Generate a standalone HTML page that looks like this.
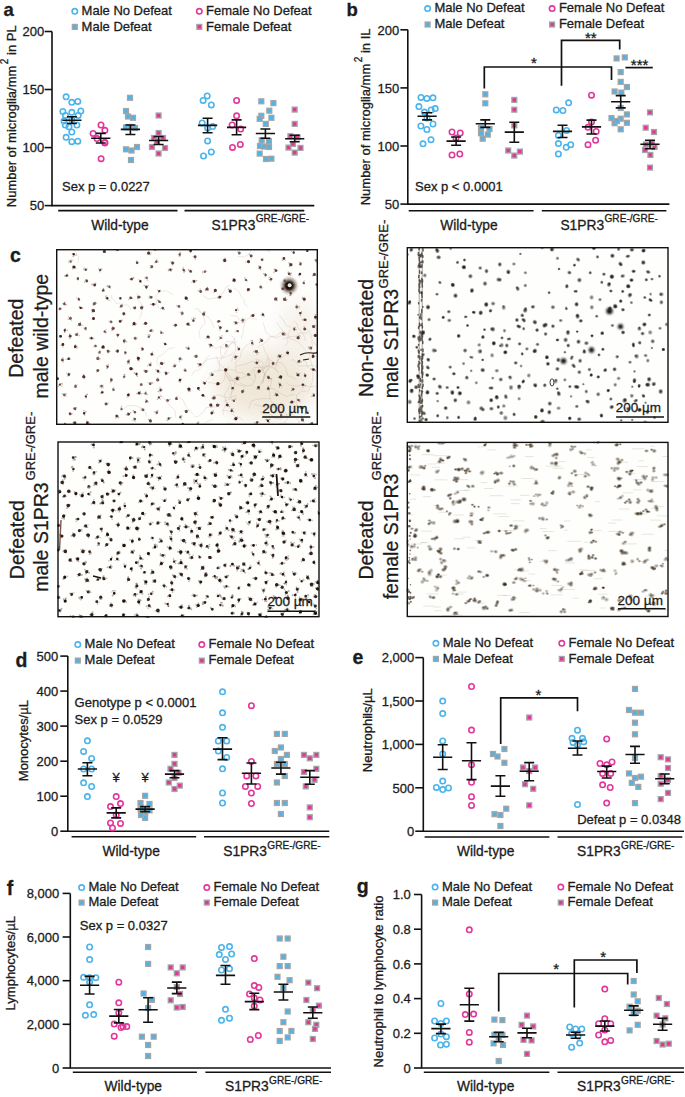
<!DOCTYPE html>
<html><head><meta charset="utf-8"><style>
html,body{margin:0;padding:0;background:#fff;width:685px;height:1097px;overflow:hidden}
svg{display:block;font-family:"Liberation Sans",sans-serif;font-size:13.0px}
#charts text{fill:#1c1c1c;stroke:#1c1c1c;stroke-width:.3px}
.tx text{stroke:#1c1c1c;stroke-width:.28px}
#charts .o{fill:none;stroke-width:1.6}
#charts .s{stroke:none}
</style></head><body>
<svg width="685" height="1097" viewBox="0 0 685 1097">
<defs>
<filter id="bl05" x="-50%" y="-50%" width="200%" height="200%"><feGaussianBlur stdDeviation="0.5"/></filter>
<filter id="bl1" x="-50%" y="-50%" width="200%" height="200%"><feGaussianBlur stdDeviation="1"/></filter>
<filter id="bl07" x="-50%" y="-50%" width="200%" height="200%"><feGaussianBlur stdDeviation="0.7"/></filter>
<filter id="bl08" x="-50%" y="-50%" width="200%" height="200%"><feGaussianBlur stdDeviation="0.85"/></filter>
<radialGradient id="rg3"><stop offset="0" stop-color="#1c1a17"/><stop offset=".3" stop-color="#24221e" stop-opacity=".85"/><stop offset="1" stop-color="#3a3832" stop-opacity="0"/></radialGradient>
<radialGradient id="rg4"><stop offset="0" stop-color="#2a1e12"/><stop offset=".3" stop-color="#3a2c1c" stop-opacity=".7"/><stop offset="1" stop-color="#5a4a34" stop-opacity="0"/></radialGradient>
<filter id="bl6" x="-50%" y="-50%" width="200%" height="200%"><feGaussianBlur stdDeviation="10"/></filter>
</defs>
<rect width="685" height="1097" fill="#fff"/>
<g><clipPath id="cl1"><rect x="56" y="249" width="262" height="176"/></clipPath><g clip-path="url(#cl1)"><rect x="56" y="249" width="262" height="176" fill="#fefefd"/><g filter="url(#bl6)" opacity=".6"><ellipse cx="265" cy="385" rx="50" ry="35" fill="#e6d9c2"/><ellipse cx="300" cy="330" rx="20" ry="30" fill="#f0e9dc"/></g><g fill="none" stroke="#9a8068" stroke-width=".5" stroke-opacity=".35" stroke-linejoin="round"><path d="M174.5 347.5L168.1 348.8L164.0 353.3L157.5 357.5L156.6 362.3L161.3 368.6"/><path d="M237.7 256.4L244.4 256.9L246.9 255.2L249.8 253.4L251.5 249.3L248.6 244.4"/><path d="M277.7 372.0L274.9 368.2L278.1 359.8L284.3 356.1L287.0 352.7L287.9 349.4"/><path d="M256.8 319.5L248.8 317.9L245.9 320.9L240.1 320.8L237.1 316.3L230.4 315.4"/><path d="M243.2 421.2L240.3 417.8L237.0 417.6L233.7 415.2L229.6 411.2L222.3 410.1"/><path d="M253.1 341.6L246.3 345.4L241.1 351.8L240.6 357.2L235.7 361.9L235.6 370.9"/><path d="M111.9 294.5L111.6 297.9L115.9 302.7L122.2 304.8L127.9 305.2L131.1 310.1"/><path d="M223.3 415.3L222.9 411.2L226.3 403.2L224.5 394.7L228.1 389.1L229.5 385.7"/><path d="M284.9 346.2L287.8 342.5L287.8 335.1L284.5 332.3L279.1 326.3L276.8 322.2"/><path d="M236.1 366.2L241.2 364.9L244.9 364.4L252.6 361.2L258.5 364.9L262.3 370.1"/><path d="M307.9 393.3L310.4 387.0L312.9 380.0L312.7 371.0L307.9 367.0L304.7 359.2"/><path d="M249.1 372.8L253.9 367.6L262.1 367.3L269.7 365.8L275.3 369.1L279.0 372.8"/><path d="M277.6 424.3L282.7 422.7L289.1 423.8L297.1 424.2L302.4 418.9L301.4 412.4"/><path d="M261.7 384.1L263.4 381.6L264.7 374.6L263.0 370.9L265.7 364.5L268.1 356.5"/><path d="M254.3 404.4L259.4 405.6L264.0 407.4L269.6 405.4L277.3 408.0L283.6 414.0"/><path d="M236.8 341.7L231.1 343.4L224.8 348.3L219.3 346.6L216.6 348.3L213.4 347.6"/><path d="M294.6 321.0L296.9 323.2L297.6 327.6L300.1 329.7L303.3 334.4L305.7 340.9"/><path d="M228.3 369.4L234.1 370.2L237.5 372.4L242.6 373.0L247.9 376.0L253.5 381.1"/><path d="M159.1 388.4L160.3 395.6L164.7 399.2L169.8 405.9L174.8 410.0L175.9 417.7"/><path d="M228.9 395.5L233.7 390.0L234.9 381.7L242.7 377.6L249.9 374.6L256.0 368.8"/><path d="M255.4 377.3L255.7 374.2L257.9 371.6L261.7 370.5L268.1 366.2L269.1 362.4"/><path d="M191.3 376.3L194.2 371.1L197.7 370.6L202.3 366.5L205.4 359.8L209.4 355.1"/><path d="M248.7 408.6L251.5 401.0L257.5 399.3L261.6 398.8L267.6 398.5L270.8 398.9"/><path d="M295.7 378.7L292.5 377.6L287.5 375.4L285.3 367.2L281.5 362.8L275.9 362.2"/><path d="M241.5 339.3L241.6 335.5L243.3 332.9L243.2 328.5L244.8 323.9L245.1 317.2"/><path d="M263.2 345.6L264.7 351.0L267.4 355.7L269.1 359.3L275.0 362.7L279.3 367.1"/><path d="M279.0 356.7L276.2 364.0L271.7 365.9L265.5 371.8L263.3 380.5L260.1 382.5"/><path d="M216.9 407.2L213.1 406.9L206.1 407.7L204.0 411.4L197.6 416.9L194.0 416.0"/><path d="M282.8 339.0L285.8 337.9L291.7 336.5L295.6 336.1L298.7 333.3L307.7 332.8"/><path d="M312.6 368.0L311.1 362.4L309.8 356.9L309.8 353.8L312.8 346.4L311.3 340.8"/><path d="M224.5 373.3L229.4 379.4L231.7 387.2L231.8 392.6L230.7 398.6L223.6 401.8"/><path d="M123.7 409.4L127.6 405.6L135.8 405.8L142.8 408.9L146.0 413.3L146.6 416.7"/><path d="M245.8 386.7L237.4 384.6L233.2 381.9L229.2 376.9L226.1 372.5L228.7 366.2"/><path d="M239.7 383.1L246.6 385.8L252.0 385.2L254.2 381.6L255.3 378.2L253.8 369.9"/><path d="M200.1 338.4L199.1 331.6L200.6 328.5L205.2 322.6L203.1 314.3L198.4 310.8"/><path d="M212.6 419.2L206.6 422.0L203.1 425.1L197.2 427.6L192.3 433.1L191.3 436.0"/><path d="M290.5 360.3L293.8 359.8L299.6 366.2L308.1 366.0L313.9 365.0L317.0 368.2"/><path d="M193.1 414.0L187.4 408.5L185.3 405.5L183.3 400.1L180.6 398.2L177.7 395.9"/><path d="M235.4 380.7L229.2 380.4L224.8 372.9L224.5 368.5L218.4 362.8L216.6 356.3"/><path d="M269.3 381.7L268.3 377.7L262.4 371.1L263.2 362.9L260.8 360.6L255.4 359.0"/><path d="M214.1 328.2L211.7 321.8L208.3 317.0L203.6 315.2L198.4 309.1L194.7 309.0"/><path d="M268.0 358.8L269.7 363.0L268.5 368.1L263.9 375.7L262.6 381.9L257.2 388.5"/><path d="M304.0 327.3L308.7 330.9L311.2 335.0L311.2 338.4L315.0 344.3L319.8 345.1"/><path d="M222.0 356.9L220.5 353.5L220.5 347.1L226.9 341.3L232.5 341.8L236.2 344.9"/><path d="M139.2 319.3L141.2 314.6L141.9 309.4L141.5 304.1L137.5 299.2L136.9 293.0"/><path d="M291.0 412.4L295.2 416.8L299.2 421.8L297.4 428.5L294.8 430.7L288.4 435.1"/><path d="M78.0 263.4L78.7 256.6L74.4 250.5L73.1 246.2L67.3 241.3L61.7 236.2"/><path d="M159.3 308.5L156.3 303.0L155.9 295.8L159.7 291.8L166.6 290.8L173.3 294.9"/><path d="M274.5 405.4L270.1 399.6L269.9 394.1L269.1 390.3L271.6 381.7L271.8 377.7"/><path d="M314.6 325.3L317.3 331.6L316.7 335.6L320.5 339.9L325.0 347.1L328.7 347.4"/><path d="M286.3 382.0L289.7 385.3L297.2 386.2L303.2 384.7L308.7 386.8L317.0 386.0"/><path d="M313.2 370.2L320.9 374.2L323.3 378.9L325.8 384.5L332.7 390.2L335.1 394.0"/><path d="M295.2 394.6L291.3 394.7L287.1 396.4L281.4 394.2L274.1 388.9L268.0 387.9"/><path d="M298.0 408.7L296.3 404.4L296.4 400.8L296.5 395.0L301.7 391.1L306.5 391.4"/><path d="M262.8 322.4L264.2 326.4L265.8 332.3L272.3 337.0L277.0 338.2L281.0 335.5"/><path d="M283.0 330.2L276.5 336.2L269.6 336.7L267.0 341.3L263.4 344.0L258.4 346.8"/><path d="M58.7 423.5L58.9 428.3L60.7 434.2L63.9 438.1L69.4 442.4L73.6 443.2"/><path d="M247.6 307.0L244.3 303.3L244.0 299.7L241.5 297.2L238.4 290.7L233.6 288.1"/><path d="M231.4 335.7L234.2 337.6L235.0 343.1L235.8 349.9L232.5 357.2L231.6 362.1"/><path d="M284.4 423.1L288.0 417.5L286.0 412.9L281.5 407.6L276.3 407.3L268.6 406.6"/><path d="M291.8 414.7L285.8 414.7L280.3 419.4L274.4 417.8L268.3 412.7L259.6 411.9"/><path d="M233.4 380.1L228.0 373.4L223.3 370.1L214.6 371.3L209.1 377.7L204.5 382.1"/><path d="M202.8 295.5L208.3 299.2L216.2 297.8L223.1 293.1L225.9 287.3L229.6 285.5"/><path d="M226.2 423.6L231.0 423.3L238.1 425.3L244.7 425.6L247.2 427.4L253.0 427.7"/><path d="M225.5 374.1L224.4 379.0L222.8 381.8L219.9 384.4L213.4 383.1L208.0 382.3"/><path d="M219.4 370.3L219.3 361.4L224.2 354.9L226.8 349.9L231.6 343.0L235.3 338.1"/><path d="M212.1 395.9L218.6 394.8L223.2 396.4L226.1 398.1L231.7 396.9L236.9 395.7"/><path d="M232.8 351.5L231.5 354.6L223.3 357.8L215.1 358.0L207.4 359.5L201.9 364.6"/><path d="M294.7 332.1L293.5 329.4L289.6 326.6L286.3 325.7L282.5 318.8L279.2 314.9"/><path d="M306.6 351.6L300.8 344.9L297.9 341.9L290.0 338.6L288.4 334.8L289.9 329.8"/></g><g filter="url(#bl05)" fill="none" stroke-linecap="round"><path d="M105.4 404.0h0M104.9 404.9h0M108.4 403.2h0M107.2 404.8h0M156.7 410.9h0M148.7 363.9h0M103.2 385.0h0M99.9 386.8h0M99.9 385.3h0M101.9 388.2h0M103.5 387.2h0M117.7 336.2h0M117.8 337.1h0M119.7 334.3h0M285.3 281.6h0M287.0 281.1h0M95.3 303.2h0M95.6 302.0h0M125.9 354.3h0M126.2 352.6h0M263.0 258.6h0M261.6 259.1h0M263.2 260.0h0M64.8 422.5h0M64.1 424.7h0M66.4 424.1h0M202.2 292.0h0M143.8 370.8h0M261.5 288.6h0M260.2 288.1h0M262.1 287.7h0M234.7 401.5h0M149.4 296.6h0M140.0 385.8h0M141.7 383.9h0M71.6 320.6h0M70.7 317.4h0M123.4 376.5h0M124.6 374.9h0M123.0 378.5h0M123.9 374.7h0M241.9 322.6h0M243.0 319.1h0M242.2 318.3h0M244.4 319.6h0M239.4 250.9h0M238.0 253.0h0M239.0 254.4h0M180.1 307.3h0M228.1 346.7h0M226.2 347.2h0M226.4 347.1h0M98.5 356.2h0M97.4 359.4h0M120.2 306.3h0M83.5 328.1h0M86.0 327.4h0M86.4 330.1h0M180.3 312.2h0M180.7 312.9h0M246.7 281.5h0M120.8 410.0h0M219.3 336.5h0M219.3 339.4h0M219.9 337.0h0M176.3 365.1h0M314.8 260.5h0M317.6 261.7h0M317.5 260.3h0M59.4 308.2h0M59.2 309.8h0M235.4 331.8h0M238.6 331.8h0M145.8 391.3h0M143.0 393.5h0M146.2 394.3h0M312.7 423.9h0M312.6 422.3h0M272.8 364.8h0M272.3 363.0h0M135.7 339.6h0M136.5 338.7h0M137.2 337.8h0M206.6 271.4h0M202.6 271.4h0M177.5 399.4h0M176.6 397.8h0M249.5 374.8h0M133.5 418.0h0M132.7 420.3h0M135.1 421.3h0M134.0 420.4h0M296.8 309.0h0M296.9 308.0h0M296.7 304.9h0M77.0 384.6h0M75.1 385.7h0M74.2 387.3h0M75.1 385.1h0M87.2 269.1h0M86.8 269.8h0M111.2 320.9h0M108.9 321.3h0M179.1 256.2h0M180.9 253.2h0M178.3 254.2h0M98.4 352.6h0M98.3 353.4h0M99.2 353.3h0M147.0 280.4h0M237.5 349.1h0M239.6 348.0h0M196.1 354.7h0M197.1 356.0h0M194.8 357.1h0M149.5 334.6h0M77.7 332.7h0M75.1 334.2h0M311.7 349.3h0M66.1 396.3h0M162.8 309.3h0M160.6 308.8h0M303.9 284.1h0M303.8 281.8h0M304.2 282.2h0M304.3 280.5h0M113.5 387.7h0M113.1 390.8h0M112.6 389.2h0M225.8 331.7h0M181.7 358.7h0M180.9 357.1h0M140.9 409.9h0M236.6 312.4h0M184.3 410.7h0M188.2 410.6h0M107.8 351.9h0M106.3 350.6h0M108.9 352.7h0M110.4 351.5h0M96.7 346.4h0M93.4 346.6h0M95.1 345.1h0M182.4 416.0h0M181.1 415.4h0M71.8 259.7h0M68.6 262.3h0M73.0 260.7h0" stroke="#5a3a2e" stroke-width="1.2" stroke-opacity="0.3"/><path d="M316.9 286.8h0M317.8 283.4h0M83.6 374.4h0M84.7 376.9h0M84.3 378.7h0M82.7 377.2h0M294.1 401.7h0M174.2 262.9h0M172.1 264.7h0M170.8 261.8h0M137.3 376.4h0M103.1 289.1h0M102.5 291.0h0M286.9 353.2h0M286.7 352.5h0M288.2 354.8h0M286.2 352.0h0M134.3 411.5h0M127.3 363.7h0M127.2 361.9h0M195.9 256.1h0M195.4 259.1h0M193.3 256.5h0M76.9 297.8h0M78.4 297.9h0M120.2 298.9h0M119.5 298.7h0M64.9 332.5h0M64.5 331.5h0M104.5 348.0h0M101.5 347.7h0M216.4 290.3h0M215.7 289.3h0M259.3 387.1h0M256.8 389.0h0M206.4 338.2h0M209.6 337.4h0M207.1 336.6h0M209.4 336.7h0M210.8 375.3h0M209.9 374.1h0M211.5 375.6h0M59.6 335.6h0M59.2 336.8h0M73.4 408.0h0M75.5 410.0h0M76.4 407.5h0M198.2 389.7h0M138.1 360.1h0M139.0 360.8h0M270.8 281.0h0M270.6 277.0h0M96.6 372.1h0M313.0 275.9h0M312.6 275.3h0M316.1 275.0h0M250.4 256.1h0M251.0 257.8h0M250.3 255.8h0M288.0 272.9h0M288.2 271.8h0M290.7 275.3h0M134.2 322.1h0M132.5 325.5h0M136.5 323.9h0M249.3 288.9h0M249.8 289.0h0M301.6 311.7h0M301.4 312.6h0M299.1 313.0h0M312.1 357.6h0M315.0 356.2h0M162.5 364.2h0M163.0 363.8h0M211.2 403.7h0M209.9 405.0h0M212.6 406.1h0M158.6 398.2h0M157.4 399.4h0M160.5 399.0h0M110.3 288.2h0M158.1 261.8h0M157.0 261.2h0M154.9 262.7h0M298.8 375.6h0M299.9 373.4h0M299.0 375.9h0M296.5 375.5h0M149.9 382.7h0M148.0 382.8h0M151.8 382.5h0M149.7 384.5h0M291.7 251.3h0M294.1 253.5h0M67.2 274.1h0M67.7 274.3h0M65.2 276.6h0M64.5 275.6h0M62.9 303.6h0M65.9 305.0h0M64.4 302.9h0M95.7 283.1h0M281.6 288.1h0M283.2 287.8h0M281.8 288.8h0M148.3 285.7h0M62.1 360.7h0M63.6 360.3h0M63.0 357.6h0M267.0 420.2h0M268.9 422.6h0M233.0 408.9h0M232.1 410.0h0M80.0 325.6h0M78.0 325.7h0M80.6 323.9h0M80.5 322.4h0M185.2 296.4h0M143.2 323.9h0M146.9 323.4h0M147.1 323.3h0M68.6 336.3h0M69.4 336.0h0M104.7 330.8h0M105.5 333.0h0M106.2 329.5h0M302.9 387.1h0M302.1 384.3h0M218.1 322.3h0M126.9 395.9h0M127.8 397.3h0M128.6 393.6h0M91.2 336.9h0M92.9 338.2h0M93.9 338.5h0M90.2 337.5h0M149.5 420.7h0M148.6 419.4h0M117.0 250.8h0M118.4 249.9h0M118.4 247.1h0M160.3 290.1h0M158.5 292.0h0M157.7 289.8h0M201.6 395.4h0M204.7 396.4h0M237.1 418.5h0M236.0 420.3h0M237.2 416.8h0M204.0 315.4h0M252.0 344.9h0M251.1 340.7h0M253.3 344.4h0M188.8 269.7h0M191.7 271.5h0M75.0 267.4h0M72.7 268.9h0M72.8 267.2h0M75.9 268.3h0M73.1 265.9h0M285.3 260.1h0M187.9 388.6h0M188.4 391.7h0M189.0 390.2h0M142.0 307.0h0M142.1 305.9h0M140.4 307.1h0M142.4 307.4h0M276.6 396.0h0M278.3 395.7h0M274.9 395.1h0M274.8 395.3h0M165.8 374.8h0M166.0 371.3h0M168.7 372.7h0M103.4 251.8h0M104.4 249.1h0M104.6 248.8h0M105.4 249.7h0M301.7 419.5h0M302.2 417.7h0M301.6 418.9h0M303.8 421.7h0M301.4 419.3h0M238.6 322.5h0M235.1 321.6h0M237.5 324.0h0M68.2 373.2h0M66.7 373.2h0M67.8 375.9h0M69.1 375.7h0M63.2 347.0h0M61.1 345.3h0M274.5 299.9h0M277.1 298.1h0M276.4 299.9h0M218.7 383.3h0M158.1 372.6h0M159.9 372.7h0M265.4 276.7h0M265.7 276.0h0M84.7 415.1h0M84.7 413.9h0M182.8 269.1h0M184.0 272.4h0M185.1 271.4h0M217.7 297.9h0M221.6 296.3h0M218.4 297.0h0M219.9 296.4h0M136.4 262.1h0M138.5 262.5h0M136.8 260.8h0M137.1 261.9h0M181.8 424.7h0M183.3 426.1h0M281.4 333.5h0M282.6 332.6h0M284.8 335.4h0M198.8 366.5h0M200.9 364.1h0M198.6 365.0h0M198.1 363.5h0M127.0 415.1h0M128.1 414.9h0M126.1 414.6h0M99.8 271.8h0M98.5 268.8h0M102.2 269.1h0M101.0 269.1h0M189.1 249.2h0M190.7 252.5h0M307.3 249.8h0M307.8 250.0h0M268.2 386.4h0M266.9 389.1h0M269.3 389.3h0M268.3 389.8h0M254.9 422.7h0M257.0 421.6h0M303.8 320.2h0M306.4 319.4h0M208.2 290.3h0M207.5 287.3h0M205.4 290.5h0M205.5 289.7h0M79.3 306.9h0M82.0 308.3h0M110.5 381.2h0M110.5 382.3h0M232.5 280.9h0M234.7 281.8h0M233.3 280.1h0M234.0 279.1h0M91.9 312.1h0M93.1 309.6h0M167.7 420.7h0M166.8 420.0h0M139.4 281.6h0M140.9 282.3h0M139.2 279.7h0M218.1 406.0h0M218.7 404.9h0M217.1 404.4h0M87.1 394.6h0M86.2 398.0h0M218.5 325.9h0M315.6 334.5h0M315.6 336.2h0M105.7 296.8h0M107.0 298.9h0M74.5 347.8h0M77.1 348.2h0M77.8 346.8h0M279.9 383.0h0M278.5 383.1h0M279.8 385.6h0M291.8 388.2h0M292.5 389.8h0M150.3 265.6h0M148.3 401.9h0M145.7 402.3h0M146.0 399.4h0M84.9 281.2h0M84.7 282.5h0M75.9 422.6h0M73.0 422.3h0M75.2 424.7h0M108.4 364.4h0M106.4 365.4h0M107.7 367.6h0M238.8 380.0h0M116.2 351.3h0M117.8 352.4h0M115.5 351.0h0M283.3 298.3h0M287.0 299.3h0M120.1 320.1h0M289.8 295.7h0M289.8 291.6h0M292.0 293.8h0M291.1 295.6h0M208.9 344.6h0M209.1 344.2h0M291.9 265.8h0M153.4 330.7h0M152.3 331.6h0M152.2 329.8h0M94.2 318.6h0M78.2 279.7h0M78.5 277.5h0M268.6 375.9h0M269.5 378.5h0M267.3 376.4h0M112.7 326.7h0M113.9 328.2h0M191.9 318.8h0M192.4 321.3h0M158.1 300.2h0M160.5 302.4h0M160.0 301.3h0M125.7 314.0h0M151.5 304.5h0M153.2 305.6h0M153.1 303.4h0M152.6 352.1h0M153.8 354.8h0M132.5 369.5h0M132.5 368.5h0M311.7 396.3h0M313.3 396.6h0M138.3 393.7h0M68.5 357.7h0M66.0 359.3h0M68.1 358.3h0M297.5 361.9h0M301.3 361.9h0M56.6 380.1h0M58.5 378.9h0M252.1 315.8h0M254.2 314.1h0M250.6 316.2h0M169.7 268.9h0M170.9 271.2h0M172.1 269.4h0M247.5 261.6h0M249.8 262.3h0M245.9 261.9h0M277.3 270.6h0M276.7 270.2h0M184.9 368.4h0M186.0 371.5h0M295.2 327.4h0M296.2 329.8h0M293.9 327.4h0M258.8 352.5h0M257.2 351.2h0M255.0 350.7h0M305.0 376.5h0M304.4 373.5h0M305.3 377.2h0M281.3 379.0h0M280.6 377.9h0M128.8 299.6h0M131.7 298.0h0M278.9 355.3h0M281.3 354.6h0M72.2 413.8h0M186.9 348.1h0M118.4 416.2h0M115.6 418.1h0M86.4 424.6h0M86.5 421.0h0M73.0 256.5h0M73.6 256.2h0M72.5 254.2h0M312.6 369.3h0M191.9 282.5h0M194.5 280.2h0M193.2 281.1h0M192.7 280.4h0M297.3 399.2h0M235.2 359.2h0M300.1 262.2h0M299.5 264.3h0M266.7 246.9h0M269.1 251.0h0M61.0 383.4h0M61.8 386.2h0M124.9 339.2h0M233.6 387.7h0M231.7 389.1h0M232.6 387.3h0M233.5 389.1h0M305.3 413.8h0M305.8 412.8h0M308.9 411.0h0M307.2 411.3h0M300.8 273.9h0M299.4 275.4h0M299.6 275.8h0M304.1 326.5h0M305.5 329.2h0M305.5 329.7h0M204.7 384.1h0M206.4 381.5h0M141.3 348.4h0M141.5 350.4h0M143.0 350.4h0M165.7 343.0h0M166.6 344.5h0M129.9 279.4h0M133.8 278.2h0M302.4 298.2h0M305.3 299.3h0M302.7 297.2h0M305.0 300.3h0M153.2 247.9h0M152.8 248.5h0M190.1 325.4h0M189.0 325.2h0M244.2 391.1h0M243.6 389.6h0M101.5 391.1h0M100.2 393.0h0M100.4 393.1h0M222.9 259.8h0M148.7 251.0h0M148.0 254.1h0M151.1 252.8h0M259.0 370.2h0M260.1 371.4h0M138.1 297.9h0M137.5 298.1h0M181.6 379.8h0M302.8 408.5h0M304.1 407.5h0M303.7 407.9h0M196.2 424.0h0M197.4 422.2h0M198.9 426.3h0M255.1 362.5h0M255.6 363.0h0M173.5 325.4h0M175.5 326.5h0M175.0 326.7h0" stroke="#5a3a2e" stroke-width="1.2" stroke-opacity="0.4"/><path d="M105.0 403.2h0M312.5 325.7h0M315.5 325.5h0M314.1 327.5h0M156.5 413.7h0M157.8 410.8h0M154.5 411.8h0M150.8 362.9h0M147.8 365.7h0M117.3 334.4h0M284.5 279.8h0M285.5 281.1h0M96.4 303.5h0M93.1 305.2h0M95.8 302.6h0M125.0 351.5h0M124.7 353.8h0M124.8 351.9h0M261.1 259.6h0M64.4 425.3h0M64.8 425.2h0M200.2 289.1h0M198.2 290.8h0M144.3 370.2h0M147.7 371.0h0M146.7 371.8h0M235.6 398.9h0M232.2 400.0h0M149.3 297.7h0M152.2 297.0h0M149.9 296.1h0M149.1 298.1h0M142.0 385.2h0M68.4 316.8h0M68.2 319.2h0M124.8 374.5h0M243.1 322.4h0M160.9 333.4h0M163.4 333.3h0M160.5 331.0h0M238.0 251.7h0M178.9 307.3h0M177.0 305.9h0M227.6 346.8h0M99.0 359.8h0M100.1 358.8h0M120.1 307.4h0M122.3 305.9h0M122.2 304.4h0M85.5 329.6h0M85.8 327.6h0M181.6 315.0h0M182.0 311.7h0M182.4 311.8h0M247.2 280.5h0M244.9 277.9h0M121.1 407.7h0M121.7 406.6h0M222.2 338.2h0M221.9 335.9h0M174.6 364.2h0M174.8 364.4h0M173.2 366.5h0M315.0 259.3h0M316.2 262.1h0M61.1 308.5h0M236.7 330.2h0M236.6 331.3h0M159.0 380.2h0M157.9 378.0h0M158.2 380.8h0M145.8 392.6h0M147.2 394.4h0M309.9 423.9h0M312.0 424.9h0M273.0 364.5h0M279.8 413.1h0M280.6 417.1h0M280.7 414.0h0M135.8 337.0h0M136.2 338.8h0M205.4 270.6h0M202.6 272.7h0M176.6 396.9h0M250.4 375.2h0M249.0 375.2h0M249.3 374.9h0M299.0 307.7h0M299.1 306.5h0M169.9 399.6h0M168.2 401.2h0M168.5 400.5h0M75.6 385.1h0M84.1 268.0h0M86.2 269.0h0M83.8 269.4h0M110.2 321.4h0M110.0 322.3h0M110.2 320.5h0M180.0 252.4h0M179.7 256.1h0M100.0 350.9h0M100.3 353.6h0M145.1 277.9h0M147.4 278.9h0M237.6 347.3h0M238.3 349.9h0M194.3 356.1h0M148.4 334.8h0M150.2 335.6h0M77.8 334.0h0M79.0 335.6h0M311.1 348.8h0M309.4 349.1h0M308.8 347.1h0M308.4 347.6h0M62.4 393.9h0M62.6 394.1h0M66.1 393.7h0M164.2 309.4h0M304.3 283.8h0M300.1 336.0h0M298.9 335.8h0M298.5 338.8h0M297.4 338.0h0M299.0 338.6h0M112.7 388.7h0M226.5 331.7h0M228.1 331.1h0M179.9 358.0h0M182.0 359.7h0M179.6 361.3h0M142.0 410.2h0M142.0 408.6h0M235.3 310.0h0M237.4 308.2h0M238.4 310.0h0M186.1 412.6h0M107.8 352.8h0M96.2 345.9h0M179.7 417.8h0M181.3 419.1h0M69.2 261.1h0" stroke="#5a3a2e" stroke-width="1.6" stroke-opacity="0.3"/><path d="M318.5 284.5h0M290.3 402.5h0M290.5 402.5h0M172.9 264.8h0M136.6 372.8h0M136.8 375.5h0M134.5 372.9h0M102.2 290.6h0M103.5 288.6h0M102.6 290.4h0M264.1 316.2h0M262.4 313.4h0M262.2 315.1h0M261.4 315.0h0M133.2 410.5h0M135.1 412.9h0M135.7 412.2h0M129.0 363.6h0M129.2 359.9h0M194.8 255.8h0M194.8 256.1h0M79.5 299.7h0M79.4 300.3h0M120.4 298.9h0M120.9 299.0h0M65.3 328.7h0M64.6 331.8h0M67.1 330.2h0M102.8 348.3h0M214.1 292.2h0M259.4 388.8h0M258.0 388.6h0M259.3 389.2h0M209.1 338.3h0M211.3 373.1h0M59.7 336.2h0M74.1 408.8h0M199.5 390.2h0M199.2 387.9h0M137.4 358.4h0M137.5 357.0h0M138.1 360.3h0M269.4 279.6h0M269.2 277.5h0M272.0 278.9h0M96.8 370.2h0M98.8 370.1h0M249.6 254.6h0M291.2 273.4h0M135.0 325.0h0M247.8 290.9h0M300.4 315.1h0M312.5 354.7h0M313.3 354.6h0M164.0 363.0h0M160.4 362.9h0M162.3 364.4h0M211.2 406.8h0M161.0 396.3h0M107.3 286.5h0M107.3 285.8h0M156.6 260.0h0M296.7 373.2h0M152.5 383.0h0M293.8 251.4h0M68.0 275.8h0M66.1 304.5h0M64.9 302.2h0M92.0 284.8h0M92.3 284.2h0M95.1 285.6h0M95.6 284.3h0M144.3 285.6h0M146.4 288.6h0M63.0 362.0h0M269.7 419.5h0M266.2 419.5h0M268.7 421.7h0M233.6 411.7h0M231.5 409.1h0M81.9 325.2h0M187.9 300.2h0M185.4 297.7h0M229.5 291.4h0M228.8 289.4h0M229.8 291.8h0M228.5 289.4h0M69.8 338.4h0M69.7 334.4h0M106.2 332.2h0M303.9 384.5h0M302.1 384.6h0M305.1 385.7h0M217.4 321.7h0M220.3 321.4h0M89.9 338.4h0M150.1 419.8h0M203.9 395.6h0M234.2 419.2h0M204.9 312.1h0M203.9 312.4h0M252.3 340.6h0M189.7 271.7h0M191.3 272.3h0M188.9 270.2h0M283.9 259.4h0M282.3 260.3h0M188.2 388.5h0M190.1 391.2h0M143.1 307.0h0M275.6 393.4h0M164.9 372.2h0M235.2 324.1h0M234.0 322.1h0M70.0 373.5h0M62.3 345.6h0M277.0 300.2h0M219.2 383.4h0M216.6 384.7h0M156.0 369.8h0M265.2 273.7h0M263.8 273.7h0M84.0 410.7h0M85.8 411.9h0M183.3 268.0h0M182.7 269.7h0M219.0 297.8h0M137.6 263.4h0M182.8 423.2h0M284.2 332.8h0M285.5 334.0h0M198.0 363.8h0M127.8 413.1h0M130.7 412.8h0M100.2 270.8h0M190.4 250.0h0M189.6 251.1h0M306.3 249.7h0M161.0 389.0h0M158.3 391.5h0M160.0 388.1h0M162.0 389.7h0M256.0 423.4h0M258.4 422.0h0M303.0 319.4h0M306.2 320.5h0M303.0 319.9h0M206.5 289.6h0M82.4 307.9h0M79.7 306.7h0M111.5 381.2h0M110.9 378.4h0M233.4 279.0h0M91.7 310.5h0M93.0 309.6h0M92.2 309.6h0M168.5 419.3h0M170.9 417.8h0M219.5 404.8h0M87.1 394.2h0M220.0 330.0h0M219.9 328.3h0M213.9 412.8h0M213.3 410.9h0M211.5 413.9h0M314.1 335.7h0M105.9 298.2h0M109.0 300.2h0M106.2 296.0h0M75.5 345.1h0M279.5 387.1h0M281.6 385.7h0M291.6 390.5h0M151.2 267.5h0M150.5 268.0h0M145.8 401.9h0M85.8 279.7h0M106.9 368.4h0M235.0 378.6h0M239.0 377.4h0M237.1 376.5h0M117.7 351.9h0M117.1 352.0h0M286.2 300.5h0M285.4 297.6h0M121.4 321.1h0M122.0 320.2h0M290.3 295.0h0M209.9 346.9h0M211.8 345.5h0M212.8 346.0h0M289.4 266.3h0M289.0 263.0h0M289.8 264.1h0M290.4 265.2h0M149.8 331.0h0M151.7 329.6h0M92.6 319.2h0M94.3 318.9h0M77.3 279.2h0M78.1 279.6h0M270.9 378.7h0M113.8 327.8h0M114.4 328.1h0M112.1 330.6h0M193.6 318.0h0M195.1 318.5h0M229.3 406.5h0M226.1 405.3h0M227.1 403.0h0M158.0 300.2h0M160.5 302.5h0M124.6 313.2h0M123.8 315.2h0M155.3 304.3h0M150.9 304.2h0M151.9 353.4h0M132.9 369.1h0M130.4 368.0h0M313.4 393.7h0M313.9 394.1h0M314.4 394.8h0M141.1 393.7h0M140.3 391.9h0M136.9 393.5h0M138.9 392.3h0M69.2 357.6h0M70.0 358.9h0M299.7 360.3h0M55.9 379.9h0M55.9 378.1h0M168.5 269.7h0M168.6 270.6h0M274.5 269.3h0M275.7 269.9h0M273.9 272.3h0M184.0 370.3h0M258.7 266.0h0M258.8 268.5h0M260.6 269.6h0M260.7 266.9h0M257.1 354.0h0M253.9 351.8h0M305.4 376.3h0M304.4 375.7h0M279.8 377.4h0M278.6 377.4h0M129.9 297.8h0M132.5 298.3h0M278.9 354.8h0M277.8 356.4h0M69.4 412.9h0M69.6 413.4h0M186.2 347.6h0M188.4 347.0h0M118.6 417.5h0M116.3 415.2h0M89.7 423.3h0M87.5 421.8h0M87.8 421.6h0M72.5 253.8h0M76.0 255.1h0M315.2 370.4h0M312.5 369.4h0M311.3 369.1h0M262.4 341.1h0M262.7 340.7h0M260.4 338.9h0M261.7 339.7h0M259.6 342.2h0M196.5 280.7h0M133.4 307.2h0M135.6 308.0h0M135.3 306.6h0M299.8 401.6h0M299.7 400.1h0M237.7 356.5h0M236.0 358.1h0M234.6 357.5h0M300.5 263.3h0M301.5 263.1h0M299.9 262.6h0M266.1 248.9h0M58.3 386.3h0M62.2 383.9h0M124.1 342.7h0M126.5 341.8h0M316.5 318.7h0M314.8 318.0h0M315.1 318.8h0M317.2 316.9h0M315.6 314.9h0M300.4 274.7h0M298.7 275.1h0M304.3 330.0h0M203.4 381.9h0M203.5 383.1h0M142.0 347.5h0M215.1 397.4h0M212.1 398.1h0M212.6 398.6h0M164.2 343.2h0M133.5 277.8h0M304.1 300.7h0M155.2 250.2h0M186.9 324.5h0M242.6 392.4h0M242.1 392.7h0M103.4 392.1h0M224.4 259.6h0M224.2 261.7h0M224.0 259.6h0M225.1 258.4h0M150.2 254.4h0M148.5 254.0h0M258.4 372.7h0M140.5 297.2h0M225.4 368.7h0M225.5 371.4h0M226.8 369.4h0M226.8 370.1h0M180.3 382.1h0M180.9 379.2h0M178.9 381.2h0M299.7 407.1h0M198.7 422.3h0M258.3 362.0h0M256.5 361.6h0M176.8 325.5h0" stroke="#5a3a2e" stroke-width="1.6" stroke-opacity="0.4"/></g><g filter="url(#bl05)" fill="none" stroke-linecap="round"><path d="M284.7 280.7h0M65.0 424.3h0M233.9 400.8h0M124.2 376.7h0M245.9 279.9h0M121.6 409.1h0M220.7 337.9h0M316.3 260.4h0M237.8 331.1h0M145.5 393.4h0M281.2 415.2h0M204.8 271.8h0M111.3 322.0h0M99.6 352.1h0M146.7 277.8h0M148.8 336.8h0M303.7 282.9h0M113.6 389.7h0M227.0 330.9h0M95.4 346.0h0M180.4 417.0h0M70.7 261.5h0" stroke="#45201c" stroke-width="2.4" stroke-opacity="0.7"/><path d="M134.8 412.1h0M78.8 299.2h0M125.4 352.6h0M271.0 279.2h0M262.1 259.8h0M158.9 397.4h0M109.4 286.7h0M156.3 261.8h0M150.3 383.8h0M64.3 304.0h0M161.4 332.6h0M104.7 331.6h0M252.2 343.0h0M85.5 328.5h0M265.6 274.9h0M183.9 270.2h0M137.0 262.8h0M100.2 269.9h0M257.1 422.5h0M280.0 384.7h0M293.3 389.2h0M146.6 401.2h0M150.8 330.8h0M77.9 278.4h0M159.3 301.7h0M85.7 269.8h0M179.8 254.5h0M185.3 370.4h0M294.3 329.2h0M239.0 349.0h0M298.4 400.1h0M300.5 264.2h0M59.9 384.6h0M236.1 310.1h0M155.3 249.3h0M256.9 363.0h0" stroke="#45201c" stroke-width="2.4" stroke-opacity="0.8"/><path d="M103.4 290.4h0M120.4 298.1h0M64.8 330.2h0M212.4 374.8h0M300.3 313.1h0M293.7 252.6h0M231.7 410.8h0M302.9 384.8h0M159.2 291.1h0M190.6 271.2h0M307.3 250.9h0M268.2 388.4h0M160.6 390.3h0M305.0 319.8h0M168.7 418.4h0M85.9 396.4h0M107.6 366.6h0M290.6 293.3h0M193.5 320.5h0M313.8 395.4h0M170.5 269.8h0M260.0 267.5h0M305.2 375.5h0M188.5 348.6h0M235.7 356.8h0M232.6 388.1h0M307.6 412.9h0M142.6 349.0h0" stroke="#45201c" stroke-width="2.4" stroke-opacity="0.9"/><path d="M136.5 374.1h0M263.1 314.6h0M66.7 275.6h0M267.9 420.7h0M91.6 338.2h0M68.8 374.5h0M84.1 413.3h0M80.7 307.9h0M140.4 281.3h0M107.3 298.2h0M68.6 358.9h0M73.8 254.2h0M267.6 249.1h0M299.9 273.9h0M204.7 383.2h0M165.2 344.1h0M102.2 392.4h0M179.9 380.0h0M197.8 424.5h0" stroke="#45201c" stroke-width="2.4" stroke-opacity="1.0"/><path d="M156.8 412.6h0M150.2 364.9h0M101.6 386.2h0M260.7 286.9h0M141.2 384.6h0M242.7 320.3h0M239.4 253.1h0M178.9 306.3h0M226.3 345.5h0M121.3 306.2h0M182.3 313.4h0M174.7 366.1h0M60.0 308.8h0M135.0 338.3h0M248.4 374.4h0M134.8 419.1h0M296.7 306.9h0M167.5 400.4h0M75.6 386.5h0M310.8 347.8h0M64.4 395.0h0M179.9 358.8h0M143.1 409.8h0" stroke="#45201c" stroke-width="2.8" stroke-opacity="0.7"/><path d="M316.8 284.6h0M106.2 403.9h0M128.5 361.6h0M195.1 257.0h0M117.8 335.1h0M75.0 408.7h0M97.9 370.6h0M251.2 255.9h0M289.2 273.9h0M200.6 291.5h0M151.1 297.3h0M282.9 288.8h0M62.4 359.9h0M218.7 321.3h0M236.1 322.8h0M283.2 334.2h0M111.4 379.8h0M151.9 266.7h0M86.8 281.0h0M311.8 423.7h0M273.1 363.4h0M176.4 398.7h0M299.0 361.4h0M275.9 270.7h0M130.7 297.9h0M70.2 413.9h0M261.6 340.7h0M76.6 334.7h0M134.7 308.1h0M162.8 308.1h0M124.2 341.0h0M304.7 328.9h0M242.5 391.5h0M108.2 351.2h0" stroke="#45201c" stroke-width="2.8" stroke-opacity="0.8"/><path d="M172.6 262.9h0M258.5 387.4h0M208.0 336.8h0M298.0 374.9h0M94.6 285.0h0M146.4 287.0h0M70.3 336.2h0M283.9 258.4h0M276.8 394.8h0M166.2 373.4h0M158.0 371.2h0M219.8 297.2h0M182.7 424.5h0M200.2 364.6h0M128.6 414.2h0M190.7 250.8h0M220.4 327.6h0M211.8 413.0h0M117.6 351.0h0M120.1 321.4h0M210.8 345.1h0M268.5 377.6h0M123.7 313.7h0M151.8 354.3h0M139.1 393.2h0M279.9 356.3h0M116.8 416.2h0M194.1 281.5h0M131.6 279.1h0M175.6 325.1h0" stroke="#45201c" stroke-width="2.8" stroke-opacity="0.9"/><path d="M287.7 352.8h0M60.7 336.3h0M198.3 388.3h0M313.1 356.5h0M128.4 395.0h0M202.9 395.3h0M62.9 344.5h0M75.3 346.7h0M93.5 318.5h0M227.4 405.1h0M153.4 304.3h0M57.5 378.7h0M87.4 423.0h0M313.5 369.6h0M315.5 317.1h0" stroke="#45201c" stroke-width="2.8" stroke-opacity="1.0"/><path d="M94.3 303.7h0M70.4 318.3h0M97.8 358.4h0M157.6 379.8h0M196.2 356.3h0" stroke="#45201c" stroke-width="3.2" stroke-opacity="0.7"/><path d="M313.6 326.5h0M314.4 274.4h0M161.6 363.4h0M145.9 371.3h0M79.6 324.3h0M150.4 420.9h0M203.7 314.0h0M141.6 307.8h0M302.5 419.8h0M275.7 298.9h0M207.1 289.0h0M217.5 405.2h0M284.6 299.4h0M113.0 328.5h0M256.4 351.5h0M298.1 337.7h0M214.0 397.9h0M186.3 411.4h0M138.8 297.0h0" stroke="#45201c" stroke-width="3.2" stroke-opacity="0.8"/><path d="M83.8 376.7h0M291.9 402.0h0M215.3 290.4h0M248.3 289.5h0M210.8 405.0h0M230.3 291.2h0M145.6 323.3h0M117.5 249.2h0M104.4 251.4h0M93.5 310.7h0M315.4 335.4h0M74.8 422.9h0M237.2 378.6h0M290.9 264.6h0M252.9 315.5h0M248.5 261.6h0M304.2 299.0h0M188.0 324.0h0M224.8 260.4h0M148.6 253.0h0M301.9 407.8h0" stroke="#45201c" stroke-width="3.2" stroke-opacity="0.9"/><path d="M103.1 346.9h0M138.4 358.3h0M134.1 323.7h0M186.2 298.2h0M235.9 418.6h0M74.0 267.0h0M189.0 389.2h0M217.9 383.7h0M234.2 280.2h0M130.9 368.7h0M280.7 376.9h0M259.1 371.2h0M225.7 369.8h0" stroke="#45201c" stroke-width="3.2" stroke-opacity="1.0"/></g><g filter="url(#bl1)"><circle cx="289.2" cy="285.6" r="8" fill="#6a5040" fill-opacity=".5"/><circle cx="289.2" cy="285.6" r="5.2" fill="#140c06"/></g><circle cx="289.6" cy="285.2" r="2" fill="#fff" fill-opacity=".9"/><g filter="url(#bl05)" stroke="#2a1a12" fill="none" stroke-width="1.2"><path d="M300 355q6-3 12-2t6 -3"/><path d="M303 360l6-1"/></g></g><rect x="56.7" y="249.7" width="260.6" height="174.6" fill="none" stroke="#111" stroke-width="1.4"/><clipPath id="cl2"><rect x="57.3" y="441.3" width="262.4" height="176.09999999999997"/></clipPath><g clip-path="url(#cl2)"><rect x="57.3" y="441.3" width="262.4" height="176.09999999999997" fill="#fefefd"/><g filter="url(#bl05)" fill="none" stroke-linecap="round"><path d="M283.7 511.0h0M141.4 559.3h0M140.5 556.4h0M140.6 556.7h0M220.4 534.1h0M297.9 611.2h0M299.3 613.8h0M299.6 611.7h0M302.1 611.2h0M300.8 610.7h0M271.5 475.4h0M139.5 444.5h0M134.7 442.4h0M135.8 445.2h0M303.2 512.6h0M299.1 512.5h0M312.6 562.0h0M196.3 536.7h0M179.8 606.9h0M183.2 607.1h0M72.3 457.3h0M182.5 540.3h0M89.5 485.7h0M264.5 529.6h0M262.9 530.9h0M265.4 530.1h0M266.3 529.1h0M251.3 544.9h0M251.2 545.9h0M175.9 478.5h0M176.4 478.6h0M314.1 473.4h0M208.6 558.5h0M123.3 617.1h0M63.9 518.0h0M109.2 516.1h0M112.1 517.0h0M302.0 532.2h0M305.9 531.9h0M305.9 534.4h0M272.0 521.5h0M268.4 522.5h0M257.0 562.0h0M258.8 562.4h0M242.2 615.3h0M68.9 492.8h0M69.7 491.1h0M232.6 597.6h0M202.1 581.6h0M201.8 582.1h0M181.1 553.9h0M179.6 549.6h0M205.7 602.9h0M206.1 602.1h0M250.8 567.9h0M250.3 565.4h0M308.4 554.1h0M143.9 580.2h0M170.6 530.8h0M171.5 533.7h0M170.2 530.9h0M123.2 442.2h0M82.1 531.2h0M81.9 529.4h0M180.4 572.9h0M182.7 576.3h0M89.7 468.4h0M248.9 616.0h0M266.0 615.7h0M262.0 512.0h0M258.2 511.7h0M240.9 466.7h0M238.8 463.5h0M240.3 465.8h0M271.6 607.4h0M272.5 608.6h0M267.8 609.4h0M268.0 606.9h0M117.4 510.6h0M82.7 563.7h0M85.0 563.9h0M202.8 445.7h0M200.7 447.0h0M204.0 448.3h0M133.6 594.4h0M135.7 596.6h0M184.7 526.9h0M183.7 526.7h0M58.5 492.8h0M59.9 489.6h0M302.6 541.2h0M203.9 453.6h0M259.7 518.1h0M249.1 599.1h0M252.0 600.4h0M252.8 598.5h0M249.5 598.0h0M242.3 540.8h0M241.7 537.6h0M111.1 491.3h0M252.5 552.2h0M213.5 445.3h0M212.1 444.9h0M283.9 470.7h0M316.1 611.3h0M317.3 614.9h0M280.3 469.8h0M276.6 468.5h0M276.3 513.1h0M272.5 511.1h0M273.5 511.5h0M149.7 485.5h0M148.7 482.3h0M219.6 568.5h0M306.1 455.3h0M303.8 457.2h0M221.7 497.5h0M316.0 605.2h0M316.2 605.1h0M243.4 443.7h0M211.7 533.6h0M211.8 534.4h0M208.4 536.9h0M65.8 549.5h0M253.6 455.3h0M255.3 459.2h0M258.3 613.8h0M197.2 530.0h0M172.9 507.1h0M174.6 509.6h0M267.4 459.0h0M310.7 501.3h0M315.8 501.6h0M159.4 510.9h0M64.0 577.1h0M64.3 578.5h0M188.2 550.8h0M139.8 603.8h0M265.6 596.8h0M106.7 614.4h0M105.0 616.0h0M180.8 501.6h0M181.0 501.4h0M151.8 443.5h0M123.5 505.0h0M123.6 506.0h0M296.9 573.8h0M131.7 542.7h0M88.9 581.7h0M250.0 523.2h0M246.6 522.2h0M127.5 578.5h0M127.3 581.7h0M190.9 465.1h0M190.9 466.9h0M289.3 445.7h0M199.2 558.0h0M97.6 536.0h0M230.5 492.2h0M235.2 604.9h0M208.9 522.1h0M209.6 523.3h0M208.6 524.4h0M139.6 589.8h0M73.9 592.8h0M285.2 590.4h0M287.7 594.9h0M217.2 594.1h0M220.4 596.1h0M294.0 490.0h0M77.8 576.5h0M281.6 518.5h0M274.1 498.7h0M59.3 596.9h0M253.0 479.5h0M118.8 551.9h0M160.3 522.4h0M288.7 597.6h0M151.7 468.7h0M294.0 531.9h0M225.9 527.7h0M225.8 525.9h0M225.1 530.3h0M225.4 446.5h0M227.0 448.2h0M115.4 510.7h0M131.7 518.8h0M133.8 517.7h0M280.1 490.4h0M150.7 463.0h0M151.7 461.0h0M215.1 500.1h0M212.1 502.0h0M266.7 584.1h0M222.3 599.4h0M198.8 499.3h0M296.7 451.3h0M307.4 519.6h0M308.8 520.5h0M311.0 545.3h0M309.5 546.7h0M111.7 558.3h0M164.2 489.3h0M217.0 463.5h0M135.4 562.9h0M197.9 467.5h0M200.2 468.3h0M276.0 486.9h0M279.4 483.6h0M278.0 483.6h0M317.5 587.2h0M57.7 585.1h0M58.0 585.1h0M279.2 448.3h0M276.5 449.5h0M106.7 464.2h0M171.1 539.8h0M171.5 536.4h0M171.9 541.2h0M170.0 538.3h0M139.6 616.3h0M138.2 615.7h0M229.5 476.3h0M230.3 475.5h0M232.0 477.8h0M159.6 541.9h0M205.1 575.4h0M110.7 602.8h0M109.1 604.1h0M177.2 577.2h0M175.3 578.6h0M218.6 504.7h0M218.7 504.3h0M132.8 457.9h0M130.2 459.9h0M65.6 599.4h0M65.8 598.9h0M104.4 579.4h0M105.1 579.4h0M188.2 440.7h0M189.0 440.4h0M300.0 600.9h0M301.2 601.7h0M140.8 502.4h0M159.2 612.2h0M158.2 612.7h0M152.4 538.7h0M151.5 536.8h0M152.8 540.0h0M97.4 600.5h0M99.2 602.0h0M97.5 604.1h0M255.6 579.4h0M299.4 464.1h0M296.5 464.8h0M314.7 536.0h0M165.3 556.1h0M164.0 557.7h0M244.1 571.3h0M265.4 570.0h0M225.2 484.8h0M138.4 539.5h0M282.8 615.6h0M281.0 612.4h0M300.6 445.8h0M302.6 444.1h0M244.9 563.9h0M242.7 562.7h0M245.2 564.2h0M126.4 466.9h0M85.2 513.3h0M85.1 513.3h0M84.7 512.5h0M82.2 513.2h0M85.0 513.6h0M94.4 471.7h0M75.9 495.8h0M251.6 461.6h0M252.6 464.0h0M243.0 456.4h0M244.9 455.9h0M101.8 599.5h0M167.7 516.4h0M127.1 516.2h0M127.3 514.8h0M169.4 550.0h0M171.3 548.1h0M232.5 465.2h0M234.9 465.2h0M110.8 538.1h0M110.6 540.6h0M281.1 572.4h0M282.7 573.4h0M76.9 560.9h0M78.1 560.5h0M105.3 536.1h0M213.2 515.9h0M213.8 517.5h0M303.1 579.2h0M194.9 474.7h0M65.8 495.4h0M66.1 496.3h0M72.8 470.6h0M73.2 471.4h0M248.8 501.9h0M219.1 548.6h0M155.0 488.7h0M171.7 585.3h0M172.9 583.8h0M91.4 444.0h0M308.0 596.9h0M262.4 553.3h0M168.4 602.9h0M168.4 606.4h0M161.6 479.0h0M158.7 478.6h0M220.7 602.4h0M280.6 585.3h0M307.5 579.1h0M309.1 578.4h0M125.5 473.5h0M125.5 476.3h0M186.3 485.1h0M103.0 500.8h0M280.0 497.1h0M281.0 494.8h0M83.5 552.5h0M82.1 551.7h0M300.5 501.6h0M298.0 499.7h0M300.8 502.9h0M261.8 588.8h0M105.3 546.2h0M105.4 545.1h0M108.7 543.7h0M320.4 510.9h0M213.1 473.9h0M174.8 561.2h0M174.7 562.5h0M190.6 456.9h0M303.6 451.4h0M300.4 546.4h0M295.4 546.8h0M298.7 544.9h0M299.6 545.4h0M189.6 489.8h0M225.0 576.2h0M228.1 575.3h0M211.3 460.6h0M294.8 507.2h0M295.8 510.6h0M97.6 518.9h0M98.9 518.1h0M189.2 498.8h0M187.4 498.7h0M208.5 597.4h0M100.6 579.0h0M98.0 580.4h0M256.7 526.7h0M152.8 476.7h0M150.5 477.6h0M242.9 533.7h0M241.8 533.4h0M149.0 554.5h0M149.0 552.4h0M176.7 486.7h0M177.8 486.0h0M178.6 486.8h0M176.9 487.4h0M313.7 489.7h0M243.0 477.1h0M285.4 558.9h0M300.2 480.2h0M299.3 479.2h0M136.8 588.6h0M201.1 566.1h0M203.8 565.8h0M101.2 460.8h0M101.4 459.3h0M131.7 570.3h0M132.5 567.7h0M270.1 575.3h0M230.4 523.1h0M130.3 527.4h0M286.8 582.0h0M208.3 547.4h0M209.5 546.5h0M208.8 548.5h0M281.7 531.8h0M282.2 535.9h0M244.8 544.2h0M244.2 547.3h0M241.8 546.0h0M172.0 444.4h0M239.8 588.3h0M151.8 595.0h0M72.9 532.7h0M73.9 533.5h0M141.0 565.0h0M260.7 449.8h0M259.6 451.0h0M60.8 534.6h0M61.4 535.5h0M255.7 503.7h0M271.6 482.5h0M315.6 594.4h0M317.3 596.2h0M314.3 594.3h0M272.1 439.3h0M290.3 482.4h0M287.4 483.5h0M308.2 602.5h0M295.5 593.8h0M295.5 597.9h0M197.8 606.3h0M172.2 568.1h0M169.7 566.5h0M285.4 609.0h0M90.9 552.0h0M69.8 505.0h0M67.9 504.4h0M88.0 524.7h0M214.5 485.5h0M100.4 571.1h0M101.3 571.7h0M122.6 545.1h0M122.3 543.8h0M122.2 547.0h0M124.7 544.1h0M144.2 515.6h0M246.9 484.9h0M165.2 499.5h0M162.4 499.8h0M174.3 460.4h0M175.3 462.9h0M185.5 459.3h0M149.7 456.7h0M149.2 455.8h0M191.2 528.8h0M254.5 447.7h0M252.0 445.8h0M239.2 480.3h0M239.1 481.5h0M148.6 600.4h0M148.6 597.1h0M149.6 596.9h0M136.6 466.2h0M132.8 466.8h0M170.4 594.6h0M169.8 598.1h0M56.9 525.4h0M59.5 524.5h0M274.2 454.0h0M239.3 505.7h0M240.7 508.9h0M163.3 562.7h0M247.3 511.4h0M247.4 511.9h0M119.0 560.1h0M116.8 557.9h0M115.3 560.3h0M270.3 467.7h0M274.1 548.4h0M271.5 545.8h0M229.1 470.2h0M304.9 476.2h0M225.3 567.1h0M223.9 566.1h0M251.5 492.3h0M108.5 469.9h0M110.4 472.8h0M109.7 473.2h0M254.4 602.4h0M102.4 478.5h0M103.3 482.6h0M269.1 537.3h0M111.7 592.0h0M184.5 567.0h0M185.8 567.8h0M187.5 565.9h0M184.6 568.7h0M270.9 554.5h0M237.2 515.3h0M237.1 515.1h0M192.3 542.4h0M146.4 493.7h0M146.8 498.1h0M145.9 495.2h0M296.7 459.3h0M152.4 582.1h0M152.6 580.6h0M153.2 579.9h0M138.8 518.2h0M140.6 517.6h0M83.5 477.8h0M84.1 479.8h0M83.1 494.7h0M82.0 497.5h0M80.4 618.1h0M80.9 618.3h0M59.1 547.9h0M58.9 549.7h0" stroke="#4a3828" stroke-width="1.2" stroke-opacity="0.4"/><path d="M281.7 510.4h0M282.0 510.5h0M141.6 558.3h0M221.1 532.1h0M218.7 535.1h0M249.7 585.7h0M249.2 585.8h0M250.7 584.9h0M250.2 586.6h0M301.2 612.3h0M272.7 474.5h0M270.6 475.4h0M275.2 476.2h0M274.1 474.4h0M148.1 608.1h0M146.5 606.4h0M148.3 605.6h0M188.9 581.1h0M187.6 578.8h0M190.1 578.7h0M189.7 579.8h0M302.3 512.7h0M300.6 511.0h0M315.0 564.1h0M314.3 560.8h0M314.1 560.9h0M199.2 537.7h0M94.2 483.1h0M96.7 485.1h0M94.0 485.1h0M94.8 485.1h0M96.5 482.4h0M96.4 484.2h0M118.1 494.4h0M119.0 495.8h0M117.8 493.3h0M75.0 456.9h0M74.0 458.8h0M73.2 460.0h0M182.6 541.3h0M185.4 542.6h0M87.9 570.6h0M87.5 570.7h0M84.9 569.6h0M85.8 574.0h0M86.3 573.4h0M87.7 487.6h0M88.9 485.6h0M256.3 545.1h0M253.4 546.2h0M253.7 544.5h0M254.3 545.8h0M178.7 477.6h0M178.5 478.0h0M178.3 474.7h0M177.2 478.1h0M316.0 474.6h0M210.6 558.3h0M208.7 556.8h0M209.0 556.9h0M125.6 616.7h0M124.8 614.5h0M123.1 613.7h0M62.1 518.4h0M112.2 516.7h0M112.1 519.2h0M304.3 532.1h0M304.8 533.8h0M199.0 544.5h0M199.9 545.8h0M201.2 547.8h0M258.8 562.4h0M259.8 564.9h0M259.1 560.9h0M242.1 612.2h0M70.0 492.0h0M67.5 491.4h0M232.6 595.1h0M233.1 596.4h0M232.2 595.1h0M231.7 538.1h0M234.1 537.1h0M180.5 554.5h0M180.0 553.1h0M204.3 603.1h0M203.1 604.5h0M248.5 569.2h0M249.6 569.3h0M311.4 551.8h0M310.9 551.2h0M312.5 554.1h0M312.4 553.1h0M181.6 517.2h0M182.2 519.8h0M183.0 520.3h0M144.9 581.0h0M144.6 584.1h0M146.4 584.3h0M169.7 530.8h0M171.6 534.5h0M277.4 584.3h0M276.0 586.9h0M119.9 443.0h0M122.9 439.5h0M80.8 530.4h0M81.0 529.8h0M180.0 574.7h0M181.8 576.2h0M180.1 573.5h0M286.1 506.4h0M285.2 502.5h0M288.3 503.8h0M288.4 504.2h0M91.0 468.6h0M91.9 469.1h0M88.5 468.0h0M248.7 614.7h0M249.0 615.0h0M247.3 612.6h0M249.0 614.2h0M266.3 618.3h0M264.9 617.5h0M266.8 616.5h0M266.5 619.1h0M266.5 615.9h0M119.1 525.3h0M116.2 524.6h0M118.4 522.9h0M259.6 513.4h0M289.1 498.0h0M289.8 498.6h0M289.4 499.1h0M293.3 499.2h0M290.5 500.7h0M237.3 449.5h0M240.0 450.8h0M241.7 450.7h0M240.6 451.3h0M237.6 452.0h0M224.8 587.9h0M225.9 587.3h0M228.8 586.8h0M101.8 499.0h0M103.3 498.1h0M101.3 496.2h0M268.3 607.1h0M232.9 614.0h0M233.2 612.3h0M62.6 475.3h0M62.0 476.4h0M65.6 477.0h0M119.3 511.7h0M119.4 508.2h0M231.7 455.3h0M231.1 452.7h0M232.6 452.1h0M86.2 562.5h0M202.6 444.9h0M137.5 594.3h0M135.5 595.9h0M186.8 527.5h0M185.4 524.6h0M186.8 526.0h0M100.5 529.2h0M100.6 529.5h0M100.0 528.2h0M102.1 528.0h0M58.9 492.7h0M59.8 492.6h0M58.0 490.5h0M60.3 492.3h0M124.1 564.1h0M126.1 565.0h0M125.3 567.8h0M217.7 547.6h0M217.3 543.2h0M300.4 540.9h0M299.4 539.3h0M203.0 456.2h0M204.7 454.5h0M203.6 455.6h0M197.2 449.6h0M194.5 449.7h0M197.5 448.7h0M196.4 447.3h0M194.8 450.6h0M198.4 447.8h0M187.4 608.2h0M188.9 606.4h0M260.9 518.6h0M251.6 600.8h0M248.5 597.4h0M239.2 540.9h0M243.5 540.8h0M115.5 490.2h0M111.8 489.3h0M114.9 491.1h0M313.0 445.6h0M314.9 444.2h0M316.1 446.7h0M317.7 445.9h0M140.0 458.4h0M137.7 462.5h0M139.8 462.0h0M253.7 555.7h0M253.8 555.7h0M252.1 552.1h0M251.9 552.5h0M252.2 553.3h0M216.6 445.5h0M284.5 471.7h0M284.9 470.5h0M287.0 470.4h0M286.3 469.4h0M313.4 614.8h0M316.6 611.9h0M315.5 610.5h0M313.5 613.0h0M281.0 469.4h0M277.1 469.8h0M276.7 513.0h0M148.2 481.9h0M217.8 567.1h0M218.1 566.6h0M220.1 567.0h0M197.0 512.1h0M197.6 514.9h0M194.1 512.9h0M195.3 516.1h0M306.5 458.5h0M306.4 457.1h0M71.2 558.5h0M71.8 561.2h0M71.0 558.7h0M70.7 559.2h0M222.9 498.1h0M220.0 497.7h0M222.3 498.2h0M219.5 496.9h0M316.2 608.6h0M314.4 605.1h0M313.5 604.1h0M242.1 444.0h0M243.1 440.8h0M246.2 441.5h0M209.8 537.3h0M211.9 535.6h0M209.7 534.1h0M65.9 552.8h0M63.1 550.9h0M257.3 455.6h0M253.9 458.8h0M259.9 615.8h0M261.5 613.4h0M264.9 494.6h0M261.1 493.2h0M196.7 527.7h0M198.3 527.5h0M201.0 527.0h0M200.3 529.2h0M175.5 505.7h0M173.6 507.2h0M269.2 459.7h0M265.3 459.5h0M266.4 461.7h0M314.7 502.1h0M310.9 501.1h0M315.0 498.8h0M156.5 508.7h0M159.4 509.9h0M239.1 599.1h0M238.4 602.4h0M64.2 578.6h0M67.4 576.3h0M187.0 553.3h0M185.6 551.4h0M139.1 603.9h0M140.9 600.5h0M138.3 599.3h0M262.7 599.6h0M266.7 601.4h0M264.9 601.4h0M105.1 615.7h0M179.7 500.4h0M178.4 500.3h0M180.0 501.1h0M145.5 617.2h0M148.7 443.1h0M150.1 444.9h0M124.9 508.2h0M292.7 571.9h0M293.1 573.4h0M295.7 572.8h0M132.0 542.3h0M130.0 539.9h0M131.4 541.3h0M132.4 542.7h0M199.1 486.7h0M198.4 484.2h0M199.2 484.4h0M87.0 578.3h0M85.7 582.0h0M88.6 580.4h0M88.2 581.1h0M193.1 555.2h0M247.6 523.7h0M250.4 520.9h0M248.8 524.8h0M266.8 508.2h0M268.8 507.1h0M269.7 505.2h0M268.2 508.4h0M128.2 576.9h0M127.7 580.2h0M194.3 466.1h0M193.1 467.3h0M289.0 446.1h0M199.4 555.9h0M200.9 557.4h0M200.3 557.9h0M199.4 556.3h0M198.8 555.8h0M237.1 570.8h0M239.3 566.5h0M239.7 568.2h0M98.7 535.9h0M100.1 537.6h0M97.3 536.2h0M97.3 538.3h0M228.0 493.0h0M229.3 492.9h0M235.3 606.6h0M231.6 607.4h0M232.1 606.9h0M234.0 605.3h0M209.5 523.8h0M141.8 592.2h0M142.0 590.8h0M70.0 593.6h0M70.7 593.4h0M285.4 594.7h0M285.4 592.4h0M255.7 475.0h0M254.0 475.1h0M254.4 473.2h0M255.1 475.3h0M230.6 566.2h0M233.2 563.7h0M219.2 595.8h0M217.1 596.2h0M297.0 490.4h0M293.4 488.7h0M292.9 489.9h0M80.2 573.2h0M77.5 574.6h0M283.0 519.3h0M281.8 519.6h0M285.1 518.7h0M284.2 518.5h0M269.5 500.2h0M269.9 499.9h0M56.6 597.1h0M249.8 480.1h0M252.6 478.9h0M250.6 478.4h0M119.6 551.4h0M158.8 521.7h0M157.6 521.9h0M281.1 455.0h0M278.9 455.6h0M280.2 454.9h0M278.5 458.4h0M281.7 456.9h0M122.7 482.8h0M120.5 481.9h0M145.2 573.1h0M145.8 571.8h0M145.2 572.9h0M143.2 573.0h0M267.0 541.9h0M266.4 541.0h0M266.3 545.8h0M235.6 545.1h0M235.1 540.8h0M234.6 542.6h0M233.5 544.1h0M234.5 544.6h0M195.9 520.6h0M195.2 521.2h0M196.5 521.2h0M195.4 524.5h0M287.0 598.3h0M210.9 608.1h0M210.7 607.5h0M212.9 608.6h0M155.0 469.2h0M152.0 469.4h0M295.4 532.6h0M292.3 531.3h0M111.1 510.3h0M114.3 509.9h0M112.8 512.5h0M113.0 509.1h0M111.2 509.7h0M134.6 519.6h0M281.6 491.4h0M278.9 489.9h0M278.5 491.9h0M279.8 490.4h0M260.2 485.3h0M261.4 483.6h0M260.3 485.0h0M152.8 522.6h0M150.8 522.3h0M149.0 523.2h0M149.8 525.0h0M276.2 598.2h0M277.3 598.4h0M148.4 461.0h0M149.2 460.5h0M213.5 501.9h0M215.4 500.7h0M267.9 580.7h0M264.8 581.7h0M267.2 581.1h0M223.1 598.0h0M223.9 597.8h0M221.6 597.8h0M197.4 498.2h0M199.3 498.8h0M294.9 451.5h0M296.0 451.6h0M295.0 453.5h0M296.0 451.6h0M294.1 452.5h0M308.9 519.0h0M312.0 520.4h0M310.8 545.3h0M310.7 549.2h0M313.6 546.9h0M111.0 560.2h0M108.9 560.8h0M164.0 489.0h0M165.3 490.4h0M166.0 489.6h0M163.8 486.9h0M216.9 464.5h0M216.2 461.2h0M138.5 561.4h0M138.2 563.8h0M138.4 562.6h0M200.2 468.5h0M70.6 615.8h0M73.0 617.9h0M73.4 619.4h0M279.3 483.8h0M318.1 590.2h0M317.7 589.7h0M59.5 585.9h0M57.1 585.7h0M57.2 587.0h0M58.9 586.9h0M232.0 532.3h0M276.7 447.4h0M275.8 446.9h0M106.1 463.3h0M107.1 493.2h0M171.7 540.9h0M136.4 613.9h0M134.9 614.9h0M137.7 614.8h0M137.4 614.4h0M228.2 477.3h0M161.1 539.0h0M206.5 572.5h0M204.7 576.7h0M109.9 606.1h0M112.7 605.5h0M111.8 606.9h0M173.9 575.2h0M137.8 530.7h0M137.6 529.4h0M220.3 506.0h0M218.7 503.1h0M220.4 503.7h0M132.6 458.0h0M131.1 456.7h0M103.5 577.4h0M106.7 578.3h0M189.9 439.6h0M191.1 439.8h0M190.7 440.1h0M301.8 598.2h0M299.5 597.4h0M302.7 598.9h0M139.4 500.7h0M138.8 502.5h0M156.7 610.5h0M155.5 610.7h0M157.1 611.7h0M151.0 538.4h0M97.4 602.9h0M97.8 602.1h0M255.6 579.8h0M255.9 579.2h0M256.7 577.9h0M256.8 578.6h0M297.5 466.6h0M296.5 466.7h0M298.4 464.2h0M311.8 533.3h0M314.1 535.8h0M315.0 532.5h0M163.5 555.3h0M160.5 553.9h0M240.9 571.2h0M245.3 572.7h0M244.5 572.4h0M243.4 569.3h0M266.9 573.1h0M229.9 483.7h0M225.0 485.5h0M225.2 483.2h0M139.3 538.5h0M138.6 538.0h0M139.0 537.7h0M138.7 540.0h0M281.3 614.0h0M301.1 445.9h0M301.3 442.6h0M244.7 563.1h0M245.3 565.8h0M244.0 563.2h0M126.1 466.6h0M125.7 469.8h0M127.8 469.6h0M83.8 513.1h0M96.2 471.8h0M75.2 493.2h0M74.3 491.8h0M249.3 462.9h0M250.0 462.5h0M241.2 458.8h0M240.9 456.1h0M243.2 454.7h0M240.9 457.0h0M102.3 597.8h0M171.0 515.7h0M167.9 515.2h0M174.4 590.1h0M172.6 592.2h0M172.5 591.0h0M167.5 546.9h0M171.6 549.0h0M169.9 546.3h0M233.1 463.2h0M231.1 465.5h0M109.1 538.0h0M111.6 541.0h0M284.6 576.2h0M284.6 575.4h0M78.6 561.5h0M90.7 592.3h0M89.5 592.8h0M86.3 590.8h0M108.1 535.3h0M107.4 536.2h0M107.7 535.2h0M210.6 518.1h0M210.8 516.9h0M211.0 516.7h0M302.6 580.9h0M299.7 579.3h0M303.9 580.2h0M196.0 475.5h0M199.1 475.1h0M197.5 475.5h0M195.6 474.4h0M63.2 496.7h0M179.6 563.6h0M180.0 563.5h0M72.6 469.1h0M71.6 467.4h0M73.1 469.8h0M247.7 501.5h0M247.5 501.2h0M217.2 550.6h0M217.4 552.5h0M218.2 548.9h0M150.1 487.8h0M150.6 488.1h0M171.3 581.4h0M171.9 584.3h0M171.7 581.0h0M91.5 444.7h0M94.2 442.8h0M305.6 597.1h0M304.8 597.9h0M306.8 598.0h0M262.9 551.3h0M264.0 550.6h0M294.1 545.8h0M290.8 542.6h0M294.0 542.9h0M291.4 542.3h0M122.9 601.2h0M123.4 601.9h0M126.4 602.0h0M125.3 600.8h0M168.3 606.5h0M158.6 480.2h0M161.4 476.2h0M305.2 507.7h0M304.5 505.2h0M222.7 606.0h0M281.3 588.0h0M280.7 587.7h0M282.2 588.2h0M284.3 589.0h0M306.7 575.6h0M307.0 576.8h0M204.1 475.9h0M205.3 480.3h0M205.7 478.3h0M183.4 485.7h0M185.5 483.2h0M185.5 484.1h0M185.4 484.8h0M100.9 503.6h0M79.0 597.6h0M80.9 599.8h0M79.7 598.6h0M81.8 598.5h0M79.3 597.3h0M284.4 497.3h0M282.7 498.4h0M280.8 496.0h0M81.1 549.7h0M82.8 549.4h0M84.8 550.4h0M81.3 552.0h0M299.1 503.0h0M297.2 502.4h0M263.4 592.8h0M264.6 590.9h0M105.6 546.3h0M319.7 515.6h0M320.4 512.6h0M319.9 512.5h0M317.9 511.6h0M154.5 544.6h0M152.9 548.3h0M157.3 546.7h0M157.0 545.2h0M216.4 473.0h0M214.5 473.6h0M175.2 560.8h0M173.6 559.1h0M175.9 560.8h0M175.5 563.5h0M189.0 452.9h0M188.5 453.9h0M189.6 456.5h0M276.4 525.8h0M278.9 528.7h0M277.3 526.1h0M278.5 529.3h0M113.4 502.0h0M113.0 501.6h0M112.7 500.6h0M114.7 501.4h0M302.9 448.3h0M153.6 573.0h0M151.7 569.9h0M153.5 572.8h0M153.9 572.2h0M299.5 544.7h0M298.7 547.1h0M190.9 491.0h0M191.5 488.7h0M189.2 490.6h0M189.7 488.4h0M226.1 575.9h0M208.9 461.2h0M209.3 461.7h0M153.0 503.4h0M151.1 505.7h0M193.2 594.3h0M194.4 594.5h0M192.2 595.6h0M293.0 507.1h0M291.8 510.5h0M100.7 518.4h0M100.2 517.2h0M188.2 501.0h0M188.4 499.9h0M189.4 498.6h0M205.9 598.4h0M179.5 530.8h0M179.1 529.0h0M179.5 525.9h0M111.3 568.5h0M99.5 579.0h0M99.3 577.9h0M96.6 580.1h0M258.7 523.8h0M256.7 523.1h0M258.7 524.1h0M168.0 526.0h0M168.7 525.5h0M165.2 524.4h0M153.0 474.3h0M151.9 474.2h0M151.9 476.6h0M151.7 477.3h0M282.7 480.2h0M281.1 478.0h0M281.1 478.9h0M281.9 478.8h0M239.9 533.4h0M242.8 531.3h0M239.1 531.2h0M242.6 531.2h0M149.1 555.5h0M147.8 552.5h0M177.4 483.8h0M174.8 485.5h0M316.2 486.1h0M317.3 487.4h0M315.6 485.7h0M242.1 477.2h0M238.7 475.6h0M238.5 475.3h0M239.5 475.2h0M286.7 560.2h0M288.2 556.1h0M287.9 559.1h0M89.7 495.3h0M89.4 494.3h0M90.1 494.5h0M300.0 481.8h0M300.5 482.4h0M302.2 482.1h0M301.2 479.6h0M136.2 587.3h0M137.1 583.7h0M197.1 479.5h0M194.0 479.6h0M202.8 566.9h0M203.7 569.3h0M200.7 569.7h0M201.7 569.0h0M100.6 462.0h0M98.9 460.3h0M132.1 570.4h0M130.1 569.0h0M131.4 571.2h0M131.2 567.6h0M272.9 575.4h0M272.5 573.6h0M229.4 521.2h0M230.2 521.5h0M231.9 521.0h0M127.7 527.2h0M126.8 527.1h0M127.8 527.1h0M129.8 529.0h0M286.3 584.8h0M284.2 583.5h0M285.5 581.5h0M208.4 548.1h0M205.9 547.2h0M209.4 544.5h0M283.6 535.9h0M283.2 532.2h0M244.3 547.2h0M246.4 545.6h0M92.5 613.8h0M92.9 614.4h0M90.0 614.8h0M169.5 444.5h0M239.3 586.7h0M239.8 586.8h0M238.5 587.0h0M152.4 593.8h0M148.7 594.4h0M152.6 593.6h0M151.6 593.2h0M158.8 461.8h0M159.3 462.9h0M161.0 465.9h0M157.3 464.4h0M285.6 541.9h0M285.9 540.4h0M283.2 541.5h0M74.5 537.0h0M74.2 534.4h0M139.3 566.4h0M142.6 567.2h0M141.0 566.6h0M261.5 451.5h0M264.3 477.9h0M261.8 480.0h0M133.1 478.3h0M132.6 477.0h0M255.0 507.5h0M254.5 506.7h0M273.3 482.8h0M315.2 595.8h0M314.9 596.9h0M162.4 585.5h0M164.4 587.6h0M166.4 586.8h0M163.7 584.4h0M269.9 442.4h0M272.7 439.0h0M290.2 483.6h0M287.6 483.6h0M310.7 603.5h0M309.0 603.0h0M308.3 599.8h0M59.5 611.3h0M61.0 610.0h0M58.2 609.6h0M60.7 611.8h0M296.0 593.9h0M199.2 605.4h0M199.3 605.4h0M196.7 607.3h0M170.5 569.3h0M169.8 566.8h0M131.6 550.9h0M130.7 552.7h0M134.5 550.9h0M280.1 563.9h0M281.3 563.6h0M284.6 563.1h0M247.5 451.5h0M246.2 451.6h0M246.2 453.0h0M246.5 454.1h0M289.2 610.2h0M287.7 608.4h0M287.1 608.6h0M91.3 553.1h0M90.2 552.6h0M66.8 505.0h0M70.1 505.0h0M69.3 504.7h0M87.6 527.3h0M84.0 526.3h0M86.7 527.3h0M183.8 617.2h0M183.8 615.1h0M181.6 614.7h0M301.5 561.4h0M304.3 560.4h0M302.7 558.3h0M302.3 559.8h0M215.7 485.2h0M216.9 486.4h0M215.7 487.3h0M174.2 455.2h0M175.3 454.0h0M174.9 453.0h0M172.5 453.8h0M142.4 446.6h0M142.8 445.5h0M144.9 446.7h0M102.0 568.8h0M143.9 514.8h0M143.3 512.5h0M145.3 513.7h0M245.1 484.4h0M245.6 486.3h0M244.3 485.1h0M181.5 447.6h0M182.3 447.2h0M179.1 443.7h0M178.9 447.6h0M180.8 446.7h0M165.9 500.5h0M166.1 499.1h0M174.6 461.9h0M177.2 461.5h0M182.2 458.9h0M183.5 458.3h0M149.8 456.7h0M150.1 453.5h0M212.7 576.7h0M215.5 578.2h0M217.0 576.8h0M190.7 532.9h0M192.8 531.0h0M253.9 444.0h0M255.1 445.9h0M91.4 503.7h0M93.9 499.7h0M92.0 503.6h0M93.0 503.1h0M76.0 519.5h0M76.2 521.3h0M75.8 519.0h0M238.8 483.0h0M242.2 481.4h0M221.6 581.4h0M220.1 578.4h0M221.7 580.1h0M217.3 579.1h0M220.6 582.6h0M147.4 600.5h0M135.5 466.1h0M136.5 468.2h0M299.2 515.9h0M299.5 517.9h0M170.8 596.5h0M167.8 596.4h0M59.9 525.9h0M55.9 524.7h0M273.3 453.6h0M272.1 457.1h0M272.9 453.0h0M239.9 507.1h0M243.2 508.2h0M242.3 508.4h0M239.6 509.5h0M159.7 565.3h0M163.2 562.2h0M160.9 561.5h0M249.2 509.9h0M248.9 514.0h0M118.0 558.8h0M118.0 560.0h0M313.5 583.7h0M310.2 584.1h0M310.2 583.9h0M314.4 584.0h0M312.5 586.4h0M271.0 463.6h0M273.8 464.7h0M270.9 467.6h0M273.4 547.3h0M230.6 471.1h0M228.6 469.6h0M232.7 470.9h0M307.3 476.2h0M306.0 473.8h0M305.8 471.9h0M224.4 564.2h0M224.0 564.9h0M248.9 494.1h0M248.8 494.2h0M249.4 496.1h0M108.9 473.4h0M61.3 482.0h0M63.2 484.3h0M63.6 481.9h0M257.1 602.6h0M253.8 604.5h0M277.0 521.2h0M279.0 520.9h0M276.2 522.0h0M266.7 535.8h0M265.8 537.0h0M113.3 590.7h0M112.9 590.9h0M114.9 590.9h0M114.2 594.2h0M187.1 569.0h0M186.2 568.4h0M147.0 475.8h0M144.6 475.0h0M147.5 474.4h0M272.5 557.9h0M271.7 555.2h0M273.5 554.6h0M191.7 543.4h0M146.2 496.9h0M144.6 494.1h0M294.4 462.0h0M298.0 459.6h0M298.0 459.8h0M294.6 459.6h0M298.1 589.2h0M296.6 587.4h0M298.2 589.8h0M155.5 579.7h0M140.5 517.0h0M140.5 519.3h0M138.4 519.1h0M139.1 519.7h0M80.7 496.4h0M83.3 493.0h0M82.1 493.2h0M79.9 494.7h0M97.6 545.5h0M98.8 542.8h0M98.1 542.6h0M99.3 545.3h0M79.8 617.1h0M57.0 550.8h0M86.6 535.8h0M86.6 534.8h0M88.5 537.8h0M89.3 535.7h0M317.8 580.9h0M317.4 581.1h0M318.4 583.4h0M315.4 581.8h0M318.8 583.3h0" stroke="#4a3828" stroke-width="1.6" stroke-opacity="0.4"/><path d="M282.9 512.3h0M142.7 559.3h0M139.9 555.7h0M220.7 532.4h0M270.7 475.5h0M150.5 607.1h0M139.8 443.7h0M303.0 514.0h0M197.0 538.1h0M196.7 535.6h0M179.2 606.9h0M182.0 605.2h0M120.6 492.5h0M118.2 494.1h0M75.9 457.0h0M74.9 459.8h0M181.3 540.2h0M185.6 542.4h0M89.0 572.8h0M89.2 488.0h0M90.3 486.8h0M265.2 528.7h0M315.1 478.2h0M312.0 474.0h0M208.8 557.1h0M211.3 557.8h0M122.7 615.4h0M64.1 518.7h0M63.7 515.2h0M64.8 515.3h0M201.5 543.6h0M270.5 523.8h0M267.2 521.6h0M268.3 521.9h0M243.1 612.5h0M240.8 615.0h0M241.8 611.7h0M232.5 595.8h0M232.3 536.4h0M229.9 535.8h0M232.9 538.5h0M199.9 582.1h0M198.9 581.1h0M200.3 583.6h0M178.0 551.7h0M202.7 603.7h0M202.9 602.3h0M248.3 569.0h0M251.0 567.1h0M182.3 518.1h0M278.9 585.1h0M276.3 585.6h0M121.1 439.7h0M179.6 573.6h0M287.3 504.9h0M249.3 613.0h0M118.0 526.4h0M261.8 512.8h0M239.4 463.1h0M224.1 586.5h0M103.2 495.4h0M269.0 609.6h0M234.1 613.2h0M232.2 612.4h0M64.7 478.7h0M120.0 507.1h0M231.3 454.0h0M233.4 455.8h0M83.5 562.9h0M85.6 561.8h0M203.3 444.8h0M201.2 448.5h0M133.6 595.5h0M188.6 526.7h0M101.7 531.3h0M124.6 565.7h0M217.9 544.0h0M216.3 545.5h0M302.1 542.3h0M204.9 454.1h0M204.8 456.5h0M191.3 609.3h0M188.9 605.8h0M190.4 608.2h0M259.0 518.9h0M257.5 519.3h0M239.4 541.7h0M240.0 539.1h0M112.3 492.2h0M112.3 491.6h0M317.0 444.5h0M137.2 458.5h0M137.6 461.4h0M138.4 458.0h0M217.0 446.9h0M215.2 447.6h0M285.5 469.6h0M280.4 468.6h0M280.5 467.9h0M147.1 483.7h0M149.9 484.0h0M219.0 568.0h0M305.0 456.0h0M306.8 458.0h0M69.1 560.0h0M69.8 559.0h0M315.0 606.9h0M245.6 441.4h0M245.7 442.4h0M66.0 550.9h0M261.4 615.6h0M261.5 495.9h0M262.5 492.4h0M260.4 493.9h0M260.3 493.8h0M265.8 460.1h0M159.8 507.2h0M157.7 509.7h0M157.0 508.5h0M240.5 599.0h0M238.9 601.3h0M63.3 579.1h0M189.5 554.4h0M139.4 600.6h0M139.9 599.8h0M266.1 596.8h0M106.5 615.1h0M147.4 618.5h0M149.2 617.5h0M146.8 616.8h0M151.1 443.8h0M149.0 441.4h0M149.9 444.0h0M124.6 503.4h0M132.4 539.5h0M200.3 483.9h0M85.1 579.0h0M192.7 557.9h0M189.8 557.8h0M191.2 558.4h0M127.6 579.1h0M128.2 578.1h0M193.5 465.2h0M192.3 465.0h0M288.8 447.5h0M292.3 446.5h0M239.1 566.1h0M236.8 566.5h0M95.9 538.2h0M231.1 492.5h0M209.3 522.7h0M208.1 524.6h0M139.9 592.7h0M142.4 593.7h0M71.4 595.2h0M72.4 593.4h0M288.7 591.1h0M253.4 476.3h0M255.2 474.5h0M234.1 565.7h0M230.3 565.8h0M220.7 596.2h0M219.7 594.7h0M296.2 490.2h0M81.9 575.0h0M270.6 496.5h0M271.6 499.8h0M59.6 598.0h0M59.2 597.0h0M57.6 596.3h0M119.8 552.7h0M117.1 554.5h0M118.0 552.0h0M157.1 523.9h0M121.7 483.6h0M120.9 484.8h0M267.0 543.3h0M267.8 544.5h0M232.8 544.9h0M194.4 521.4h0M288.0 595.9h0M288.0 599.2h0M287.5 595.9h0M211.3 608.8h0M150.9 468.3h0M294.5 533.5h0M228.7 530.2h0M222.6 450.0h0M223.0 447.3h0M224.6 451.5h0M132.6 522.1h0M259.4 486.5h0M262.9 486.0h0M273.7 596.0h0M273.5 598.8h0M149.4 460.6h0M265.6 583.6h0M198.0 496.1h0M111.9 557.4h0M164.3 489.3h0M217.5 463.0h0M214.0 462.7h0M199.4 464.8h0M75.1 617.9h0M277.6 483.1h0M315.9 588.3h0M232.0 529.4h0M232.1 528.6h0M234.6 531.6h0M109.5 463.9h0M108.7 465.2h0M107.8 463.6h0M109.0 493.8h0M106.7 493.6h0M108.3 494.6h0M169.9 536.7h0M231.3 476.3h0M227.4 475.8h0M160.7 540.4h0M160.9 540.2h0M159.7 539.0h0M159.3 541.9h0M205.4 572.9h0M110.2 605.7h0M172.8 575.3h0M137.9 529.0h0M139.0 528.3h0M219.5 503.2h0M65.9 598.6h0M63.7 599.2h0M103.6 576.2h0M102.7 577.8h0M187.5 442.5h0M299.3 599.7h0M142.4 501.2h0M158.7 610.6h0M253.2 578.2h0M296.4 465.3h0M314.4 534.7h0M160.6 555.4h0M164.6 554.9h0M241.8 569.7h0M266.1 573.9h0M267.5 572.9h0M228.4 484.9h0M281.1 614.0h0M283.8 612.4h0M301.9 441.8h0M124.4 468.5h0M94.5 474.3h0M93.3 474.2h0M76.2 492.8h0M75.8 492.4h0M251.0 464.0h0M252.1 463.0h0M100.4 598.9h0M99.9 597.8h0M170.7 516.2h0M167.0 514.4h0M170.3 589.7h0M129.3 515.1h0M126.4 517.1h0M233.2 462.9h0M280.4 573.7h0M284.0 572.6h0M78.4 558.5h0M76.0 558.5h0M89.5 591.1h0M108.4 534.9h0M107.1 532.8h0M210.7 516.9h0M63.1 496.7h0M182.4 563.8h0M178.5 563.6h0M180.8 559.9h0M72.4 466.8h0M246.0 502.6h0M153.6 486.6h0M151.2 487.1h0M152.3 489.6h0M93.9 447.5h0M308.0 595.1h0M306.2 598.5h0M265.4 553.0h0M266.2 552.2h0M292.7 544.3h0M168.6 605.8h0M165.3 603.4h0M168.0 604.9h0M158.1 477.8h0M157.2 477.6h0M307.6 504.1h0M305.8 507.3h0M305.4 507.0h0M222.7 605.6h0M221.9 602.8h0M308.3 576.0h0M308.9 579.3h0M206.7 478.5h0M206.2 478.6h0M123.5 476.3h0M127.0 475.2h0M102.7 500.5h0M100.1 503.5h0M101.8 502.6h0M264.4 589.1h0M155.5 544.8h0M154.9 547.8h0M215.4 476.1h0M214.9 474.2h0M276.1 529.5h0M277.4 529.0h0M303.4 448.4h0M302.9 452.4h0M151.3 573.6h0M151.0 573.4h0M188.0 487.9h0M228.0 575.7h0M225.1 576.9h0M208.4 461.2h0M154.1 503.9h0M154.1 503.2h0M196.8 595.4h0M100.5 515.6h0M188.7 499.3h0M206.3 595.7h0M206.6 596.0h0M180.0 526.3h0M107.6 567.3h0M111.6 566.8h0M110.8 565.5h0M256.8 527.2h0M165.2 522.6h0M315.7 489.5h0M285.6 559.2h0M288.4 558.4h0M90.6 492.3h0M135.5 587.4h0M136.3 583.6h0M195.4 481.6h0M194.1 481.0h0M194.4 483.0h0M197.3 483.0h0M99.1 462.4h0M274.0 574.9h0M271.4 573.3h0M270.1 573.0h0M284.7 583.4h0M286.2 580.8h0M282.7 530.8h0M284.7 534.2h0M92.5 612.2h0M92.7 614.8h0M168.8 444.2h0M168.8 443.0h0M169.5 445.8h0M170.5 442.4h0M152.7 591.7h0M160.7 465.4h0M284.6 541.1h0M71.7 535.7h0M140.5 565.6h0M141.1 568.6h0M258.8 450.4h0M60.0 535.0h0M60.8 536.8h0M261.0 479.7h0M262.9 476.4h0M133.3 475.2h0M133.6 478.4h0M254.5 505.6h0M256.6 504.1h0M272.9 483.1h0M269.7 481.8h0M269.7 482.6h0M270.9 484.7h0M313.8 596.4h0M272.3 443.5h0M285.2 482.8h0M307.1 600.5h0M309.8 601.0h0M61.5 608.8h0M58.6 611.0h0M292.7 595.2h0M198.3 603.6h0M196.3 604.9h0M171.5 568.5h0M133.3 550.6h0M133.1 552.9h0M131.5 551.5h0M282.0 562.6h0M247.4 453.1h0M287.6 611.0h0M285.1 609.9h0M89.8 554.1h0M67.1 508.1h0M180.5 616.3h0M212.4 485.2h0M175.7 452.1h0M176.0 452.9h0M144.8 449.4h0M141.9 447.2h0M99.2 569.0h0M245.5 486.8h0M164.7 499.7h0M174.8 461.4h0M184.5 461.9h0M183.5 457.7h0M152.3 455.2h0M217.0 577.3h0M215.6 577.9h0M192.4 532.4h0M252.2 444.7h0M254.0 447.0h0M94.3 503.8h0M78.9 519.0h0M136.0 467.3h0M297.5 517.3h0M299.9 519.7h0M274.2 457.1h0M160.9 562.9h0M247.9 509.9h0M246.5 512.2h0M311.5 460.6h0M309.3 459.7h0M312.4 460.4h0M311.0 461.1h0M310.9 586.1h0M270.9 466.6h0M272.6 547.9h0M273.7 548.4h0M232.3 470.7h0M306.1 475.5h0M225.8 566.0h0M226.0 563.9h0M251.6 494.3h0M107.7 471.4h0M62.7 480.3h0M253.1 604.9h0M103.9 482.5h0M101.2 479.3h0M276.4 521.4h0M267.1 536.8h0M268.4 534.7h0M265.3 534.7h0M112.7 595.6h0M147.0 474.9h0M147.2 476.8h0M273.2 554.3h0M273.3 557.0h0M235.8 516.0h0M235.2 515.1h0M195.1 543.0h0M193.7 544.8h0M194.9 545.6h0M295.1 462.3h0M298.6 588.6h0M296.5 588.6h0M297.6 592.0h0M155.2 580.2h0M85.4 476.5h0M83.1 477.7h0M79.6 615.2h0M82.5 616.9h0M79.9 617.3h0M59.1 547.2h0M58.7 550.4h0M56.2 549.1h0M88.0 533.9h0M87.0 534.6h0M317.6 580.8h0" stroke="#4a3828" stroke-width="2.0" stroke-opacity="0.4"/></g><g filter="url(#bl05)" fill="none" stroke-linecap="round"><path d="M281.4 511.9h0M119.1 493.9h0M88.6 486.4h0M258.4 563.3h0M231.8 597.4h0M249.9 567.9h0M290.7 499.6h0M226.5 586.2h0M203.4 454.7h0M253.2 554.3h0M278.5 469.0h0M217.7 568.1h0M174.0 508.0h0M267.4 460.7h0M125.0 506.0h0M199.6 557.1h0M218.1 596.0h0M152.5 468.0h0M150.5 524.1h0M152.6 537.9h0M243.6 570.7h0M301.6 581.2h0M73.5 469.0h0M220.4 605.0h0M263.4 590.5h0M174.0 561.6h0M207.6 596.5h0M110.0 567.3h0M97.9 579.5h0M196.1 480.9h0M100.3 461.0h0M230.0 520.4h0M286.0 582.2h0M238.7 588.3h0M151.1 593.8h0M141.7 566.0h0M259.5 451.9h0M173.3 453.2h0M144.1 447.1h0M183.4 459.4h0M239.7 482.2h0M298.7 517.6h0M117.2 559.0h0M272.8 546.3h0M230.8 470.2h0M277.0 520.1h0M267.5 535.0h0M85.2 477.5h0M98.7 543.6h0" stroke="#1e130c" stroke-width="2.4" stroke-opacity="0.9"/><path d="M240.9 464.2h0M125.0 566.4h0M138.2 460.1h0M262.5 493.8h0M249.4 522.3h0M192.5 466.6h0M144.4 572.3h0M111.0 559.2h0M167.6 604.1h0M282.0 496.9h0M152.0 475.3h0M88.5 494.0h0M272.1 441.6h0M309.1 601.9h0M59.6 610.4h0M132.4 552.2h0M287.3 609.7h0M164.5 500.9h0M214.7 576.2h0" stroke="#1e130c" stroke-width="2.4" stroke-opacity="1.0"/><path d="M140.5 558.3h0M149.2 605.7h0M73.2 457.6h0M263.7 529.6h0M177.9 477.0h0M313.8 476.0h0M111.4 516.6h0M304.2 533.0h0M242.0 613.8h0M231.5 536.8h0M204.9 602.5h0M171.4 532.0h0M270.1 608.1h0M232.0 613.3h0M202.8 447.2h0M135.1 594.3h0M101.4 529.1h0M188.9 608.1h0M315.5 445.8h0M221.0 498.5h0M210.1 535.0h0M158.4 508.9h0M187.9 552.2h0M179.7 502.7h0M191.8 557.5h0M97.6 537.1h0M71.7 594.4h0M295.5 489.4h0M282.9 518.0h0M265.8 543.2h0M212.3 609.3h0M292.8 532.3h0M226.9 528.4h0M275.3 597.8h0M149.4 462.1h0M311.1 547.2h0M200.0 467.4h0M73.2 616.8h0M277.2 484.6h0M58.0 586.5h0M171.1 538.8h0M137.1 615.9h0M161.4 541.2h0M96.7 601.7h0M314.1 533.8h0M162.7 555.4h0M265.7 572.7h0M227.4 484.6h0M139.4 539.4h0M94.0 472.6h0M128.2 515.6h0M88.1 592.0h0M64.5 496.0h0M152.8 488.1h0M305.7 596.1h0M306.6 506.2h0M188.6 455.3h0M114.2 500.8h0M298.1 546.6h0M226.3 577.1h0M210.1 460.5h0M152.1 503.9h0M194.5 595.8h0M187.6 499.9h0M257.7 525.7h0M167.4 524.0h0M176.7 484.8h0M241.2 475.0h0M272.2 574.7h0M207.2 546.3h0M159.9 464.4h0M255.1 505.0h0M270.8 482.7h0M164.2 585.8h0M287.9 482.5h0M295.2 595.1h0M282.1 563.4h0M246.8 452.2h0M89.6 551.7h0M182.3 615.8h0M245.7 485.5h0M77.8 519.1h0M305.6 474.6h0M224.8 565.3h0M185.6 566.7h0M273.0 555.5h0M297.2 589.4h0M139.6 518.7h0" stroke="#1e130c" stroke-width="2.8" stroke-opacity="0.9"/><path d="M272.7 476.0h0M188.5 578.5h0M313.9 562.5h0M253.5 545.3h0M123.5 614.9h0M200.7 582.0h0M286.5 504.6h0M260.6 511.7h0M301.8 540.1h0M196.1 448.2h0M238.8 600.0h0M265.4 599.2h0M147.7 617.4h0M149.7 442.3h0M132.4 541.2h0M199.9 486.3h0M210.4 523.7h0M232.4 564.2h0M271.5 499.0h0M266.1 582.5h0M309.8 520.1h0M136.3 562.6h0M229.5 477.4h0M130.3 458.0h0M140.6 501.0h0M242.1 456.4h0M172.1 589.7h0M233.6 464.8h0M282.9 574.3h0M212.3 517.4h0M93.5 444.9h0M204.8 477.8h0M126.1 475.5h0M81.7 597.3h0M319.1 513.3h0M155.0 547.0h0M241.1 531.7h0M286.1 557.7h0M131.3 568.8h0M262.6 479.1h0M150.2 455.1h0M191.6 531.2h0M169.8 595.7h0M58.4 525.5h0M248.7 511.2h0M250.7 493.9h0M102.4 480.7h0M114.2 593.3h0M146.7 495.9h0" stroke="#1e130c" stroke-width="2.8" stroke-opacity="1.0"/><path d="M220.2 533.1h0M197.5 536.2h0M95.9 483.2h0M86.7 571.7h0M210.0 557.4h0M201.1 545.4h0M79.4 530.6h0M181.5 574.4h0M89.8 467.3h0M248.4 613.7h0M266.3 617.3h0M118.2 524.8h0M239.2 451.1h0M102.0 496.6h0M64.4 476.2h0M232.8 454.4h0M84.0 563.8h0M186.0 526.8h0M59.8 491.7h0M259.4 519.6h0M113.4 490.9h0M148.3 483.6h0M195.4 513.7h0M305.1 457.2h0M70.2 560.2h0M315.3 606.0h0M244.5 442.7h0M199.4 528.4h0M313.4 500.8h0M106.0 615.9h0M294.3 574.1h0M268.2 506.3h0M128.7 579.5h0M289.9 446.6h0M237.5 568.1h0M286.4 592.5h0M79.3 574.6h0M58.0 597.5h0M251.7 480.2h0M118.1 553.0h0M158.0 523.0h0M120.2 482.8h0M234.9 543.6h0M280.9 490.7h0M261.8 485.6h0M224.2 598.6h0M295.7 452.7h0M165.1 488.8h0M216.7 462.5h0M107.4 494.1h0M111.4 605.1h0M174.7 576.5h0M103.9 578.7h0M255.7 578.3h0M297.8 465.7h0M282.4 614.3h0M301.7 443.5h0M243.7 564.2h0M126.3 468.9h0M84.1 513.9h0M251.2 462.8h0M100.7 597.2h0M111.0 539.7h0M171.7 582.8h0M263.8 551.7h0M292.1 544.9h0M159.6 478.0h0M282.3 587.2h0M307.6 577.6h0M102.7 502.8h0M106.8 544.6h0M303.5 450.5h0M152.7 572.2h0M190.7 488.6h0M178.4 528.3h0M136.9 585.8h0M91.7 614.7h0M284.0 542.1h0M61.9 536.1h0M315.7 596.6h0M85.7 525.9h0M303.4 559.7h0M93.8 502.4h0M148.4 599.3h0M134.8 467.2h0M240.7 507.7h0M236.8 516.8h0M194.1 543.6h0M154.7 581.2h0M58.0 549.8h0" stroke="#1e130c" stroke-width="3.2" stroke-opacity="0.9"/><path d="M248.7 584.8h0M300.4 611.9h0M137.0 444.0h0M301.7 511.6h0M181.1 607.2h0M63.6 516.2h0M181.8 518.8h0M145.9 581.9h0M217.1 545.2h0M259.9 614.8h0M64.8 577.2h0M138.7 601.8h0M232.9 605.6h0M141.1 591.6h0M279.8 456.4h0M225.0 449.1h0M112.7 510.3h0M317.5 588.8h0M277.9 447.9h0M65.2 601.1h0M189.1 441.5h0M300.5 599.6h0M75.9 493.6h0M170.0 548.1h0M77.7 558.9h0M107.5 534.4h0M197.2 474.4h0M181.0 562.6h0M247.7 502.8h0M277.6 527.3h0M282.8 478.8h0M148.4 553.5h0M315.0 488.2h0M127.8 528.2h0M244.2 545.9h0M133.6 477.4h0M198.2 605.5h0M142.7 513.4h0M219.7 580.3h0M273.6 455.2h0M161.4 563.6h0M255.0 604.0h0M82.3 495.6h0M317.7 582.6h0" stroke="#1e130c" stroke-width="3.2" stroke-opacity="1.0"/><path d="M183.7 540.6h0M269.7 521.5h0M68.8 491.2h0M310.9 553.5h0M276.7 584.8h0M119.4 509.0h0M250.4 599.3h0M241.6 540.2h0M65.3 551.4h0M87.1 580.2h0M228.8 493.7h0M254.2 474.2h0M195.0 522.3h0M288.0 598.3h0M133.7 519.9h0M214.3 500.6h0M233.0 529.8h0M108.2 464.6h0M205.9 574.9h0M220.5 505.1h0M157.9 610.4h0M169.0 514.9h0M184.7 483.9h0M83.0 551.6h0M299.6 501.7h0M215.5 475.2h0M294.1 509.4h0M99.0 517.0h0M202.7 567.9h0M169.8 443.4h0M73.9 535.1h0M170.7 567.0h0M68.3 505.6h0M214.8 486.3h0M100.2 569.7h0M175.7 462.1h0M311.6 584.4h0M271.7 465.3h0M62.2 482.5h0M146.1 476.2h0M295.5 459.6h0M81.2 617.1h0M88.3 535.2h0" stroke="#1e130c" stroke-width="3.6" stroke-opacity="0.9"/><path d="M180.8 552.1h0M121.4 441.4h0M214.3 446.5h0M285.8 470.8h0M315.4 613.3h0M275.2 511.7h0M255.4 457.0h0M198.5 498.3h0M136.9 528.4h0M218.6 551.0h0M123.9 601.0h0M300.7 480.8h0M283.3 533.3h0M124.1 545.5h0M180.3 446.0h0M253.5 445.2h0M311.5 459.7h0M109.0 472.3h0" stroke="#1e130c" stroke-width="3.6" stroke-opacity="1.0"/></g><g filter="url(#bl05)" stroke="#1e130c" fill="none"><path d="M276.5 474l1.5 22" stroke-width="1.8"/><path d="M61 520l-1.5 30" stroke="#5a3020" stroke-width="1.4" stroke-opacity=".8"/><path d="M93 576l8 2" stroke-width="1.6"/></g></g><rect x="58.0" y="442.0" width="261.0" height="174.69999999999996" fill="none" stroke="#111" stroke-width="1.4"/><clipPath id="cl3"><rect x="406.6" y="247" width="262.1" height="176"/></clipPath><g clip-path="url(#cl3)"><rect x="406.6" y="247" width="262.1" height="176" fill="#fefefd"/><g fill="url(#rg3)"><ellipse cx="586.4" cy="343.2" rx="2.8" ry="2.5" fill-opacity="0.82"/><circle cx="457.5" cy="262.4" r="2.2" fill-opacity="0.82"/><ellipse cx="576.8" cy="406.4" rx="2.4" ry="2.1" fill-opacity="0.79"/><ellipse cx="639.3" cy="410.1" rx="2.5" ry="2.3" fill-opacity="0.99"/><circle cx="639.8" cy="409.7" r="2.4" fill-opacity="0.99"/><ellipse cx="424.8" cy="275.4" rx="2.4" ry="2.6" fill-opacity="0.68"/><ellipse cx="578.5" cy="341.7" rx="2.6" ry="2.8" fill-opacity="0.92"/><circle cx="612.4" cy="255.8" r="2.7" fill-opacity="1.00"/><ellipse cx="579.2" cy="419.2" rx="2.8" ry="2.4" fill-opacity="0.87"/><ellipse cx="618.6" cy="378.4" rx="2.5" ry="2.3" fill-opacity="0.63"/><ellipse cx="479.2" cy="344.9" rx="2.5" ry="2.3" fill-opacity="0.62"/><ellipse cx="411.0" cy="380.1" rx="2.3" ry="1.9" fill-opacity="0.99"/><ellipse cx="410.0" cy="381.2" rx="2.3" ry="2.5" fill-opacity="0.99"/><ellipse cx="458.6" cy="336.0" rx="2.2" ry="2.4" fill-opacity="0.80"/><ellipse cx="458.7" cy="335.9" rx="2.4" ry="2.2" fill-opacity="0.80"/><ellipse cx="622.1" cy="276.2" rx="2.1" ry="1.9" fill-opacity="0.63"/><ellipse cx="623.0" cy="275.9" rx="2.7" ry="2.4" fill-opacity="0.63"/><circle cx="468.5" cy="402.4" r="2.8" fill-opacity="0.64"/><ellipse cx="506.8" cy="345.5" rx="2.4" ry="2.6" fill-opacity="0.84"/><circle cx="522.3" cy="315.4" r="2.4" fill-opacity="0.90"/><circle cx="474.1" cy="312.4" r="2.1" fill-opacity="0.94"/><circle cx="473.2" cy="312.2" r="1.8" fill-opacity="0.94"/><circle cx="506.0" cy="397.3" r="2.4" fill-opacity="0.70"/><circle cx="505.7" cy="395.9" r="2.2" fill-opacity="0.70"/><circle cx="537.0" cy="330.2" r="2.0" fill-opacity="0.71"/><circle cx="537.1" cy="330.0" r="2.3" fill-opacity="0.71"/><circle cx="634.3" cy="271.3" r="1.8" fill-opacity="0.89"/><circle cx="633.2" cy="271.3" r="2.2" fill-opacity="0.89"/><circle cx="433.9" cy="350.4" r="2.8" fill-opacity="0.71"/><ellipse cx="435.5" cy="350.7" rx="2.1" ry="1.9" fill-opacity="0.71"/><circle cx="427.6" cy="375.3" r="2.0" fill-opacity="0.90"/><circle cx="427.0" cy="375.0" r="2.2" fill-opacity="0.90"/><ellipse cx="632.2" cy="419.9" rx="1.9" ry="1.7" fill-opacity="0.62"/><ellipse cx="524.2" cy="320.6" rx="2.2" ry="2.5" fill-opacity="0.87"/><circle cx="523.1" cy="319.6" r="2.1" fill-opacity="0.87"/><ellipse cx="603.9" cy="274.2" rx="2.3" ry="2.1" fill-opacity="0.88"/><circle cx="414.5" cy="418.6" r="2.0" fill-opacity="0.78"/><ellipse cx="463.6" cy="363.6" rx="2.0" ry="2.2" fill-opacity="0.65"/><ellipse cx="635.4" cy="401.0" rx="2.5" ry="2.2" fill-opacity="0.73"/><ellipse cx="636.4" cy="400.2" rx="2.1" ry="1.8" fill-opacity="0.73"/><circle cx="521.1" cy="366.0" r="2.0" fill-opacity="0.62"/><ellipse cx="447.3" cy="417.7" rx="2.0" ry="2.3" fill-opacity="0.71"/><ellipse cx="479.8" cy="351.4" rx="2.8" ry="3.1" fill-opacity="0.62"/><ellipse cx="480.6" cy="351.3" rx="2.0" ry="2.3" fill-opacity="0.62"/><ellipse cx="661.4" cy="302.3" rx="2.4" ry="2.7" fill-opacity="0.78"/><circle cx="652.7" cy="341.3" r="2.6" fill-opacity="0.79"/><ellipse cx="647.6" cy="411.7" rx="1.8" ry="1.7" fill-opacity="0.78"/><ellipse cx="647.4" cy="412.5" rx="2.1" ry="2.3" fill-opacity="0.78"/><ellipse cx="500.1" cy="279.8" rx="2.1" ry="2.4" fill-opacity="0.79"/><circle cx="498.5" cy="279.6" r="2.7" fill-opacity="0.79"/><circle cx="409.2" cy="302.8" r="2.6" fill-opacity="0.93"/><ellipse cx="409.9" cy="301.6" rx="1.8" ry="2.1" fill-opacity="0.93"/><ellipse cx="493.1" cy="303.6" rx="2.7" ry="2.5" fill-opacity="0.73"/><circle cx="663.5" cy="349.5" r="2.0" fill-opacity="0.95"/><circle cx="663.2" cy="349.5" r="2.1" fill-opacity="0.95"/><circle cx="659.5" cy="276.2" r="2.0" fill-opacity="0.85"/><circle cx="598.2" cy="394.3" r="2.6" fill-opacity="0.75"/><ellipse cx="519.6" cy="343.9" rx="2.4" ry="2.1" fill-opacity="0.86"/><circle cx="610.9" cy="399.0" r="2.1" fill-opacity="0.85"/><circle cx="547.9" cy="363.8" r="2.6" fill-opacity="0.83"/><circle cx="548.0" cy="363.9" r="1.8" fill-opacity="0.83"/><ellipse cx="428.3" cy="307.3" rx="1.9" ry="2.1" fill-opacity="0.84"/><ellipse cx="427.9" cy="307.1" rx="2.8" ry="3.0" fill-opacity="0.84"/><circle cx="500.0" cy="345.9" r="1.7" fill-opacity="0.69"/><ellipse cx="501.6" cy="345.2" rx="2.6" ry="2.9" fill-opacity="0.69"/><ellipse cx="437.7" cy="415.8" rx="2.0" ry="2.2" fill-opacity="0.96"/><ellipse cx="605.0" cy="370.4" rx="2.4" ry="2.2" fill-opacity="0.85"/><ellipse cx="605.5" cy="369.7" rx="1.8" ry="2.0" fill-opacity="0.85"/><ellipse cx="611.7" cy="276.6" rx="2.6" ry="2.8" fill-opacity="0.97"/><circle cx="612.1" cy="276.7" r="2.5" fill-opacity="0.97"/><circle cx="601.9" cy="282.7" r="1.9" fill-opacity="0.61"/><circle cx="601.7" cy="282.0" r="1.9" fill-opacity="0.61"/><ellipse cx="514.1" cy="414.4" rx="2.1" ry="2.4" fill-opacity="0.95"/><ellipse cx="576.8" cy="304.3" rx="2.2" ry="2.5" fill-opacity="0.75"/><ellipse cx="576.4" cy="304.3" rx="2.5" ry="2.8" fill-opacity="0.75"/><circle cx="419.0" cy="266.4" r="2.6" fill-opacity="0.69"/><ellipse cx="420.7" cy="267.0" rx="2.2" ry="1.8" fill-opacity="0.69"/><circle cx="522.9" cy="382.0" r="1.9" fill-opacity="0.95"/><circle cx="523.5" cy="381.1" r="2.1" fill-opacity="0.95"/><ellipse cx="409.7" cy="401.9" rx="2.7" ry="3.0" fill-opacity="0.72"/><circle cx="632.3" cy="386.7" r="1.7" fill-opacity="0.66"/><ellipse cx="513.9" cy="264.0" rx="2.4" ry="2.1" fill-opacity="0.65"/><circle cx="639.2" cy="385.4" r="2.0" fill-opacity="0.94"/><circle cx="639.0" cy="386.5" r="1.8" fill-opacity="0.94"/><ellipse cx="534.3" cy="351.3" rx="2.3" ry="2.5" fill-opacity="0.91"/><ellipse cx="535.1" cy="350.8" rx="2.6" ry="2.8" fill-opacity="0.91"/><ellipse cx="557.3" cy="388.7" rx="1.9" ry="1.7" fill-opacity="0.88"/><ellipse cx="580.1" cy="360.8" rx="2.4" ry="2.7" fill-opacity="0.84"/><ellipse cx="627.2" cy="256.4" rx="2.2" ry="2.0" fill-opacity="0.76"/><ellipse cx="628.5" cy="256.1" rx="2.2" ry="2.0" fill-opacity="0.76"/><ellipse cx="591.1" cy="375.2" rx="2.0" ry="2.2" fill-opacity="0.99"/><ellipse cx="591.3" cy="374.8" rx="1.9" ry="1.7" fill-opacity="0.99"/><circle cx="549.8" cy="403.6" r="2.7" fill-opacity="0.87"/><circle cx="661.6" cy="294.3" r="2.6" fill-opacity="0.65"/><ellipse cx="660.6" cy="294.3" rx="2.0" ry="2.3" fill-opacity="0.65"/><ellipse cx="643.2" cy="395.7" rx="2.1" ry="2.4" fill-opacity="0.82"/><circle cx="643.9" cy="396.3" r="1.8" fill-opacity="0.82"/><ellipse cx="517.8" cy="288.9" rx="2.4" ry="2.8" fill-opacity="0.77"/><circle cx="517.0" cy="287.7" r="1.9" fill-opacity="0.77"/><circle cx="533.3" cy="306.8" r="2.4" fill-opacity="0.67"/><ellipse cx="532.4" cy="306.9" rx="2.2" ry="2.0" fill-opacity="0.67"/><ellipse cx="618.6" cy="249.1" rx="2.2" ry="2.4" fill-opacity="0.81"/><ellipse cx="629.6" cy="295.4" rx="2.5" ry="2.8" fill-opacity="0.74"/><circle cx="630.4" cy="294.6" r="2.4" fill-opacity="0.74"/><circle cx="416.8" cy="347.3" r="2.0" fill-opacity="0.94"/><circle cx="544.7" cy="385.5" r="2.5" fill-opacity="0.65"/><circle cx="544.9" cy="384.9" r="1.8" fill-opacity="0.65"/><circle cx="467.5" cy="325.5" r="1.9" fill-opacity="0.98"/><ellipse cx="482.9" cy="370.4" rx="2.6" ry="2.3" fill-opacity="0.71"/><ellipse cx="482.5" cy="369.8" rx="2.7" ry="2.5" fill-opacity="0.71"/><ellipse cx="485.0" cy="283.6" rx="2.7" ry="2.8" fill-opacity="0.85"/><circle cx="631.8" cy="395.8" r="2.5" fill-opacity="0.70"/><circle cx="569.9" cy="386.6" r="2.1" fill-opacity="0.86"/><ellipse cx="649.1" cy="379.3" rx="2.7" ry="2.9" fill-opacity="0.99"/><ellipse cx="492.1" cy="355.3" rx="2.5" ry="2.8" fill-opacity="0.62"/><ellipse cx="646.3" cy="279.8" rx="2.2" ry="2.1" fill-opacity="0.91"/><ellipse cx="650.6" cy="294.1" rx="1.9" ry="2.1" fill-opacity="0.62"/><circle cx="455.3" cy="400.4" r="2.0" fill-opacity="0.67"/><ellipse cx="455.3" cy="400.2" rx="2.6" ry="2.8" fill-opacity="0.67"/><ellipse cx="490.1" cy="388.0" rx="2.1" ry="1.9" fill-opacity="0.84"/><circle cx="491.8" cy="388.0" r="2.2" fill-opacity="0.84"/><ellipse cx="423.0" cy="354.5" rx="2.6" ry="2.4" fill-opacity="0.73"/><circle cx="476.3" cy="382.8" r="2.1" fill-opacity="0.63"/><ellipse cx="450.2" cy="367.1" rx="2.3" ry="2.1" fill-opacity="0.80"/><ellipse cx="612.4" cy="325.5" rx="2.3" ry="2.1" fill-opacity="0.72"/><circle cx="416.1" cy="387.2" r="2.6" fill-opacity="0.92"/><circle cx="546.9" cy="357.0" r="2.4" fill-opacity="1.00"/><ellipse cx="546.9" cy="357.7" rx="2.2" ry="2.0" fill-opacity="1.00"/><circle cx="620.8" cy="301.3" r="2.2" fill-opacity="0.88"/><circle cx="620.6" cy="300.8" r="1.8" fill-opacity="0.88"/><ellipse cx="621.2" cy="420.4" rx="1.8" ry="1.6" fill-opacity="0.80"/><ellipse cx="525.4" cy="272.8" rx="2.3" ry="2.0" fill-opacity="0.65"/><circle cx="466.8" cy="377.1" r="2.0" fill-opacity="0.66"/><ellipse cx="466.8" cy="378.0" rx="2.6" ry="2.2" fill-opacity="0.66"/><circle cx="525.3" cy="285.5" r="2.2" fill-opacity="0.72"/><circle cx="579.3" cy="372.2" r="2.5" fill-opacity="0.80"/><circle cx="569.7" cy="418.6" r="2.3" fill-opacity="0.95"/><ellipse cx="569.8" cy="417.9" rx="2.1" ry="1.8" fill-opacity="0.95"/><circle cx="558.2" cy="360.4" r="2.0" fill-opacity="0.67"/><circle cx="558.4" cy="359.7" r="2.7" fill-opacity="0.67"/><circle cx="470.6" cy="357.1" r="1.8" fill-opacity="0.67"/><circle cx="472.0" cy="357.4" r="2.0" fill-opacity="0.67"/><ellipse cx="515.7" cy="362.9" rx="2.5" ry="2.2" fill-opacity="0.88"/><ellipse cx="519.1" cy="387.1" rx="2.7" ry="3.1" fill-opacity="0.82"/><ellipse cx="519.2" cy="386.1" rx="2.3" ry="2.0" fill-opacity="0.82"/><ellipse cx="520.4" cy="253.9" rx="1.8" ry="1.6" fill-opacity="0.77"/><circle cx="602.9" cy="349.3" r="2.1" fill-opacity="1.00"/><circle cx="472.0" cy="290.1" r="2.5" fill-opacity="0.91"/><circle cx="471.8" cy="291.2" r="2.2" fill-opacity="0.91"/><circle cx="600.0" cy="299.6" r="2.2" fill-opacity="0.70"/><ellipse cx="526.9" cy="348.9" rx="2.3" ry="2.1" fill-opacity="0.74"/><ellipse cx="591.8" cy="307.3" rx="2.5" ry="2.8" fill-opacity="0.67"/><ellipse cx="475.3" cy="418.1" rx="1.9" ry="2.1" fill-opacity="0.93"/><circle cx="475.1" cy="419.2" r="2.4" fill-opacity="0.93"/><circle cx="608.1" cy="390.7" r="2.1" fill-opacity="0.96"/><circle cx="608.4" cy="390.3" r="1.8" fill-opacity="0.96"/><ellipse cx="511.0" cy="387.5" rx="2.7" ry="3.1" fill-opacity="0.73"/><circle cx="601.5" cy="416.2" r="1.9" fill-opacity="0.94"/><circle cx="601.4" cy="415.2" r="2.3" fill-opacity="0.94"/><circle cx="505.2" cy="352.4" r="2.5" fill-opacity="0.98"/><ellipse cx="505.5" cy="352.1" rx="2.4" ry="2.0" fill-opacity="0.98"/><ellipse cx="623.1" cy="332.3" rx="2.3" ry="2.1" fill-opacity="0.73"/><circle cx="623.0" cy="332.5" r="2.4" fill-opacity="0.73"/><ellipse cx="542.0" cy="410.2" rx="2.5" ry="2.8" fill-opacity="0.98"/><ellipse cx="541.9" cy="410.9" rx="2.2" ry="1.9" fill-opacity="0.98"/><ellipse cx="545.8" cy="324.8" rx="2.4" ry="2.7" fill-opacity="0.94"/><ellipse cx="544.3" cy="325.5" rx="2.6" ry="2.8" fill-opacity="0.94"/><ellipse cx="552.9" cy="307.2" rx="2.7" ry="2.6" fill-opacity="0.76"/><ellipse cx="640.0" cy="342.9" rx="1.9" ry="2.2" fill-opacity="0.63"/><ellipse cx="639.5" cy="342.7" rx="2.3" ry="2.1" fill-opacity="0.63"/><ellipse cx="419.9" cy="255.6" rx="2.3" ry="2.6" fill-opacity="0.77"/><circle cx="545.6" cy="334.0" r="2.3" fill-opacity="0.88"/><circle cx="427.5" cy="367.1" r="2.3" fill-opacity="0.75"/><ellipse cx="428.3" cy="368.1" rx="2.2" ry="1.9" fill-opacity="0.75"/><circle cx="465.1" cy="350.5" r="2.6" fill-opacity="0.83"/><ellipse cx="647.8" cy="360.6" rx="2.3" ry="2.5" fill-opacity="0.65"/><circle cx="496.8" cy="397.5" r="2.7" fill-opacity="0.97"/><circle cx="496.6" cy="396.7" r="2.0" fill-opacity="0.97"/><ellipse cx="449.3" cy="320.4" rx="2.6" ry="2.3" fill-opacity="0.74"/><ellipse cx="592.0" cy="335.6" rx="1.8" ry="1.5" fill-opacity="0.82"/><ellipse cx="592.0" cy="335.9" rx="2.1" ry="2.0" fill-opacity="0.82"/><circle cx="503.5" cy="306.3" r="1.8" fill-opacity="0.62"/><ellipse cx="503.7" cy="307.7" rx="2.6" ry="2.9" fill-opacity="0.62"/><circle cx="564.9" cy="379.9" r="2.1" fill-opacity="0.67"/><ellipse cx="634.5" cy="380.2" rx="2.4" ry="2.7" fill-opacity="0.94"/><circle cx="634.3" cy="381.6" r="2.1" fill-opacity="0.94"/><circle cx="434.6" cy="379.0" r="2.1" fill-opacity="0.65"/><circle cx="433.6" cy="379.0" r="2.0" fill-opacity="0.65"/><circle cx="471.2" cy="370.8" r="1.8" fill-opacity="0.68"/><circle cx="430.2" cy="338.9" r="2.0" fill-opacity="0.71"/><circle cx="429.7" cy="339.6" r="2.1" fill-opacity="0.71"/><circle cx="625.2" cy="399.8" r="2.1" fill-opacity="0.85"/><ellipse cx="624.6" cy="400.5" rx="2.8" ry="3.1" fill-opacity="0.85"/><ellipse cx="496.8" cy="370.7" rx="2.7" ry="2.3" fill-opacity="0.66"/><ellipse cx="523.7" cy="328.7" rx="2.0" ry="2.2" fill-opacity="0.79"/><ellipse cx="660.0" cy="328.3" rx="2.3" ry="2.0" fill-opacity="0.67"/><ellipse cx="630.0" cy="362.2" rx="2.3" ry="2.0" fill-opacity="0.75"/><ellipse cx="646.9" cy="384.7" rx="2.2" ry="2.4" fill-opacity="0.92"/><circle cx="648.1" cy="384.7" r="2.8" fill-opacity="0.92"/><circle cx="429.1" cy="319.6" r="2.3" fill-opacity="0.74"/><circle cx="490.6" cy="310.5" r="2.3" fill-opacity="0.71"/><ellipse cx="490.3" cy="311.1" rx="2.1" ry="1.9" fill-opacity="0.71"/><ellipse cx="453.7" cy="373.8" rx="2.5" ry="2.1" fill-opacity="0.80"/><circle cx="454.2" cy="373.8" r="1.7" fill-opacity="0.80"/><ellipse cx="631.4" cy="302.6" rx="2.1" ry="1.9" fill-opacity="0.72"/><ellipse cx="584.3" cy="352.0" rx="2.5" ry="2.2" fill-opacity="0.89"/><circle cx="584.2" cy="350.7" r="1.9" fill-opacity="0.89"/><ellipse cx="455.5" cy="295.7" rx="2.7" ry="2.9" fill-opacity="0.95"/><circle cx="634.5" cy="371.4" r="1.8" fill-opacity="0.67"/><ellipse cx="614.5" cy="369.3" rx="1.9" ry="2.1" fill-opacity="0.68"/><circle cx="614.6" cy="369.3" r="2.6" fill-opacity="0.68"/><ellipse cx="651.2" cy="300.6" rx="1.9" ry="1.7" fill-opacity="0.94"/><circle cx="650.1" cy="299.8" r="2.2" fill-opacity="0.94"/><ellipse cx="631.5" cy="280.1" rx="2.6" ry="2.4" fill-opacity="0.95"/><ellipse cx="631.5" cy="280.2" rx="1.8" ry="1.6" fill-opacity="0.95"/><circle cx="559.0" cy="269.0" r="1.8" fill-opacity="0.92"/><ellipse cx="591.6" cy="297.4" rx="2.7" ry="2.9" fill-opacity="0.62"/><ellipse cx="480.2" cy="268.0" rx="2.5" ry="2.2" fill-opacity="0.76"/><ellipse cx="596.7" cy="316.2" rx="2.2" ry="2.0" fill-opacity="0.78"/><ellipse cx="549.3" cy="412.2" rx="2.5" ry="2.8" fill-opacity="0.98"/><ellipse cx="583.3" cy="384.2" rx="1.7" ry="1.5" fill-opacity="0.70"/><ellipse cx="427.4" cy="392.8" rx="2.4" ry="2.1" fill-opacity="0.92"/><ellipse cx="427.5" cy="392.1" rx="2.5" ry="2.8" fill-opacity="0.92"/><ellipse cx="557.4" cy="368.9" rx="2.6" ry="2.4" fill-opacity="0.86"/><ellipse cx="493.8" cy="343.3" rx="2.6" ry="2.8" fill-opacity="1.00"/><ellipse cx="493.8" cy="343.3" rx="2.0" ry="2.2" fill-opacity="1.00"/><circle cx="654.6" cy="417.6" r="2.0" fill-opacity="0.72"/><ellipse cx="480.8" cy="312.5" rx="2.5" ry="2.7" fill-opacity="0.78"/><ellipse cx="480.6" cy="313.1" rx="2.5" ry="2.7" fill-opacity="0.78"/><ellipse cx="458.6" cy="417.4" rx="2.1" ry="2.3" fill-opacity="0.97"/><ellipse cx="543.0" cy="421.5" rx="2.7" ry="2.4" fill-opacity="0.72"/><ellipse cx="541.9" cy="422.3" rx="2.6" ry="3.0" fill-opacity="0.72"/><ellipse cx="631.9" cy="249.8" rx="2.8" ry="2.4" fill-opacity="0.95"/><ellipse cx="567.9" cy="332.7" rx="2.7" ry="3.1" fill-opacity="0.81"/><circle cx="568.0" cy="331.8" r="1.9" fill-opacity="0.81"/><ellipse cx="628.2" cy="408.8" rx="2.6" ry="2.4" fill-opacity="0.89"/><ellipse cx="498.3" cy="407.0" rx="2.1" ry="2.3" fill-opacity="0.98"/><ellipse cx="552.1" cy="249.2" rx="2.8" ry="3.1" fill-opacity="0.85"/><circle cx="551.6" cy="249.7" r="1.7" fill-opacity="0.85"/><circle cx="519.1" cy="398.8" r="2.2" fill-opacity="0.62"/><ellipse cx="437.2" cy="393.4" rx="2.4" ry="2.2" fill-opacity="0.89"/><circle cx="574.9" cy="291.3" r="1.8" fill-opacity="0.85"/><ellipse cx="576.3" cy="291.3" rx="1.8" ry="2.0" fill-opacity="0.85"/><circle cx="428.0" cy="359.3" r="2.0" fill-opacity="0.77"/><circle cx="428.4" cy="360.0" r="2.4" fill-opacity="0.77"/><ellipse cx="486.1" cy="304.5" rx="2.6" ry="2.8" fill-opacity="0.86"/><ellipse cx="486.4" cy="304.5" rx="2.4" ry="2.7" fill-opacity="0.86"/><ellipse cx="522.2" cy="353.9" rx="1.9" ry="2.1" fill-opacity="0.98"/><ellipse cx="437.0" cy="294.2" rx="2.2" ry="1.9" fill-opacity="0.81"/><ellipse cx="566.8" cy="286.8" rx="2.3" ry="2.1" fill-opacity="0.77"/><ellipse cx="566.9" cy="285.7" rx="2.0" ry="2.3" fill-opacity="0.77"/><circle cx="450.7" cy="248.6" r="2.0" fill-opacity="0.61"/><ellipse cx="535.1" cy="385.0" rx="2.8" ry="2.4" fill-opacity="0.87"/><circle cx="535.4" cy="385.9" r="2.0" fill-opacity="0.87"/><ellipse cx="486.5" cy="271.1" rx="2.4" ry="2.8" fill-opacity="0.88"/><circle cx="599.0" cy="354.9" r="2.0" fill-opacity="0.90"/><ellipse cx="633.5" cy="345.8" rx="1.9" ry="2.1" fill-opacity="0.96"/><ellipse cx="633.3" cy="344.3" rx="2.1" ry="2.4" fill-opacity="0.96"/><circle cx="553.0" cy="326.5" r="2.3" fill-opacity="0.68"/><ellipse cx="552.9" cy="325.8" rx="2.1" ry="1.8" fill-opacity="0.68"/><ellipse cx="447.2" cy="387.5" rx="2.3" ry="2.1" fill-opacity="0.80"/><circle cx="590.2" cy="272.8" r="2.1" fill-opacity="0.87"/><ellipse cx="593.8" cy="248.1" rx="2.4" ry="2.2" fill-opacity="0.95"/><circle cx="594.0" cy="247.9" r="2.4" fill-opacity="0.95"/><circle cx="407.7" cy="254.6" r="1.7" fill-opacity="0.66"/><circle cx="564.9" cy="352.2" r="1.8" fill-opacity="0.76"/><ellipse cx="643.5" cy="262.8" rx="2.6" ry="2.3" fill-opacity="0.75"/><ellipse cx="643.2" cy="262.3" rx="2.6" ry="2.8" fill-opacity="0.75"/><circle cx="452.3" cy="392.1" r="2.6" fill-opacity="0.93"/><circle cx="452.4" cy="393.2" r="2.2" fill-opacity="0.93"/><circle cx="439.6" cy="282.2" r="1.9" fill-opacity="0.62"/><circle cx="440.2" cy="282.8" r="1.9" fill-opacity="0.62"/><ellipse cx="417.6" cy="375.8" rx="2.3" ry="2.0" fill-opacity="0.93"/><circle cx="418.5" cy="377.2" r="2.6" fill-opacity="0.93"/><circle cx="421.4" cy="292.9" r="1.8" fill-opacity="0.86"/><circle cx="650.2" cy="332.4" r="2.8" fill-opacity="0.60"/><ellipse cx="565.6" cy="339.9" rx="2.7" ry="2.9" fill-opacity="0.86"/><ellipse cx="645.2" cy="422.7" rx="2.7" ry="2.9" fill-opacity="0.70"/><ellipse cx="516.9" cy="320.0" rx="2.4" ry="2.5" fill-opacity="0.93"/><ellipse cx="505.4" cy="417.9" rx="2.8" ry="3.1" fill-opacity="0.64"/><circle cx="571.1" cy="396.4" r="1.8" fill-opacity="0.61"/><circle cx="549.1" cy="292.7" r="1.9" fill-opacity="0.91"/><ellipse cx="535.7" cy="417.0" rx="2.3" ry="2.4" fill-opacity="0.88"/><ellipse cx="535.8" cy="416.9" rx="2.3" ry="2.4" fill-opacity="0.88"/><circle cx="651.9" cy="348.0" r="1.7" fill-opacity="0.72"/><ellipse cx="482.7" cy="359.9" rx="1.9" ry="1.7" fill-opacity="0.97"/><circle cx="470.4" cy="276.2" r="2.7" fill-opacity="0.85"/><ellipse cx="411.6" cy="391.1" rx="2.7" ry="2.9" fill-opacity="0.94"/><ellipse cx="411.8" cy="390.1" rx="2.1" ry="1.9" fill-opacity="0.94"/><ellipse cx="636.7" cy="356.3" rx="2.8" ry="3.1" fill-opacity="0.69"/><ellipse cx="635.7" cy="355.9" rx="1.8" ry="1.6" fill-opacity="0.69"/><ellipse cx="568.4" cy="345.5" rx="2.3" ry="2.6" fill-opacity="0.64"/><circle cx="568.0" cy="345.5" r="1.9" fill-opacity="0.64"/><circle cx="502.0" cy="337.9" r="2.0" fill-opacity="0.88"/><ellipse cx="644.8" cy="297.5" rx="2.1" ry="1.9" fill-opacity="0.85"/><ellipse cx="566.2" cy="308.1" rx="1.9" ry="2.2" fill-opacity="0.64"/><circle cx="566.5" cy="309.0" r="1.7" fill-opacity="0.64"/><circle cx="588.0" cy="401.8" r="2.5" fill-opacity="0.81"/><ellipse cx="587.0" cy="401.2" rx="2.2" ry="2.0" fill-opacity="0.81"/><ellipse cx="660.7" cy="391.5" rx="2.7" ry="3.1" fill-opacity="0.93"/><ellipse cx="519.3" cy="326.8" rx="2.6" ry="2.2" fill-opacity="0.88"/><ellipse cx="518.1" cy="326.0" rx="2.3" ry="2.0" fill-opacity="0.88"/><ellipse cx="413.8" cy="335.8" rx="1.8" ry="1.6" fill-opacity="0.93"/><ellipse cx="413.9" cy="336.5" rx="2.5" ry="2.3" fill-opacity="0.93"/><circle cx="597.5" cy="256.9" r="2.1" fill-opacity="0.85"/><ellipse cx="611.3" cy="407.2" rx="2.4" ry="2.6" fill-opacity="0.80"/><ellipse cx="612.3" cy="406.8" rx="2.0" ry="2.2" fill-opacity="0.80"/><ellipse cx="645.6" cy="355.5" rx="2.5" ry="2.2" fill-opacity="0.69"/><circle cx="492.8" cy="378.1" r="1.9" fill-opacity="0.67"/><ellipse cx="558.6" cy="408.2" rx="2.7" ry="2.3" fill-opacity="0.60"/><ellipse cx="608.9" cy="284.6" rx="2.6" ry="2.8" fill-opacity="0.89"/><ellipse cx="609.4" cy="283.6" rx="1.9" ry="1.7" fill-opacity="0.89"/><circle cx="421.5" cy="406.4" r="1.9" fill-opacity="0.70"/><circle cx="598.4" cy="376.8" r="2.0" fill-opacity="0.79"/><ellipse cx="598.1" cy="377.1" rx="2.1" ry="1.9" fill-opacity="0.79"/><ellipse cx="623.5" cy="309.8" rx="1.8" ry="2.0" fill-opacity="0.73"/><circle cx="622.6" cy="309.7" r="2.2" fill-opacity="0.73"/><ellipse cx="438.2" cy="257.3" rx="2.7" ry="2.4" fill-opacity="0.62"/><circle cx="439.1" cy="257.4" r="2.5" fill-opacity="0.62"/><ellipse cx="572.1" cy="356.8" rx="2.1" ry="1.8" fill-opacity="0.75"/><ellipse cx="571.5" cy="358.3" rx="2.3" ry="2.1" fill-opacity="0.75"/><ellipse cx="559.0" cy="394.0" rx="2.5" ry="2.8" fill-opacity="0.79"/><ellipse cx="558.4" cy="392.9" rx="2.1" ry="2.4" fill-opacity="0.79"/><ellipse cx="482.8" cy="337.2" rx="2.1" ry="2.4" fill-opacity="0.76"/><circle cx="483.0" cy="336.9" r="2.2" fill-opacity="0.76"/><ellipse cx="649.3" cy="315.0" rx="2.2" ry="2.0" fill-opacity="0.95"/><ellipse cx="647.6" cy="271.6" rx="2.4" ry="2.1" fill-opacity="0.71"/><ellipse cx="648.6" cy="272.3" rx="2.5" ry="2.2" fill-opacity="0.71"/><circle cx="622.7" cy="291.4" r="2.1" fill-opacity="0.94"/><ellipse cx="508.3" cy="271.7" rx="2.7" ry="2.8" fill-opacity="0.80"/><circle cx="508.4" cy="272.5" r="2.2" fill-opacity="0.80"/><circle cx="501.3" cy="413.0" r="2.6" fill-opacity="0.76"/><ellipse cx="436.7" cy="249.5" rx="1.9" ry="2.1" fill-opacity="0.91"/><ellipse cx="437.4" cy="250.9" rx="2.6" ry="2.8" fill-opacity="0.91"/><circle cx="452.6" cy="284.6" r="2.3" fill-opacity="0.98"/><circle cx="452.9" cy="285.1" r="2.6" fill-opacity="0.98"/><circle cx="525.1" cy="310.5" r="2.8" fill-opacity="0.84"/><ellipse cx="525.6" cy="308.9" rx="2.1" ry="2.4" fill-opacity="0.84"/><ellipse cx="437.7" cy="401.1" rx="2.0" ry="1.8" fill-opacity="0.64"/><ellipse cx="465.3" cy="316.9" rx="2.0" ry="1.9" fill-opacity="0.72"/><ellipse cx="466.3" cy="316.7" rx="1.8" ry="1.5" fill-opacity="0.72"/><circle cx="643.7" cy="250.4" r="2.5" fill-opacity="0.97"/><ellipse cx="643.3" cy="250.9" rx="2.4" ry="2.1" fill-opacity="0.97"/><circle cx="443.3" cy="317.2" r="2.0" fill-opacity="0.78"/><circle cx="443.1" cy="317.5" r="2.0" fill-opacity="0.78"/><ellipse cx="574.4" cy="265.3" rx="2.0" ry="1.8" fill-opacity="0.68"/><ellipse cx="574.5" cy="265.0" rx="1.8" ry="2.0" fill-opacity="0.68"/><ellipse cx="491.8" cy="329.0" rx="2.4" ry="2.3" fill-opacity="0.79"/><ellipse cx="493.1" cy="329.3" rx="2.6" ry="3.0" fill-opacity="0.79"/><circle cx="535.2" cy="322.6" r="2.4" fill-opacity="0.75"/><circle cx="534.6" cy="321.8" r="2.6" fill-opacity="0.75"/><circle cx="460.3" cy="393.3" r="1.8" fill-opacity="0.98"/><ellipse cx="459.7" cy="393.3" rx="2.7" ry="2.9" fill-opacity="0.98"/><ellipse cx="615.2" cy="384.8" rx="2.3" ry="2.5" fill-opacity="0.64"/><ellipse cx="422.0" cy="380.9" rx="2.7" ry="3.0" fill-opacity="0.65"/><ellipse cx="537.5" cy="344.4" rx="2.5" ry="2.2" fill-opacity="0.75"/><circle cx="491.1" cy="400.2" r="2.6" fill-opacity="0.85"/><ellipse cx="491.3" cy="400.2" rx="1.9" ry="2.2" fill-opacity="0.85"/><ellipse cx="448.8" cy="311.7" rx="2.4" ry="2.1" fill-opacity="0.85"/><ellipse cx="666.4" cy="324.4" rx="2.1" ry="2.5" fill-opacity="0.64"/><ellipse cx="578.6" cy="260.0" rx="2.1" ry="2.3" fill-opacity="0.67"/><circle cx="577.6" cy="259.2" r="2.3" fill-opacity="0.67"/><ellipse cx="617.7" cy="356.6" rx="1.8" ry="1.5" fill-opacity="0.62"/><ellipse cx="617.0" cy="356.8" rx="2.2" ry="2.4" fill-opacity="0.62"/><ellipse cx="426.0" cy="419.6" rx="2.6" ry="2.3" fill-opacity="0.78"/><ellipse cx="426.2" cy="419.7" rx="1.8" ry="2.1" fill-opacity="0.78"/><circle cx="458.0" cy="387.5" r="2.1" fill-opacity="1.00"/><circle cx="644.3" cy="324.5" r="2.7" fill-opacity="0.83"/><ellipse cx="644.6" cy="324.3" rx="2.3" ry="2.0" fill-opacity="0.83"/><ellipse cx="620.2" cy="263.7" rx="2.4" ry="2.6" fill-opacity="0.88"/><circle cx="621.1" cy="264.7" r="2.1" fill-opacity="0.88"/><ellipse cx="557.2" cy="340.1" rx="2.0" ry="1.7" fill-opacity="0.78"/><ellipse cx="557.6" cy="339.9" rx="2.3" ry="1.9" fill-opacity="0.78"/><circle cx="639.3" cy="327.7" r="1.7" fill-opacity="0.71"/><circle cx="639.4" cy="328.8" r="2.6" fill-opacity="0.71"/><ellipse cx="577.6" cy="316.5" rx="2.6" ry="2.9" fill-opacity="0.85"/><circle cx="577.4" cy="315.4" r="2.3" fill-opacity="0.85"/><ellipse cx="577.2" cy="331.6" rx="1.8" ry="1.6" fill-opacity="0.97"/><ellipse cx="573.2" cy="365.2" rx="2.4" ry="2.2" fill-opacity="0.80"/><circle cx="574.2" cy="366.6" r="2.1" fill-opacity="0.80"/><ellipse cx="510.4" cy="377.6" rx="2.4" ry="2.6" fill-opacity="0.67"/><circle cx="509.6" cy="377.0" r="1.9" fill-opacity="0.67"/><ellipse cx="503.8" cy="406.0" rx="2.5" ry="2.3" fill-opacity="0.63"/><ellipse cx="615.1" cy="306.0" rx="2.6" ry="2.8" fill-opacity="0.94"/><ellipse cx="615.5" cy="306.7" rx="2.6" ry="2.3" fill-opacity="0.94"/><ellipse cx="528.8" cy="375.5" rx="2.5" ry="2.7" fill-opacity="0.62"/><ellipse cx="642.6" cy="333.6" rx="2.6" ry="2.4" fill-opacity="0.61"/><ellipse cx="642.5" cy="333.5" rx="1.9" ry="1.7" fill-opacity="0.61"/><ellipse cx="579.4" cy="280.1" rx="2.8" ry="2.9" fill-opacity="0.86"/><ellipse cx="411.1" cy="250.2" rx="2.2" ry="2.3" fill-opacity="0.70"/><ellipse cx="411.5" cy="249.3" rx="2.3" ry="2.6" fill-opacity="0.70"/><circle cx="484.5" cy="329.7" r="1.9" fill-opacity="0.90"/><circle cx="423.3" cy="412.9" r="2.7" fill-opacity="0.64"/><ellipse cx="424.4" cy="413.7" rx="2.3" ry="2.0" fill-opacity="0.64"/><circle cx="581.2" cy="320.8" r="1.8" fill-opacity="0.74"/><ellipse cx="580.6" cy="320.9" rx="2.6" ry="2.3" fill-opacity="0.74"/><circle cx="610.0" cy="308.4" r="2.4" fill-opacity="0.66"/><circle cx="609.9" cy="308.1" r="2.0" fill-opacity="0.66"/><ellipse cx="463.8" cy="267.0" rx="2.8" ry="2.5" fill-opacity="0.97"/><circle cx="464.0" cy="267.4" r="2.4" fill-opacity="0.97"/><ellipse cx="602.5" cy="333.1" rx="2.0" ry="2.3" fill-opacity="0.86"/><ellipse cx="602.0" cy="333.3" rx="2.3" ry="2.2" fill-opacity="0.86"/><ellipse cx="652.0" cy="279.1" rx="2.1" ry="1.8" fill-opacity="0.80"/><ellipse cx="499.8" cy="264.4" rx="2.4" ry="2.7" fill-opacity="0.92"/><circle cx="481.3" cy="408.3" r="2.7" fill-opacity="0.82"/><circle cx="483.0" cy="409.6" r="2.4" fill-opacity="0.82"/><circle cx="589.4" cy="369.5" r="2.3" fill-opacity="0.78"/><ellipse cx="491.4" cy="408.7" rx="2.8" ry="2.4" fill-opacity="0.80"/><ellipse cx="653.7" cy="384.7" rx="2.2" ry="1.9" fill-opacity="0.76"/><ellipse cx="653.9" cy="383.7" rx="2.8" ry="2.4" fill-opacity="0.76"/><ellipse cx="464.6" cy="259.9" rx="1.8" ry="2.0" fill-opacity="0.67"/><circle cx="464.3" cy="260.1" r="1.8" fill-opacity="0.67"/><ellipse cx="500.8" cy="379.5" rx="2.7" ry="2.5" fill-opacity="0.81"/><ellipse cx="577.5" cy="387.1" rx="2.5" ry="2.3" fill-opacity="0.96"/><ellipse cx="576.0" cy="386.7" rx="2.7" ry="2.4" fill-opacity="0.96"/><ellipse cx="610.9" cy="291.0" rx="2.2" ry="1.9" fill-opacity="0.96"/><circle cx="508.1" cy="339.1" r="1.8" fill-opacity="0.80"/><circle cx="509.6" cy="338.9" r="2.0" fill-opacity="0.80"/><circle cx="439.5" cy="386.3" r="2.3" fill-opacity="0.69"/><circle cx="440.2" cy="387.1" r="2.6" fill-opacity="0.69"/><ellipse cx="504.5" cy="330.7" rx="2.2" ry="2.4" fill-opacity="0.66"/><ellipse cx="586.3" cy="391.5" rx="2.2" ry="2.5" fill-opacity="0.74"/><ellipse cx="445.6" cy="407.7" rx="2.1" ry="1.8" fill-opacity="0.75"/><ellipse cx="445.7" cy="408.3" rx="2.6" ry="2.4" fill-opacity="0.75"/><ellipse cx="628.5" cy="286.6" rx="2.5" ry="2.2" fill-opacity="0.98"/><circle cx="628.1" cy="286.1" r="2.7" fill-opacity="0.98"/><circle cx="556.1" cy="380.0" r="1.8" fill-opacity="0.62"/><circle cx="555.5" cy="381.3" r="2.8" fill-opacity="0.62"/><circle cx="557.5" cy="258.3" r="2.2" fill-opacity="0.67"/><circle cx="645.6" cy="402.7" r="1.7" fill-opacity="0.65"/><ellipse cx="569.0" cy="272.5" rx="2.2" ry="2.4" fill-opacity="0.65"/><circle cx="569.9" cy="272.8" r="2.1" fill-opacity="0.65"/><circle cx="542.2" cy="247.7" r="2.2" fill-opacity="0.64"/><ellipse cx="423.0" cy="332.3" rx="2.6" ry="2.9" fill-opacity="0.93"/><circle cx="423.1" cy="332.8" r="2.5" fill-opacity="0.93"/><ellipse cx="560.7" cy="320.5" rx="2.4" ry="2.1" fill-opacity="0.73"/></g><path d="M422.4 374.8v2.6M419.8 362.4v1.4M418.6 355.6v1.9M418.6 302.7v1.1M419.2 410.7v1.2M421.8 253.7v2.0M419.3 279.7v1.6M420.5 400.1v2.5M421.8 291.8v2.8M420.9 408.6v1.7M418.6 401.5v0.7M420.5 383.9v0.9M420.5 316.1v0.8M422.9 256.3v0.6M419.9 410.8v2.5M419.4 284.8v1.0M422.6 356.5v2.5M419.6 337.5v0.8M419.1 351.1v2.0M418.6 326.7v1.7M421.2 262.2v0.6M422.8 354.9v1.0M419.7 285.9v1.9M419.2 285.3v2.1M419.1 248.3v1.5M421.7 400.4v2.6M418.5 363.8v2.4M422.0 281.3v1.4M419.5 323.3v1.3M421.9 368.1v2.2M421.8 369.3v2.4M418.2 254.4v0.6M421.7 400.5v1.4M421.6 370.4v1.3M420.0 356.3v1.1M418.3 384.4v2.8M419.4 412.1v1.5M421.2 335.5v0.6M422.4 386.3v2.3M419.0 339.7v1.4M419.0 395.3v0.6M422.8 306.4v1.1M418.2 375.4v2.7M419.6 336.2v0.6M420.3 407.3v2.0M419.1 257.6v1.2M423.0 348.9v2.5M420.3 408.5v2.1M418.8 275.4v2.4M422.5 279.8v2.4M419.7 389.9v1.0M422.7 366.1v2.9M419.4 420.4v2.4M422.3 422.5v1.7M421.1 349.2v1.3M421.9 414.0v0.7M420.9 313.7v2.9M419.4 325.5v1.0M422.5 335.1v1.8M421.4 358.7v0.8M423.0 418.1v0.9M422.4 361.6v1.7M420.8 397.5v1.5M422.3 334.0v1.6M419.4 259.1v1.9M423.1 384.2v2.0M419.1 421.8v2.9M419.0 289.1v2.3M418.2 364.9v2.1M422.8 341.2v2.3M421.9 264.7v2.2M419.1 283.5v1.9M420.4 409.6v1.9M418.4 252.6v2.8M422.4 326.0v2.0M422.4 399.5v2.0M421.9 323.4v2.2M419.8 261.5v1.5M421.7 271.9v1.6M419.7 317.1v1.1M421.1 419.0v1.4M420.8 325.1v0.5M421.4 359.4v1.7M418.6 350.9v2.1M420.8 333.2v0.8M419.7 291.1v1.9M421.5 390.7v1.7M421.7 252.9v1.7M421.3 394.2v1.8M421.9 356.5v2.1M422.6 405.4v1.4M419.7 396.6v2.5M422.0 337.3v2.9M420.2 331.3v2.3M422.0 411.5v2.6M421.2 408.0v2.7M419.8 282.3v2.0M420.4 338.7v2.1M419.8 358.0v0.9M419.8 416.3v1.7M419.6 270.7v2.0M422.2 282.4v2.9M418.6 344.5v0.8M421.6 371.5v2.0M418.2 355.8v1.4M422.5 391.2v0.6M421.2 317.5v2.1M419.7 272.6v0.7M418.3 350.1v1.2M422.7 354.7v1.9M421.7 309.6v2.8M422.8 372.1v2.9M421.5 299.5v1.6M419.3 399.7v2.6M421.9 366.1v1.2M420.0 264.1v2.6M419.1 263.5v1.9M421.8 333.8v1.2M420.6 280.6v1.4M418.3 401.9v0.7M420.5 402.5v1.0M421.7 365.5v1.3M422.0 372.1v1.5M422.0 296.2v1.4M419.0 367.5v2.4M422.2 332.0v0.6M420.2 400.8v1.2M422.8 255.6v2.0M418.2 337.1v2.1M419.7 397.7v1.0M420.9 254.8v2.3M421.7 278.6v2.1M420.3 378.5v2.4M422.4 286.3v0.8M420.9 419.4v2.7M421.2 416.1v0.7M421.9 295.1v0.6M420.0 336.9v1.0M422.2 260.9v1.3M423.0 248.8v2.2M419.9 385.2v2.2M421.3 338.0v0.8M421.9 294.4v1.5M421.8 391.3v2.5M418.8 361.4v0.7M418.9 409.0v2.7M422.9 261.1v1.7M422.0 362.4v2.8M418.1 314.6v0.5M419.7 409.9v1.5" stroke="#2a2016" stroke-opacity=".7" stroke-width="1.5" stroke-linecap="round" fill="none"/><path d="M419.20000000000005 247V423M422.20000000000005 247V423" stroke="#3a3026" stroke-opacity=".45" stroke-width="1" fill="none"/><g filter="url(#bl1)" fill="#1a1814"><circle cx="609.5" cy="311" r="3.2"/><circle cx="620.5" cy="326.5" r="2.6"/><circle cx="563.5" cy="361" r="2.8"/><circle cx="591.5" cy="350" r="2.7"/></g><ellipse cx="552" cy="382.4" rx="2" ry="3.6" fill="none" stroke="#3a3a30" stroke-width="1"/></g><rect x="407.3" y="247.7" width="260.70000000000005" height="174.6" fill="none" stroke="#111" stroke-width="1.4"/><clipPath id="cl4"><rect x="406.6" y="441.7" width="262.1" height="175.50000000000006"/></clipPath><g clip-path="url(#cl4)"><rect x="406.6" y="441.7" width="262.1" height="175.50000000000006" fill="#fefefd"/><path d="M427.5 464.0h8.5M578.7 569.8h9.4M575.8 474.5h14.0M586.2 449.8h5.4M464.2 490.1h6.3M550.3 594.9h12.4M657.1 515.9h12.6M519.9 495.3h9.3M586.9 457.4h7.7M487.1 449.9h9.0M480.5 482.6h6.7M645.2 596.0h5.8M593.8 578.7h8.5M457.4 592.1h8.9M510.8 503.6h8.7M510.2 499.9h10.6M600.1 608.0h5.5M552.4 468.2h11.7M542.7 531.5h10.8M626.8 473.6h8.2M554.5 461.6h10.7M497.2 595.4h8.9M435.4 575.1h11.4M562.3 589.4h12.6M423.2 606.1h11.2M633.0 489.9h8.5M420.6 531.1h11.3M514.3 569.7h7.5M426.7 594.0h11.7M668.2 544.3h4.3M595.1 501.6h4.8M455.2 502.6h6.8M420.8 542.4h4.9M539.9 528.7h7.0M564.9 562.9h10.1M551.6 585.4h10.6M598.4 594.1h9.2M433.3 505.4h5.6M651.1 508.2h6.8M563.8 521.0h6.9M525.7 617.1h5.8M493.1 513.9h13.8M433.3 607.0h7.7M432.0 467.3h7.6M522.6 580.5h7.3M618.6 509.1h10.7M524.8 456.6h8.7M567.2 541.3h13.8M474.9 540.4h8.3M478.0 446.9h6.4M407.6 514.8h5.6M455.3 479.7h13.2M434.5 610.7h7.1M608.2 523.1h8.0M641.5 534.2h12.3M650.4 446.2h4.4M548.0 550.6h8.6M650.3 520.1h10.7M563.6 530.2h4.1M583.9 542.1h4.7M528.4 574.0h6.9M555.0 466.1h6.3M617.4 462.3h10.5M456.3 594.1h7.3M482.2 442.2h5.9M453.9 515.0h10.1M634.5 513.8h12.6M521.5 478.5h11.9M423.1 496.6h7.8M655.9 506.7h7.8M457.2 615.1h5.3M651.7 481.5h12.7M647.9 602.8h10.5M458.6 490.5h9.5M572.6 598.1h6.4M409.4 499.3h6.6M518.8 612.6h10.8M664.5 550.4h8.9M539.8 561.3h5.5M454.3 538.8h9.8M420.5 542.7h8.0M507.1 486.0h11.1M433.2 455.7h13.6M406.6 560.4h10.8M484.2 488.5h8.9M434.2 479.9h13.1M501.8 530.5h13.8M510.8 525.9h10.4M512.8 520.9h11.9M496.7 617.2h10.6M545.3 466.1h13.3M662.2 456.5h8.1M409.3 474.9h10.9M467.0 547.9h8.1M622.3 492.9h11.3M582.2 570.6h13.2M632.0 448.8h12.6M668.4 513.8h6.0M517.8 571.0h11.2M637.0 466.6h11.3M489.7 495.7h13.6M421.9 454.7h12.0M638.5 561.5h8.9M611.5 520.0h10.7M442.1 615.6h10.1M462.4 537.2h8.1M649.1 607.7h10.4M633.0 479.6h9.8M438.9 512.2h12.1M436.2 463.1h9.1M503.4 595.5h7.2M608.5 531.4h11.0M624.7 543.9h12.4M593.2 530.6h8.4M411.0 544.0h10.5M663.7 609.8h7.0M650.1 566.5h4.1M476.5 603.1h7.9M498.1 516.6h11.0M638.6 460.8h5.5" stroke="#8a8a70" stroke-width=".6" stroke-opacity=".35" fill="none"/><g fill="url(#rg4)"><ellipse cx="544.7" cy="560.7" rx="2.7" ry="2.2" fill-opacity="0.43"/><ellipse cx="546.4" cy="561.8" rx="2.6" ry="2.1" fill-opacity="0.43"/><circle cx="547.0" cy="560.7" r="2.0" fill-opacity="0.43"/><circle cx="546.2" cy="562.2" r="2.8" fill-opacity="0.43"/><ellipse cx="559.7" cy="477.1" rx="2.6" ry="2.1" fill-opacity="0.43"/><ellipse cx="558.9" cy="478.3" rx="2.1" ry="1.8" fill-opacity="0.43"/><circle cx="559.6" cy="477.8" r="2.5" fill-opacity="0.43"/><circle cx="440.6" cy="459.3" r="2.5" fill-opacity="0.83"/><ellipse cx="442.2" cy="460.2" rx="2.1" ry="1.6" fill-opacity="0.83"/><ellipse cx="443.2" cy="460.6" rx="2.0" ry="1.5" fill-opacity="0.83"/><ellipse cx="439.6" cy="461.7" rx="2.9" ry="2.2" fill-opacity="0.83"/><ellipse cx="603.2" cy="587.6" rx="2.0" ry="1.7" fill-opacity="0.84"/><ellipse cx="603.2" cy="587.8" rx="2.0" ry="1.5" fill-opacity="0.84"/><ellipse cx="603.5" cy="587.7" rx="1.8" ry="1.4" fill-opacity="0.84"/><ellipse cx="509.8" cy="466.3" rx="1.7" ry="1.4" fill-opacity="0.44"/><ellipse cx="513.7" cy="465.6" rx="2.0" ry="1.6" fill-opacity="0.44"/><ellipse cx="513.7" cy="466.4" rx="2.1" ry="1.7" fill-opacity="0.44"/><ellipse cx="513.9" cy="465.8" rx="2.5" ry="2.1" fill-opacity="0.44"/><ellipse cx="573.2" cy="492.0" rx="2.9" ry="2.3" fill-opacity="0.58"/><ellipse cx="569.2" cy="494.0" rx="2.3" ry="1.9" fill-opacity="0.58"/><ellipse cx="569.7" cy="492.8" rx="2.8" ry="2.1" fill-opacity="0.58"/><ellipse cx="570.1" cy="494.5" rx="1.9" ry="1.4" fill-opacity="0.58"/><ellipse cx="653.8" cy="469.0" rx="2.1" ry="1.5" fill-opacity="0.64"/><ellipse cx="654.0" cy="467.9" rx="2.7" ry="2.0" fill-opacity="0.64"/><ellipse cx="653.9" cy="471.1" rx="2.5" ry="1.9" fill-opacity="0.64"/><ellipse cx="427.8" cy="450.8" rx="2.7" ry="2.0" fill-opacity="0.77"/><circle cx="428.4" cy="451.0" r="2.3" fill-opacity="0.77"/><ellipse cx="428.0" cy="450.5" rx="2.4" ry="1.7" fill-opacity="0.77"/><ellipse cx="456.8" cy="501.9" rx="2.9" ry="2.5" fill-opacity="0.47"/><ellipse cx="452.5" cy="502.4" rx="2.0" ry="1.9" fill-opacity="0.47"/><ellipse cx="453.2" cy="501.8" rx="2.0" ry="1.7" fill-opacity="0.47"/><ellipse cx="453.4" cy="501.0" rx="2.2" ry="1.6" fill-opacity="0.47"/><circle cx="453.5" cy="504.0" r="2.7" fill-opacity="0.47"/><ellipse cx="448.3" cy="457.4" rx="2.7" ry="2.3" fill-opacity="0.76"/><circle cx="449.5" cy="456.9" r="1.8" fill-opacity="0.76"/><ellipse cx="447.6" cy="458.1" rx="2.1" ry="1.8" fill-opacity="0.76"/><ellipse cx="482.8" cy="518.2" rx="2.2" ry="1.7" fill-opacity="0.77"/><ellipse cx="482.1" cy="520.0" rx="2.5" ry="1.9" fill-opacity="0.77"/><ellipse cx="481.0" cy="519.6" rx="2.5" ry="1.7" fill-opacity="0.77"/><ellipse cx="480.7" cy="519.8" rx="1.9" ry="1.7" fill-opacity="0.77"/><ellipse cx="636.7" cy="513.6" rx="2.9" ry="2.3" fill-opacity="0.75"/><ellipse cx="638.2" cy="514.0" rx="2.7" ry="2.3" fill-opacity="0.75"/><ellipse cx="640.8" cy="513.4" rx="2.2" ry="1.9" fill-opacity="0.75"/><circle cx="640.9" cy="513.4" r="2.7" fill-opacity="0.75"/><circle cx="638.1" cy="513.5" r="2.0" fill-opacity="0.75"/><ellipse cx="574.8" cy="471.2" rx="2.9" ry="2.5" fill-opacity="0.73"/><ellipse cx="575.8" cy="475.2" rx="2.4" ry="1.9" fill-opacity="0.73"/><ellipse cx="571.9" cy="473.2" rx="1.9" ry="1.7" fill-opacity="0.73"/><ellipse cx="503.2" cy="554.9" rx="1.7" ry="1.5" fill-opacity="0.58"/><ellipse cx="500.6" cy="557.6" rx="2.6" ry="2.5" fill-opacity="0.58"/><circle cx="504.1" cy="555.5" r="2.3" fill-opacity="0.58"/><circle cx="501.1" cy="555.8" r="2.8" fill-opacity="0.58"/><ellipse cx="502.0" cy="555.6" rx="2.5" ry="2.2" fill-opacity="0.58"/><ellipse cx="514.4" cy="484.3" rx="2.6" ry="1.8" fill-opacity="0.69"/><ellipse cx="510.5" cy="481.2" rx="1.8" ry="1.5" fill-opacity="0.69"/><ellipse cx="513.2" cy="481.9" rx="2.9" ry="2.3" fill-opacity="0.69"/><ellipse cx="509.4" cy="483.6" rx="2.4" ry="2.1" fill-opacity="0.69"/><ellipse cx="616.4" cy="573.1" rx="2.2" ry="1.9" fill-opacity="0.38"/><ellipse cx="615.0" cy="570.7" rx="2.7" ry="2.3" fill-opacity="0.38"/><ellipse cx="615.5" cy="574.1" rx="1.9" ry="1.8" fill-opacity="0.38"/><ellipse cx="510.1" cy="610.5" rx="2.0" ry="1.5" fill-opacity="0.41"/><ellipse cx="512.0" cy="610.6" rx="2.0" ry="1.4" fill-opacity="0.41"/><ellipse cx="509.8" cy="610.4" rx="2.8" ry="2.4" fill-opacity="0.41"/><circle cx="511.8" cy="609.8" r="2.5" fill-opacity="0.41"/><ellipse cx="510.5" cy="610.1" rx="1.9" ry="1.7" fill-opacity="0.41"/><ellipse cx="440.3" cy="576.7" rx="2.9" ry="2.2" fill-opacity="0.82"/><ellipse cx="436.9" cy="576.6" rx="2.4" ry="2.1" fill-opacity="0.82"/><ellipse cx="438.4" cy="574.6" rx="1.9" ry="1.3" fill-opacity="0.82"/><circle cx="438.3" cy="574.7" r="2.2" fill-opacity="0.82"/><circle cx="437.3" cy="577.0" r="2.1" fill-opacity="0.82"/><ellipse cx="624.6" cy="541.9" rx="2.0" ry="1.7" fill-opacity="0.47"/><ellipse cx="623.4" cy="543.5" rx="2.8" ry="2.2" fill-opacity="0.47"/><ellipse cx="625.6" cy="541.9" rx="2.2" ry="1.9" fill-opacity="0.47"/><circle cx="478.2" cy="571.6" r="2.0" fill-opacity="0.53"/><ellipse cx="480.5" cy="572.0" rx="2.7" ry="2.0" fill-opacity="0.53"/><ellipse cx="479.3" cy="571.4" rx="2.2" ry="1.7" fill-opacity="0.53"/><ellipse cx="454.4" cy="548.7" rx="2.2" ry="1.9" fill-opacity="0.70"/><ellipse cx="458.1" cy="549.1" rx="2.0" ry="1.7" fill-opacity="0.70"/><ellipse cx="458.3" cy="549.0" rx="2.3" ry="1.9" fill-opacity="0.70"/><ellipse cx="443.5" cy="569.8" rx="2.9" ry="2.5" fill-opacity="0.85"/><circle cx="445.2" cy="568.8" r="1.9" fill-opacity="0.85"/><ellipse cx="445.4" cy="566.9" rx="2.8" ry="2.5" fill-opacity="0.85"/><ellipse cx="505.3" cy="584.6" rx="2.1" ry="1.5" fill-opacity="0.83"/><circle cx="504.5" cy="583.9" r="2.7" fill-opacity="0.83"/><ellipse cx="505.3" cy="584.2" rx="1.8" ry="1.5" fill-opacity="0.83"/><ellipse cx="505.0" cy="584.3" rx="2.6" ry="1.9" fill-opacity="0.83"/><ellipse cx="504.4" cy="584.5" rx="2.8" ry="2.4" fill-opacity="0.83"/><ellipse cx="582.5" cy="453.0" rx="1.9" ry="1.4" fill-opacity="0.45"/><circle cx="584.8" cy="453.7" r="2.2" fill-opacity="0.45"/><ellipse cx="581.4" cy="453.2" rx="2.7" ry="2.1" fill-opacity="0.45"/><ellipse cx="581.5" cy="452.7" rx="2.2" ry="1.9" fill-opacity="0.45"/><ellipse cx="580.2" cy="451.7" rx="2.3" ry="2.0" fill-opacity="0.45"/><ellipse cx="560.9" cy="525.3" rx="2.1" ry="1.6" fill-opacity="0.55"/><ellipse cx="561.3" cy="527.7" rx="1.9" ry="1.6" fill-opacity="0.55"/><circle cx="563.0" cy="526.7" r="1.8" fill-opacity="0.55"/><ellipse cx="562.2" cy="526.2" rx="2.4" ry="2.0" fill-opacity="0.55"/><ellipse cx="621.5" cy="550.5" rx="3.0" ry="2.3" fill-opacity="0.71"/><ellipse cx="626.2" cy="553.0" rx="3.0" ry="2.6" fill-opacity="0.71"/><ellipse cx="621.3" cy="551.2" rx="2.6" ry="2.0" fill-opacity="0.71"/><ellipse cx="624.2" cy="552.5" rx="2.8" ry="2.5" fill-opacity="0.71"/><circle cx="622.3" cy="552.9" r="2.9" fill-opacity="0.71"/><circle cx="602.0" cy="570.9" r="1.9" fill-opacity="0.51"/><circle cx="600.5" cy="570.0" r="2.0" fill-opacity="0.51"/><ellipse cx="603.2" cy="570.5" rx="2.8" ry="2.1" fill-opacity="0.51"/><ellipse cx="604.3" cy="571.2" rx="2.6" ry="2.1" fill-opacity="0.51"/><ellipse cx="603.5" cy="569.5" rx="2.5" ry="1.8" fill-opacity="0.51"/><ellipse cx="655.9" cy="506.4" rx="2.9" ry="2.4" fill-opacity="0.56"/><ellipse cx="657.3" cy="508.4" rx="2.0" ry="1.8" fill-opacity="0.56"/><circle cx="656.1" cy="508.2" r="2.4" fill-opacity="0.56"/><ellipse cx="657.0" cy="510.2" rx="2.4" ry="2.1" fill-opacity="0.56"/><ellipse cx="425.1" cy="465.9" rx="1.9" ry="1.7" fill-opacity="0.61"/><ellipse cx="424.1" cy="468.1" rx="2.1" ry="1.8" fill-opacity="0.61"/><circle cx="420.5" cy="467.0" r="2.8" fill-opacity="0.61"/><ellipse cx="424.2" cy="468.3" rx="2.2" ry="1.9" fill-opacity="0.61"/><ellipse cx="422.3" cy="467.2" rx="2.8" ry="2.5" fill-opacity="0.61"/><ellipse cx="448.6" cy="495.8" rx="2.6" ry="2.0" fill-opacity="0.77"/><ellipse cx="449.4" cy="494.9" rx="2.4" ry="1.8" fill-opacity="0.77"/><ellipse cx="451.0" cy="494.5" rx="1.9" ry="1.7" fill-opacity="0.77"/><circle cx="450.3" cy="498.3" r="2.1" fill-opacity="0.77"/><ellipse cx="514.8" cy="528.7" rx="2.1" ry="1.5" fill-opacity="0.67"/><ellipse cx="516.2" cy="527.9" rx="2.9" ry="2.5" fill-opacity="0.67"/><circle cx="511.8" cy="525.5" r="1.8" fill-opacity="0.67"/><circle cx="510.5" cy="525.6" r="2.0" fill-opacity="0.67"/><ellipse cx="515.9" cy="526.3" rx="2.9" ry="2.3" fill-opacity="0.67"/><ellipse cx="453.6" cy="587.8" rx="2.7" ry="2.5" fill-opacity="0.64"/><ellipse cx="452.6" cy="588.1" rx="2.0" ry="1.5" fill-opacity="0.64"/><ellipse cx="453.7" cy="587.9" rx="2.6" ry="1.9" fill-opacity="0.64"/><ellipse cx="453.6" cy="589.9" rx="2.5" ry="2.3" fill-opacity="0.64"/><ellipse cx="454.9" cy="590.2" rx="2.1" ry="1.7" fill-opacity="0.64"/><ellipse cx="584.9" cy="476.4" rx="2.3" ry="1.9" fill-opacity="0.48"/><circle cx="585.7" cy="476.1" r="2.0" fill-opacity="0.48"/><ellipse cx="587.8" cy="473.7" rx="1.9" ry="1.4" fill-opacity="0.48"/><ellipse cx="588.7" cy="475.2" rx="2.4" ry="2.0" fill-opacity="0.48"/><ellipse cx="585.7" cy="472.9" rx="2.5" ry="2.0" fill-opacity="0.48"/><ellipse cx="653.9" cy="604.6" rx="2.7" ry="2.2" fill-opacity="0.57"/><circle cx="653.3" cy="603.0" r="2.4" fill-opacity="0.57"/><ellipse cx="653.9" cy="603.0" rx="2.6" ry="2.4" fill-opacity="0.57"/><ellipse cx="648.2" cy="611.4" rx="2.4" ry="1.7" fill-opacity="0.66"/><circle cx="646.5" cy="609.8" r="1.9" fill-opacity="0.66"/><ellipse cx="648.7" cy="611.2" rx="2.5" ry="1.8" fill-opacity="0.66"/><ellipse cx="648.9" cy="610.5" rx="2.2" ry="1.9" fill-opacity="0.66"/><ellipse cx="591.1" cy="530.1" rx="1.8" ry="1.4" fill-opacity="0.78"/><ellipse cx="591.9" cy="532.5" rx="1.9" ry="1.7" fill-opacity="0.78"/><circle cx="590.0" cy="532.6" r="2.3" fill-opacity="0.78"/><ellipse cx="591.8" cy="529.4" rx="1.9" ry="1.5" fill-opacity="0.78"/><circle cx="428.7" cy="572.8" r="1.9" fill-opacity="0.41"/><circle cx="431.2" cy="570.5" r="2.7" fill-opacity="0.41"/><circle cx="429.5" cy="571.7" r="2.4" fill-opacity="0.41"/><ellipse cx="429.7" cy="572.9" rx="2.5" ry="2.2" fill-opacity="0.41"/><ellipse cx="429.6" cy="574.4" rx="2.9" ry="2.6" fill-opacity="0.41"/><ellipse cx="514.3" cy="456.0" rx="2.4" ry="1.9" fill-opacity="0.36"/><ellipse cx="507.9" cy="457.8" rx="2.8" ry="2.0" fill-opacity="0.36"/><ellipse cx="512.7" cy="457.1" rx="2.0" ry="1.6" fill-opacity="0.36"/><circle cx="511.5" cy="456.2" r="2.7" fill-opacity="0.36"/><ellipse cx="509.9" cy="457.2" rx="2.5" ry="2.0" fill-opacity="0.36"/><ellipse cx="444.6" cy="560.9" rx="2.8" ry="2.4" fill-opacity="0.57"/><ellipse cx="440.6" cy="559.1" rx="2.5" ry="2.0" fill-opacity="0.57"/><ellipse cx="443.5" cy="560.2" rx="2.1" ry="1.8" fill-opacity="0.57"/><circle cx="441.7" cy="562.6" r="2.6" fill-opacity="0.57"/><ellipse cx="471.9" cy="515.6" rx="2.0" ry="1.6" fill-opacity="0.55"/><ellipse cx="470.5" cy="515.8" rx="1.8" ry="1.4" fill-opacity="0.55"/><ellipse cx="471.6" cy="513.7" rx="2.9" ry="2.4" fill-opacity="0.55"/><ellipse cx="535.8" cy="494.4" rx="1.8" ry="1.3" fill-opacity="0.48"/><ellipse cx="534.2" cy="496.1" rx="2.1" ry="1.5" fill-opacity="0.48"/><ellipse cx="540.0" cy="494.7" rx="2.4" ry="1.8" fill-opacity="0.48"/><circle cx="537.9" cy="495.3" r="2.7" fill-opacity="0.48"/><circle cx="589.1" cy="558.0" r="2.8" fill-opacity="0.84"/><ellipse cx="595.6" cy="558.5" rx="2.3" ry="2.0" fill-opacity="0.84"/><ellipse cx="592.2" cy="557.4" rx="2.4" ry="2.2" fill-opacity="0.84"/><ellipse cx="593.1" cy="555.1" rx="2.0" ry="1.6" fill-opacity="0.84"/><circle cx="588.7" cy="555.9" r="2.1" fill-opacity="0.84"/><ellipse cx="651.8" cy="499.4" rx="2.1" ry="1.9" fill-opacity="0.37"/><ellipse cx="652.4" cy="501.5" rx="2.7" ry="2.2" fill-opacity="0.37"/><ellipse cx="648.9" cy="501.1" rx="2.2" ry="1.7" fill-opacity="0.37"/><circle cx="650.9" cy="501.1" r="1.8" fill-opacity="0.37"/><ellipse cx="650.0" cy="501.2" rx="3.0" ry="2.2" fill-opacity="0.37"/><circle cx="590.0" cy="515.2" r="2.9" fill-opacity="0.60"/><ellipse cx="590.9" cy="515.6" rx="3.0" ry="2.2" fill-opacity="0.60"/><ellipse cx="589.3" cy="514.6" rx="1.8" ry="1.4" fill-opacity="0.60"/><circle cx="639.4" cy="561.1" r="1.9" fill-opacity="0.58"/><circle cx="637.6" cy="559.1" r="2.1" fill-opacity="0.58"/><ellipse cx="632.2" cy="561.3" rx="2.9" ry="2.7" fill-opacity="0.58"/><ellipse cx="647.3" cy="511.5" rx="2.3" ry="2.0" fill-opacity="0.76"/><ellipse cx="646.0" cy="509.6" rx="2.4" ry="1.7" fill-opacity="0.76"/><ellipse cx="649.1" cy="511.8" rx="1.8" ry="1.6" fill-opacity="0.76"/><ellipse cx="643.4" cy="511.1" rx="1.9" ry="1.6" fill-opacity="0.76"/><ellipse cx="647.4" cy="511.6" rx="1.8" ry="1.5" fill-opacity="0.76"/><ellipse cx="580.6" cy="505.3" rx="1.8" ry="1.5" fill-opacity="0.51"/><ellipse cx="577.2" cy="505.5" rx="1.7" ry="1.4" fill-opacity="0.51"/><ellipse cx="582.7" cy="506.2" rx="1.9" ry="1.7" fill-opacity="0.51"/><circle cx="579.5" cy="507.1" r="2.6" fill-opacity="0.51"/><ellipse cx="645.4" cy="590.1" rx="1.7" ry="1.5" fill-opacity="0.47"/><ellipse cx="644.7" cy="590.2" rx="1.9" ry="1.4" fill-opacity="0.47"/><ellipse cx="646.0" cy="590.2" rx="2.9" ry="2.1" fill-opacity="0.47"/><ellipse cx="643.1" cy="591.6" rx="2.4" ry="1.8" fill-opacity="0.47"/><circle cx="471.9" cy="524.1" r="2.3" fill-opacity="0.65"/><circle cx="472.0" cy="521.7" r="2.2" fill-opacity="0.65"/><ellipse cx="470.1" cy="521.7" rx="2.7" ry="2.6" fill-opacity="0.65"/><circle cx="525.4" cy="531.4" r="2.8" fill-opacity="0.42"/><ellipse cx="527.5" cy="530.1" rx="3.0" ry="2.2" fill-opacity="0.42"/><circle cx="526.4" cy="530.2" r="2.9" fill-opacity="0.42"/><ellipse cx="472.4" cy="504.8" rx="2.2" ry="1.6" fill-opacity="0.81"/><ellipse cx="474.5" cy="506.6" rx="1.9" ry="1.7" fill-opacity="0.81"/><ellipse cx="478.6" cy="506.7" rx="1.7" ry="1.5" fill-opacity="0.81"/><ellipse cx="664.4" cy="524.3" rx="2.1" ry="1.6" fill-opacity="0.71"/><ellipse cx="659.9" cy="526.7" rx="2.8" ry="2.0" fill-opacity="0.71"/><ellipse cx="661.5" cy="525.9" rx="2.3" ry="1.7" fill-opacity="0.71"/><ellipse cx="661.9" cy="525.3" rx="2.5" ry="2.3" fill-opacity="0.71"/><circle cx="611.9" cy="608.6" r="2.9" fill-opacity="0.82"/><ellipse cx="613.3" cy="607.8" rx="2.2" ry="1.6" fill-opacity="0.82"/><ellipse cx="613.2" cy="609.4" rx="2.3" ry="1.7" fill-opacity="0.82"/><ellipse cx="611.6" cy="608.3" rx="2.1" ry="1.8" fill-opacity="0.82"/><ellipse cx="619.3" cy="600.6" rx="2.7" ry="2.4" fill-opacity="0.41"/><ellipse cx="618.8" cy="600.3" rx="2.4" ry="2.0" fill-opacity="0.41"/><ellipse cx="621.4" cy="599.8" rx="2.4" ry="1.9" fill-opacity="0.41"/><circle cx="483.7" cy="608.3" r="2.9" fill-opacity="0.57"/><ellipse cx="486.0" cy="607.9" rx="2.8" ry="2.6" fill-opacity="0.57"/><ellipse cx="483.6" cy="607.4" rx="2.6" ry="1.8" fill-opacity="0.57"/><ellipse cx="485.7" cy="606.4" rx="2.0" ry="1.6" fill-opacity="0.57"/><circle cx="487.5" cy="608.5" r="2.1" fill-opacity="0.57"/><ellipse cx="514.6" cy="447.5" rx="2.6" ry="2.1" fill-opacity="0.75"/><circle cx="514.7" cy="443.8" r="2.8" fill-opacity="0.75"/><ellipse cx="516.3" cy="445.4" rx="3.0" ry="2.2" fill-opacity="0.75"/><ellipse cx="514.3" cy="445.7" rx="2.6" ry="1.9" fill-opacity="0.75"/><ellipse cx="484.8" cy="445.2" rx="2.2" ry="1.6" fill-opacity="0.85"/><ellipse cx="485.7" cy="444.0" rx="1.8" ry="1.3" fill-opacity="0.85"/><ellipse cx="484.8" cy="445.3" rx="1.8" ry="1.6" fill-opacity="0.85"/><ellipse cx="456.8" cy="594.3" rx="2.5" ry="1.9" fill-opacity="0.41"/><ellipse cx="456.5" cy="594.4" rx="2.9" ry="2.1" fill-opacity="0.41"/><ellipse cx="453.0" cy="593.7" rx="2.4" ry="1.7" fill-opacity="0.41"/><ellipse cx="512.2" cy="599.4" rx="2.6" ry="2.4" fill-opacity="0.57"/><ellipse cx="514.5" cy="598.0" rx="2.7" ry="2.2" fill-opacity="0.57"/><ellipse cx="513.8" cy="599.7" rx="2.0" ry="1.5" fill-opacity="0.57"/><ellipse cx="513.4" cy="597.3" rx="2.3" ry="2.1" fill-opacity="0.57"/><ellipse cx="408.0" cy="591.3" rx="2.4" ry="1.8" fill-opacity="0.53"/><ellipse cx="405.1" cy="590.3" rx="2.3" ry="2.0" fill-opacity="0.53"/><ellipse cx="407.0" cy="589.6" rx="2.8" ry="2.2" fill-opacity="0.53"/><ellipse cx="407.8" cy="589.9" rx="2.2" ry="2.0" fill-opacity="0.53"/><ellipse cx="483.8" cy="576.9" rx="2.1" ry="1.6" fill-opacity="0.64"/><circle cx="487.7" cy="575.2" r="1.9" fill-opacity="0.64"/><ellipse cx="487.4" cy="575.6" rx="2.7" ry="2.3" fill-opacity="0.64"/><circle cx="486.5" cy="575.3" r="2.2" fill-opacity="0.64"/><ellipse cx="428.9" cy="524.1" rx="2.2" ry="1.9" fill-opacity="0.58"/><ellipse cx="429.4" cy="523.4" rx="2.5" ry="1.7" fill-opacity="0.58"/><ellipse cx="431.1" cy="522.3" rx="2.2" ry="1.6" fill-opacity="0.58"/><ellipse cx="433.6" cy="522.9" rx="2.9" ry="2.7" fill-opacity="0.58"/><ellipse cx="429.4" cy="520.6" rx="2.5" ry="1.7" fill-opacity="0.58"/><ellipse cx="424.2" cy="489.4" rx="2.2" ry="1.8" fill-opacity="0.82"/><ellipse cx="423.1" cy="488.9" rx="2.8" ry="2.1" fill-opacity="0.82"/><ellipse cx="423.7" cy="486.8" rx="2.5" ry="1.9" fill-opacity="0.82"/><ellipse cx="423.6" cy="488.2" rx="2.9" ry="2.6" fill-opacity="0.82"/><ellipse cx="456.3" cy="584.1" rx="1.9" ry="1.6" fill-opacity="0.42"/><ellipse cx="458.8" cy="582.9" rx="2.1" ry="1.7" fill-opacity="0.42"/><ellipse cx="458.0" cy="582.8" rx="2.8" ry="2.3" fill-opacity="0.42"/><circle cx="456.7" cy="580.9" r="2.3" fill-opacity="0.42"/><ellipse cx="468.2" cy="578.1" rx="2.4" ry="2.0" fill-opacity="0.47"/><ellipse cx="471.0" cy="578.9" rx="2.5" ry="1.8" fill-opacity="0.47"/><circle cx="469.4" cy="576.2" r="1.9" fill-opacity="0.47"/><ellipse cx="471.7" cy="577.2" rx="2.8" ry="2.0" fill-opacity="0.47"/><ellipse cx="472.0" cy="578.2" rx="2.4" ry="1.7" fill-opacity="0.47"/><ellipse cx="436.8" cy="537.2" rx="2.5" ry="2.3" fill-opacity="0.76"/><ellipse cx="434.6" cy="538.7" rx="2.7" ry="2.5" fill-opacity="0.76"/><ellipse cx="436.6" cy="538.0" rx="2.1" ry="1.6" fill-opacity="0.76"/><ellipse cx="432.1" cy="538.9" rx="2.1" ry="1.7" fill-opacity="0.76"/><ellipse cx="617.5" cy="487.2" rx="2.3" ry="1.8" fill-opacity="0.82"/><ellipse cx="618.9" cy="485.9" rx="2.4" ry="2.0" fill-opacity="0.82"/><ellipse cx="619.2" cy="486.1" rx="2.6" ry="2.1" fill-opacity="0.82"/><ellipse cx="620.1" cy="485.8" rx="2.5" ry="2.0" fill-opacity="0.82"/><ellipse cx="615.1" cy="486.2" rx="1.8" ry="1.5" fill-opacity="0.82"/><circle cx="407.9" cy="544.7" r="2.5" fill-opacity="0.57"/><ellipse cx="406.8" cy="542.6" rx="1.9" ry="1.3" fill-opacity="0.57"/><ellipse cx="407.4" cy="541.0" rx="2.4" ry="2.1" fill-opacity="0.57"/><ellipse cx="434.6" cy="490.0" rx="2.0" ry="1.9" fill-opacity="0.66"/><ellipse cx="432.0" cy="489.6" rx="1.8" ry="1.5" fill-opacity="0.66"/><ellipse cx="431.5" cy="489.4" rx="2.5" ry="2.1" fill-opacity="0.66"/><circle cx="432.0" cy="490.0" r="2.4" fill-opacity="0.66"/><ellipse cx="432.2" cy="489.8" rx="2.8" ry="2.6" fill-opacity="0.66"/><ellipse cx="649.6" cy="547.8" rx="2.7" ry="2.2" fill-opacity="0.78"/><ellipse cx="649.5" cy="550.4" rx="2.7" ry="2.3" fill-opacity="0.78"/><ellipse cx="649.3" cy="548.7" rx="2.4" ry="1.8" fill-opacity="0.78"/><ellipse cx="666.9" cy="558.9" rx="3.0" ry="2.6" fill-opacity="0.40"/><circle cx="666.0" cy="558.0" r="2.0" fill-opacity="0.40"/><ellipse cx="665.2" cy="559.8" rx="2.7" ry="2.1" fill-opacity="0.40"/><ellipse cx="668.0" cy="560.3" rx="1.8" ry="1.5" fill-opacity="0.40"/><ellipse cx="479.8" cy="541.9" rx="2.9" ry="2.5" fill-opacity="0.61"/><ellipse cx="480.5" cy="542.9" rx="2.1" ry="1.7" fill-opacity="0.61"/><ellipse cx="479.1" cy="542.0" rx="2.9" ry="2.7" fill-opacity="0.61"/><ellipse cx="465.5" cy="460.5" rx="2.8" ry="2.1" fill-opacity="0.47"/><circle cx="463.7" cy="458.9" r="1.8" fill-opacity="0.47"/><ellipse cx="465.1" cy="459.4" rx="2.5" ry="2.2" fill-opacity="0.47"/><ellipse cx="465.3" cy="459.3" rx="2.2" ry="1.7" fill-opacity="0.47"/><circle cx="457.6" cy="478.5" r="2.7" fill-opacity="0.77"/><ellipse cx="455.8" cy="479.8" rx="2.8" ry="2.4" fill-opacity="0.77"/><ellipse cx="456.5" cy="481.6" rx="2.5" ry="1.8" fill-opacity="0.77"/><circle cx="453.7" cy="480.1" r="1.8" fill-opacity="0.77"/><ellipse cx="455.0" cy="477.9" rx="2.6" ry="2.1" fill-opacity="0.77"/><circle cx="482.0" cy="473.4" r="2.9" fill-opacity="0.35"/><ellipse cx="481.4" cy="472.7" rx="2.7" ry="2.3" fill-opacity="0.35"/><ellipse cx="482.8" cy="472.1" rx="3.0" ry="2.8" fill-opacity="0.35"/><ellipse cx="450.2" cy="513.2" rx="2.4" ry="1.7" fill-opacity="0.68"/><circle cx="449.2" cy="514.5" r="1.9" fill-opacity="0.68"/><ellipse cx="446.9" cy="511.3" rx="1.7" ry="1.6" fill-opacity="0.68"/><ellipse cx="618.2" cy="463.4" rx="2.6" ry="2.4" fill-opacity="0.66"/><ellipse cx="619.3" cy="461.4" rx="3.0" ry="2.3" fill-opacity="0.66"/><ellipse cx="622.0" cy="460.0" rx="2.1" ry="1.9" fill-opacity="0.66"/><ellipse cx="619.7" cy="462.4" rx="2.6" ry="1.9" fill-opacity="0.66"/><ellipse cx="617.7" cy="459.1" rx="2.9" ry="2.3" fill-opacity="0.66"/><ellipse cx="650.7" cy="594.8" rx="2.9" ry="2.7" fill-opacity="0.51"/><ellipse cx="651.0" cy="595.4" rx="2.0" ry="1.8" fill-opacity="0.51"/><ellipse cx="651.8" cy="597.1" rx="2.6" ry="1.8" fill-opacity="0.51"/><ellipse cx="653.0" cy="595.3" rx="2.6" ry="1.9" fill-opacity="0.51"/><circle cx="603.0" cy="598.0" r="2.9" fill-opacity="0.48"/><ellipse cx="606.4" cy="599.6" rx="3.0" ry="2.7" fill-opacity="0.48"/><ellipse cx="604.0" cy="597.3" rx="1.7" ry="1.3" fill-opacity="0.48"/><ellipse cx="488.4" cy="510.3" rx="2.2" ry="1.6" fill-opacity="0.37"/><ellipse cx="488.6" cy="507.5" rx="2.2" ry="1.6" fill-opacity="0.37"/><ellipse cx="489.0" cy="507.5" rx="2.5" ry="2.1" fill-opacity="0.37"/><ellipse cx="437.5" cy="505.6" rx="2.4" ry="1.9" fill-opacity="0.66"/><ellipse cx="442.0" cy="508.7" rx="2.4" ry="2.0" fill-opacity="0.66"/><ellipse cx="440.0" cy="509.1" rx="2.8" ry="2.2" fill-opacity="0.66"/><circle cx="437.7" cy="507.6" r="2.8" fill-opacity="0.66"/><ellipse cx="656.3" cy="565.9" rx="2.9" ry="2.3" fill-opacity="0.56"/><ellipse cx="660.9" cy="565.6" rx="2.0" ry="1.7" fill-opacity="0.56"/><ellipse cx="662.9" cy="563.7" rx="1.8" ry="1.5" fill-opacity="0.56"/><ellipse cx="662.2" cy="566.1" rx="2.7" ry="2.1" fill-opacity="0.56"/><ellipse cx="526.6" cy="444.9" rx="2.2" ry="1.7" fill-opacity="0.84"/><ellipse cx="530.6" cy="444.7" rx="2.7" ry="2.1" fill-opacity="0.84"/><ellipse cx="531.9" cy="446.1" rx="2.3" ry="2.1" fill-opacity="0.84"/><ellipse cx="530.4" cy="446.7" rx="2.0" ry="1.6" fill-opacity="0.84"/><ellipse cx="529.4" cy="445.0" rx="1.8" ry="1.4" fill-opacity="0.84"/><ellipse cx="487.0" cy="532.4" rx="3.0" ry="2.1" fill-opacity="0.77"/><ellipse cx="488.3" cy="532.1" rx="2.9" ry="2.2" fill-opacity="0.77"/><ellipse cx="484.3" cy="533.2" rx="2.5" ry="1.8" fill-opacity="0.77"/><circle cx="638.7" cy="483.8" r="2.8" fill-opacity="0.72"/><ellipse cx="636.9" cy="482.7" rx="2.2" ry="2.1" fill-opacity="0.72"/><ellipse cx="641.1" cy="482.5" rx="2.3" ry="1.9" fill-opacity="0.72"/><circle cx="636.2" cy="480.5" r="1.9" fill-opacity="0.72"/><ellipse cx="510.5" cy="532.6" rx="2.2" ry="1.5" fill-opacity="0.61"/><ellipse cx="508.9" cy="533.4" rx="2.1" ry="1.5" fill-opacity="0.61"/><ellipse cx="505.9" cy="531.2" rx="2.3" ry="1.9" fill-opacity="0.61"/><ellipse cx="507.8" cy="533.1" rx="1.8" ry="1.4" fill-opacity="0.61"/><ellipse cx="506.4" cy="533.6" rx="2.2" ry="1.9" fill-opacity="0.61"/><ellipse cx="630.2" cy="502.3" rx="2.7" ry="2.4" fill-opacity="0.77"/><ellipse cx="625.2" cy="502.7" rx="2.1" ry="1.8" fill-opacity="0.77"/><ellipse cx="626.9" cy="501.3" rx="2.1" ry="1.5" fill-opacity="0.77"/><ellipse cx="629.2" cy="499.7" rx="2.3" ry="2.0" fill-opacity="0.77"/><ellipse cx="412.0" cy="528.7" rx="2.4" ry="1.7" fill-opacity="0.66"/><ellipse cx="415.6" cy="530.8" rx="2.5" ry="1.9" fill-opacity="0.66"/><ellipse cx="416.4" cy="529.6" rx="2.6" ry="2.4" fill-opacity="0.66"/><ellipse cx="571.0" cy="583.8" rx="2.9" ry="2.2" fill-opacity="0.53"/><circle cx="571.4" cy="582.6" r="2.1" fill-opacity="0.53"/><ellipse cx="571.1" cy="585.2" rx="2.6" ry="2.3" fill-opacity="0.53"/><ellipse cx="569.1" cy="583.8" rx="2.9" ry="2.5" fill-opacity="0.53"/><ellipse cx="592.7" cy="462.0" rx="2.1" ry="1.9" fill-opacity="0.36"/><ellipse cx="592.6" cy="465.0" rx="2.3" ry="1.7" fill-opacity="0.36"/><ellipse cx="593.7" cy="464.1" rx="2.5" ry="2.0" fill-opacity="0.36"/><ellipse cx="595.4" cy="465.6" rx="1.9" ry="1.3" fill-opacity="0.36"/><ellipse cx="591.7" cy="462.8" rx="2.1" ry="1.8" fill-opacity="0.36"/><ellipse cx="579.6" cy="549.4" rx="2.5" ry="2.2" fill-opacity="0.48"/><ellipse cx="580.3" cy="551.1" rx="2.4" ry="2.1" fill-opacity="0.48"/><circle cx="580.0" cy="551.0" r="2.9" fill-opacity="0.48"/><circle cx="581.5" cy="549.0" r="2.6" fill-opacity="0.48"/><ellipse cx="623.0" cy="564.7" rx="2.3" ry="1.7" fill-opacity="0.75"/><ellipse cx="623.2" cy="563.7" rx="1.8" ry="1.4" fill-opacity="0.75"/><ellipse cx="623.2" cy="563.3" rx="2.8" ry="2.6" fill-opacity="0.75"/><ellipse cx="624.8" cy="564.3" rx="2.3" ry="1.8" fill-opacity="0.75"/><ellipse cx="624.2" cy="562.9" rx="2.1" ry="1.5" fill-opacity="0.75"/><ellipse cx="629.4" cy="595.8" rx="2.4" ry="2.1" fill-opacity="0.48"/><ellipse cx="630.2" cy="597.7" rx="2.0" ry="1.8" fill-opacity="0.48"/><ellipse cx="630.6" cy="597.3" rx="2.5" ry="1.9" fill-opacity="0.48"/><ellipse cx="631.0" cy="595.7" rx="2.3" ry="2.0" fill-opacity="0.48"/><ellipse cx="631.0" cy="599.6" rx="2.6" ry="2.3" fill-opacity="0.48"/><ellipse cx="412.3" cy="558.8" rx="1.8" ry="1.5" fill-opacity="0.55"/><ellipse cx="415.5" cy="557.9" rx="2.7" ry="2.4" fill-opacity="0.55"/><circle cx="412.9" cy="559.3" r="2.4" fill-opacity="0.55"/><ellipse cx="415.4" cy="559.8" rx="2.4" ry="2.0" fill-opacity="0.55"/><ellipse cx="587.1" cy="496.6" rx="1.8" ry="1.3" fill-opacity="0.73"/><ellipse cx="586.9" cy="495.2" rx="2.1" ry="1.8" fill-opacity="0.73"/><circle cx="584.8" cy="497.4" r="2.6" fill-opacity="0.73"/><ellipse cx="439.3" cy="551.4" rx="2.5" ry="2.2" fill-opacity="0.80"/><ellipse cx="437.6" cy="550.8" rx="1.8" ry="1.6" fill-opacity="0.80"/><ellipse cx="440.9" cy="553.2" rx="2.6" ry="2.2" fill-opacity="0.80"/><ellipse cx="440.5" cy="549.2" rx="2.9" ry="2.7" fill-opacity="0.80"/><ellipse cx="438.9" cy="551.7" rx="2.5" ry="2.3" fill-opacity="0.80"/><ellipse cx="643.6" cy="476.5" rx="3.0" ry="2.7" fill-opacity="0.65"/><circle cx="646.8" cy="476.3" r="1.8" fill-opacity="0.65"/><circle cx="644.9" cy="478.4" r="2.7" fill-opacity="0.65"/><ellipse cx="645.4" cy="560.3" rx="1.9" ry="1.5" fill-opacity="0.50"/><ellipse cx="645.0" cy="561.3" rx="2.2" ry="1.9" fill-opacity="0.50"/><ellipse cx="644.4" cy="562.2" rx="2.8" ry="2.4" fill-opacity="0.50"/><ellipse cx="647.3" cy="559.9" rx="2.6" ry="2.0" fill-opacity="0.50"/><ellipse cx="549.7" cy="445.5" rx="2.7" ry="2.4" fill-opacity="0.50"/><ellipse cx="550.0" cy="443.3" rx="2.2" ry="1.7" fill-opacity="0.50"/><circle cx="550.1" cy="444.0" r="2.3" fill-opacity="0.50"/><ellipse cx="549.8" cy="442.4" rx="2.7" ry="2.0" fill-opacity="0.50"/><ellipse cx="448.6" cy="608.4" rx="2.7" ry="2.5" fill-opacity="0.53"/><ellipse cx="447.5" cy="609.3" rx="2.3" ry="2.1" fill-opacity="0.53"/><ellipse cx="450.8" cy="607.0" rx="2.4" ry="1.9" fill-opacity="0.53"/><ellipse cx="447.9" cy="610.4" rx="2.6" ry="2.4" fill-opacity="0.53"/><circle cx="619.0" cy="534.4" r="2.1" fill-opacity="0.64"/><ellipse cx="619.4" cy="534.8" rx="1.7" ry="1.6" fill-opacity="0.64"/><ellipse cx="620.1" cy="532.0" rx="2.7" ry="2.1" fill-opacity="0.64"/><ellipse cx="622.9" cy="532.8" rx="2.0" ry="1.7" fill-opacity="0.64"/><ellipse cx="617.7" cy="534.0" rx="2.8" ry="2.1" fill-opacity="0.64"/><circle cx="433.9" cy="597.5" r="2.2" fill-opacity="0.62"/><ellipse cx="432.9" cy="597.7" rx="3.0" ry="2.1" fill-opacity="0.62"/><circle cx="430.1" cy="596.8" r="2.3" fill-opacity="0.62"/><ellipse cx="414.6" cy="535.8" rx="2.0" ry="1.4" fill-opacity="0.72"/><circle cx="415.6" cy="535.8" r="2.5" fill-opacity="0.72"/><circle cx="415.2" cy="536.3" r="2.0" fill-opacity="0.72"/><ellipse cx="414.8" cy="534.4" rx="2.2" ry="2.0" fill-opacity="0.72"/><ellipse cx="414.5" cy="536.4" rx="2.6" ry="2.1" fill-opacity="0.72"/><ellipse cx="533.7" cy="468.2" rx="1.8" ry="1.5" fill-opacity="0.63"/><circle cx="536.9" cy="469.5" r="2.0" fill-opacity="0.63"/><circle cx="531.6" cy="467.6" r="3.0" fill-opacity="0.63"/><ellipse cx="535.3" cy="469.5" rx="2.9" ry="2.3" fill-opacity="0.63"/><ellipse cx="537.0" cy="590.9" rx="2.8" ry="2.0" fill-opacity="0.51"/><ellipse cx="537.1" cy="588.7" rx="2.7" ry="2.1" fill-opacity="0.51"/><ellipse cx="540.1" cy="590.2" rx="2.4" ry="2.1" fill-opacity="0.51"/><ellipse cx="536.8" cy="590.7" rx="3.0" ry="2.5" fill-opacity="0.51"/><ellipse cx="533.7" cy="589.4" rx="2.6" ry="2.0" fill-opacity="0.51"/><ellipse cx="637.9" cy="502.4" rx="2.8" ry="2.3" fill-opacity="0.66"/><ellipse cx="637.9" cy="499.1" rx="2.4" ry="1.9" fill-opacity="0.66"/><ellipse cx="639.1" cy="500.8" rx="2.2" ry="1.9" fill-opacity="0.66"/><circle cx="663.0" cy="592.0" r="2.0" fill-opacity="0.83"/><ellipse cx="666.0" cy="593.4" rx="2.8" ry="2.3" fill-opacity="0.83"/><circle cx="666.0" cy="590.8" r="2.0" fill-opacity="0.83"/><ellipse cx="662.0" cy="593.5" rx="2.0" ry="1.8" fill-opacity="0.83"/><ellipse cx="424.7" cy="580.2" rx="2.8" ry="2.4" fill-opacity="0.50"/><ellipse cx="427.4" cy="580.9" rx="2.2" ry="1.6" fill-opacity="0.50"/><ellipse cx="423.7" cy="578.6" rx="2.4" ry="1.9" fill-opacity="0.50"/><circle cx="422.3" cy="581.9" r="2.6" fill-opacity="0.50"/><ellipse cx="430.3" cy="549.2" rx="2.9" ry="2.3" fill-opacity="0.48"/><ellipse cx="429.1" cy="546.5" rx="2.9" ry="2.3" fill-opacity="0.48"/><ellipse cx="430.4" cy="548.9" rx="2.8" ry="2.2" fill-opacity="0.48"/><ellipse cx="491.7" cy="551.3" rx="2.5" ry="1.9" fill-opacity="0.45"/><ellipse cx="495.5" cy="551.3" rx="2.6" ry="2.0" fill-opacity="0.45"/><ellipse cx="495.9" cy="552.1" rx="2.5" ry="2.0" fill-opacity="0.45"/><circle cx="456.9" cy="521.3" r="2.6" fill-opacity="0.76"/><circle cx="457.6" cy="520.7" r="2.8" fill-opacity="0.76"/><circle cx="457.8" cy="521.6" r="2.1" fill-opacity="0.76"/><ellipse cx="454.8" cy="521.4" rx="2.9" ry="2.8" fill-opacity="0.76"/><ellipse cx="522.7" cy="579.5" rx="1.8" ry="1.3" fill-opacity="0.45"/><ellipse cx="525.5" cy="578.2" rx="1.9" ry="1.3" fill-opacity="0.45"/><ellipse cx="522.6" cy="579.7" rx="3.0" ry="2.6" fill-opacity="0.45"/><circle cx="520.4" cy="578.9" r="2.7" fill-opacity="0.45"/><ellipse cx="524.8" cy="581.2" rx="2.6" ry="1.8" fill-opacity="0.45"/><ellipse cx="469.6" cy="471.4" rx="2.4" ry="1.7" fill-opacity="0.82"/><circle cx="466.3" cy="470.9" r="2.6" fill-opacity="0.82"/><ellipse cx="467.9" cy="469.1" rx="2.7" ry="2.1" fill-opacity="0.82"/><ellipse cx="464.8" cy="470.6" rx="1.9" ry="1.5" fill-opacity="0.82"/><ellipse cx="465.9" cy="473.2" rx="1.9" ry="1.6" fill-opacity="0.82"/><circle cx="590.2" cy="601.8" r="2.2" fill-opacity="0.80"/><ellipse cx="588.8" cy="602.4" rx="1.7" ry="1.4" fill-opacity="0.80"/><ellipse cx="590.3" cy="601.2" rx="2.6" ry="2.0" fill-opacity="0.80"/><ellipse cx="590.4" cy="600.4" rx="2.2" ry="1.8" fill-opacity="0.80"/><ellipse cx="590.3" cy="600.8" rx="2.0" ry="1.5" fill-opacity="0.80"/><ellipse cx="530.5" cy="503.8" rx="2.1" ry="1.6" fill-opacity="0.54"/><ellipse cx="531.0" cy="500.9" rx="2.0" ry="1.7" fill-opacity="0.54"/><ellipse cx="532.9" cy="503.8" rx="2.8" ry="2.6" fill-opacity="0.54"/><ellipse cx="530.1" cy="500.9" rx="1.8" ry="1.5" fill-opacity="0.54"/><ellipse cx="561.3" cy="611.7" rx="2.6" ry="2.4" fill-opacity="0.66"/><ellipse cx="563.1" cy="609.0" rx="1.8" ry="1.5" fill-opacity="0.66"/><ellipse cx="564.7" cy="612.0" rx="2.3" ry="1.8" fill-opacity="0.66"/><ellipse cx="564.0" cy="609.8" rx="2.8" ry="2.0" fill-opacity="0.66"/><ellipse cx="494.5" cy="473.6" rx="1.9" ry="1.4" fill-opacity="0.76"/><circle cx="497.2" cy="474.4" r="1.9" fill-opacity="0.76"/><ellipse cx="497.8" cy="473.7" rx="2.6" ry="2.3" fill-opacity="0.76"/><ellipse cx="501.2" cy="473.1" rx="3.0" ry="2.2" fill-opacity="0.76"/><circle cx="496.0" cy="472.8" r="2.1" fill-opacity="0.76"/><ellipse cx="581.6" cy="573.3" rx="2.2" ry="1.8" fill-opacity="0.82"/><ellipse cx="580.4" cy="573.7" rx="2.2" ry="1.6" fill-opacity="0.82"/><circle cx="580.5" cy="574.3" r="1.8" fill-opacity="0.82"/><ellipse cx="582.0" cy="572.0" rx="1.9" ry="1.6" fill-opacity="0.82"/><ellipse cx="582.5" cy="573.9" rx="1.9" ry="1.3" fill-opacity="0.82"/><ellipse cx="456.9" cy="614.1" rx="2.0" ry="1.5" fill-opacity="0.62"/><ellipse cx="456.1" cy="612.6" rx="2.9" ry="2.1" fill-opacity="0.62"/><ellipse cx="454.6" cy="613.9" rx="2.9" ry="2.5" fill-opacity="0.62"/><ellipse cx="454.9" cy="612.7" rx="1.8" ry="1.4" fill-opacity="0.62"/><ellipse cx="548.7" cy="537.1" rx="1.8" ry="1.4" fill-opacity="0.56"/><ellipse cx="545.5" cy="535.4" rx="2.2" ry="1.6" fill-opacity="0.56"/><ellipse cx="547.5" cy="537.8" rx="2.0" ry="1.5" fill-opacity="0.56"/><ellipse cx="547.5" cy="538.3" rx="2.8" ry="2.1" fill-opacity="0.56"/><ellipse cx="547.5" cy="537.6" rx="2.6" ry="2.2" fill-opacity="0.56"/><ellipse cx="595.1" cy="572.5" rx="2.1" ry="1.8" fill-opacity="0.62"/><ellipse cx="590.7" cy="576.1" rx="1.7" ry="1.2" fill-opacity="0.62"/><ellipse cx="589.2" cy="574.8" rx="3.0" ry="2.4" fill-opacity="0.62"/><circle cx="591.6" cy="574.3" r="2.6" fill-opacity="0.62"/><circle cx="459.8" cy="501.3" r="3.0" fill-opacity="0.76"/><ellipse cx="459.0" cy="502.3" rx="2.6" ry="2.2" fill-opacity="0.76"/><circle cx="464.4" cy="499.5" r="3.0" fill-opacity="0.76"/><ellipse cx="460.5" cy="501.0" rx="2.2" ry="1.6" fill-opacity="0.76"/><ellipse cx="463.5" cy="499.3" rx="2.9" ry="2.6" fill-opacity="0.76"/><ellipse cx="570.5" cy="483.6" rx="2.5" ry="2.3" fill-opacity="0.44"/><circle cx="569.5" cy="483.3" r="2.5" fill-opacity="0.44"/><ellipse cx="568.6" cy="485.6" rx="2.7" ry="2.4" fill-opacity="0.44"/><ellipse cx="571.9" cy="486.1" rx="1.9" ry="1.4" fill-opacity="0.44"/><ellipse cx="571.7" cy="483.7" rx="2.3" ry="2.0" fill-opacity="0.44"/><ellipse cx="455.6" cy="469.4" rx="2.3" ry="1.8" fill-opacity="0.83"/><ellipse cx="459.0" cy="469.5" rx="2.9" ry="2.3" fill-opacity="0.83"/><ellipse cx="462.2" cy="468.9" rx="2.5" ry="2.3" fill-opacity="0.83"/><ellipse cx="458.6" cy="469.6" rx="2.8" ry="2.5" fill-opacity="0.83"/><ellipse cx="593.7" cy="541.1" rx="2.7" ry="2.2" fill-opacity="0.65"/><ellipse cx="591.5" cy="542.4" rx="2.5" ry="2.2" fill-opacity="0.65"/><ellipse cx="593.3" cy="540.4" rx="1.7" ry="1.2" fill-opacity="0.65"/><circle cx="596.1" cy="541.8" r="1.8" fill-opacity="0.65"/><ellipse cx="653.0" cy="477.6" rx="2.6" ry="2.3" fill-opacity="0.44"/><ellipse cx="652.5" cy="479.8" rx="2.5" ry="2.3" fill-opacity="0.44"/><ellipse cx="656.1" cy="477.6" rx="2.5" ry="2.1" fill-opacity="0.44"/><ellipse cx="495.6" cy="481.4" rx="2.8" ry="2.5" fill-opacity="0.78"/><ellipse cx="494.9" cy="482.7" rx="1.8" ry="1.4" fill-opacity="0.78"/><circle cx="498.1" cy="480.4" r="2.6" fill-opacity="0.78"/><ellipse cx="465.9" cy="603.1" rx="2.4" ry="1.7" fill-opacity="0.76"/><ellipse cx="469.8" cy="599.5" rx="2.1" ry="1.5" fill-opacity="0.76"/><ellipse cx="469.4" cy="600.9" rx="2.1" ry="1.6" fill-opacity="0.76"/><ellipse cx="468.2" cy="601.3" rx="2.6" ry="2.1" fill-opacity="0.76"/><ellipse cx="470.9" cy="599.0" rx="2.1" ry="1.6" fill-opacity="0.76"/><ellipse cx="546.8" cy="519.4" rx="2.2" ry="1.7" fill-opacity="0.56"/><circle cx="539.6" cy="518.4" r="2.3" fill-opacity="0.56"/><ellipse cx="542.5" cy="518.2" rx="2.7" ry="2.3" fill-opacity="0.56"/><ellipse cx="543.1" cy="519.6" rx="2.6" ry="2.0" fill-opacity="0.56"/><ellipse cx="515.7" cy="549.4" rx="2.5" ry="2.1" fill-opacity="0.82"/><ellipse cx="512.3" cy="550.0" rx="2.7" ry="2.0" fill-opacity="0.82"/><ellipse cx="513.3" cy="550.3" rx="2.6" ry="2.1" fill-opacity="0.82"/><ellipse cx="556.2" cy="458.1" rx="2.2" ry="1.9" fill-opacity="0.62"/><ellipse cx="556.8" cy="454.5" rx="3.0" ry="2.8" fill-opacity="0.62"/><ellipse cx="554.9" cy="454.5" rx="2.4" ry="2.2" fill-opacity="0.62"/><ellipse cx="553.1" cy="455.7" rx="2.6" ry="2.3" fill-opacity="0.62"/><circle cx="556.9" cy="454.3" r="1.7" fill-opacity="0.62"/><ellipse cx="442.1" cy="443.6" rx="2.4" ry="2.0" fill-opacity="0.59"/><ellipse cx="444.1" cy="442.9" rx="2.0" ry="1.7" fill-opacity="0.59"/><ellipse cx="439.2" cy="443.1" rx="2.9" ry="2.2" fill-opacity="0.59"/><ellipse cx="624.7" cy="607.8" rx="2.6" ry="1.9" fill-opacity="0.71"/><ellipse cx="622.1" cy="608.4" rx="1.8" ry="1.5" fill-opacity="0.71"/><ellipse cx="619.0" cy="609.7" rx="2.8" ry="2.3" fill-opacity="0.71"/><ellipse cx="529.4" cy="560.0" rx="1.8" ry="1.6" fill-opacity="0.59"/><ellipse cx="529.9" cy="562.4" rx="2.0" ry="1.4" fill-opacity="0.59"/><ellipse cx="531.8" cy="559.6" rx="1.9" ry="1.3" fill-opacity="0.59"/><circle cx="529.0" cy="558.3" r="2.0" fill-opacity="0.59"/><ellipse cx="622.4" cy="496.0" rx="2.5" ry="2.1" fill-opacity="0.37"/><ellipse cx="620.6" cy="498.0" rx="2.7" ry="2.2" fill-opacity="0.37"/><ellipse cx="618.1" cy="498.7" rx="2.1" ry="1.7" fill-opacity="0.37"/><ellipse cx="620.5" cy="497.4" rx="2.0" ry="1.4" fill-opacity="0.37"/><ellipse cx="620.3" cy="497.6" rx="2.3" ry="2.1" fill-opacity="0.37"/><ellipse cx="436.8" cy="587.3" rx="2.8" ry="2.2" fill-opacity="0.35"/><ellipse cx="438.1" cy="588.2" rx="2.5" ry="1.8" fill-opacity="0.35"/><ellipse cx="436.5" cy="590.2" rx="2.6" ry="2.4" fill-opacity="0.35"/><ellipse cx="437.8" cy="588.8" rx="1.9" ry="1.6" fill-opacity="0.35"/><ellipse cx="434.8" cy="586.6" rx="1.8" ry="1.6" fill-opacity="0.35"/><ellipse cx="666.9" cy="474.9" rx="2.5" ry="2.2" fill-opacity="0.50"/><ellipse cx="664.9" cy="474.8" rx="3.0" ry="2.3" fill-opacity="0.50"/><ellipse cx="668.5" cy="474.6" rx="2.0" ry="1.5" fill-opacity="0.50"/><ellipse cx="671.4" cy="475.8" rx="1.8" ry="1.5" fill-opacity="0.50"/><ellipse cx="541.6" cy="504.6" rx="2.1" ry="1.8" fill-opacity="0.45"/><ellipse cx="545.6" cy="505.4" rx="2.4" ry="1.7" fill-opacity="0.45"/><ellipse cx="542.4" cy="503.6" rx="2.4" ry="1.9" fill-opacity="0.45"/><circle cx="546.8" cy="503.0" r="2.6" fill-opacity="0.45"/><ellipse cx="543.7" cy="505.3" rx="2.5" ry="2.2" fill-opacity="0.45"/><ellipse cx="413.8" cy="596.9" rx="1.9" ry="1.4" fill-opacity="0.68"/><ellipse cx="408.9" cy="598.8" rx="2.3" ry="1.7" fill-opacity="0.68"/><ellipse cx="412.9" cy="597.7" rx="2.7" ry="2.1" fill-opacity="0.68"/><ellipse cx="411.6" cy="598.0" rx="2.4" ry="1.8" fill-opacity="0.68"/><ellipse cx="455.2" cy="493.8" rx="2.6" ry="1.8" fill-opacity="0.42"/><ellipse cx="457.4" cy="492.1" rx="2.7" ry="2.3" fill-opacity="0.42"/><circle cx="457.8" cy="492.4" r="1.8" fill-opacity="0.42"/><ellipse cx="571.5" cy="446.3" rx="2.1" ry="1.7" fill-opacity="0.57"/><ellipse cx="570.9" cy="449.7" rx="2.6" ry="2.4" fill-opacity="0.57"/><ellipse cx="573.0" cy="447.1" rx="2.3" ry="1.9" fill-opacity="0.57"/><ellipse cx="573.0" cy="449.1" rx="1.9" ry="1.3" fill-opacity="0.57"/><ellipse cx="575.1" cy="446.6" rx="2.0" ry="1.7" fill-opacity="0.57"/><circle cx="560.3" cy="590.5" r="2.6" fill-opacity="0.40"/><ellipse cx="561.2" cy="589.4" rx="2.3" ry="1.8" fill-opacity="0.40"/><ellipse cx="563.0" cy="587.0" rx="1.9" ry="1.5" fill-opacity="0.40"/><circle cx="561.7" cy="588.6" r="2.1" fill-opacity="0.40"/><ellipse cx="558.6" cy="590.0" rx="2.0" ry="1.6" fill-opacity="0.40"/><ellipse cx="407.6" cy="469.0" rx="2.9" ry="2.5" fill-opacity="0.50"/><ellipse cx="410.4" cy="466.9" rx="2.9" ry="2.5" fill-opacity="0.50"/><ellipse cx="405.8" cy="467.8" rx="2.6" ry="2.1" fill-opacity="0.50"/><ellipse cx="591.5" cy="488.0" rx="2.7" ry="2.0" fill-opacity="0.82"/><ellipse cx="591.7" cy="488.0" rx="2.7" ry="2.3" fill-opacity="0.82"/><ellipse cx="591.4" cy="489.7" rx="2.3" ry="2.0" fill-opacity="0.82"/><ellipse cx="588.1" cy="486.7" rx="2.5" ry="2.0" fill-opacity="0.82"/><circle cx="408.4" cy="603.3" r="2.5" fill-opacity="0.43"/><ellipse cx="404.7" cy="602.8" rx="2.3" ry="1.7" fill-opacity="0.43"/><ellipse cx="406.3" cy="603.2" rx="2.1" ry="1.8" fill-opacity="0.43"/><ellipse cx="553.2" cy="491.6" rx="2.1" ry="1.9" fill-opacity="0.84"/><ellipse cx="552.6" cy="493.4" rx="2.6" ry="2.2" fill-opacity="0.84"/><ellipse cx="551.6" cy="493.0" rx="1.7" ry="1.5" fill-opacity="0.84"/><circle cx="518.3" cy="570.2" r="1.8" fill-opacity="0.72"/><circle cx="521.9" cy="569.5" r="3.0" fill-opacity="0.72"/><ellipse cx="520.3" cy="570.2" rx="2.8" ry="2.0" fill-opacity="0.72"/><ellipse cx="519.7" cy="568.9" rx="2.4" ry="1.7" fill-opacity="0.72"/><ellipse cx="467.7" cy="485.8" rx="2.4" ry="1.7" fill-opacity="0.74"/><ellipse cx="468.9" cy="486.9" rx="2.2" ry="1.9" fill-opacity="0.74"/><ellipse cx="472.8" cy="486.2" rx="2.7" ry="2.2" fill-opacity="0.74"/><ellipse cx="646.5" cy="450.9" rx="2.7" ry="2.0" fill-opacity="0.76"/><ellipse cx="651.6" cy="449.7" rx="1.9" ry="1.7" fill-opacity="0.76"/><ellipse cx="654.2" cy="450.9" rx="2.8" ry="2.6" fill-opacity="0.76"/><circle cx="553.5" cy="578.7" r="2.0" fill-opacity="0.53"/><circle cx="555.3" cy="579.7" r="2.5" fill-opacity="0.53"/><ellipse cx="553.4" cy="579.2" rx="2.6" ry="2.1" fill-opacity="0.53"/><ellipse cx="554.9" cy="579.0" rx="2.6" ry="1.9" fill-opacity="0.53"/><ellipse cx="557.9" cy="581.5" rx="2.3" ry="1.6" fill-opacity="0.53"/><ellipse cx="595.4" cy="588.6" rx="2.7" ry="2.2" fill-opacity="0.77"/><ellipse cx="595.3" cy="588.2" rx="2.8" ry="2.5" fill-opacity="0.77"/><ellipse cx="594.3" cy="589.1" rx="2.4" ry="1.9" fill-opacity="0.77"/><ellipse cx="415.9" cy="447.5" rx="1.8" ry="1.5" fill-opacity="0.51"/><ellipse cx="418.4" cy="448.8" rx="2.4" ry="2.2" fill-opacity="0.51"/><ellipse cx="419.2" cy="446.1" rx="2.0" ry="1.5" fill-opacity="0.51"/><ellipse cx="415.6" cy="446.5" rx="2.9" ry="2.6" fill-opacity="0.51"/><ellipse cx="418.1" cy="447.2" rx="2.2" ry="1.7" fill-opacity="0.51"/><ellipse cx="626.8" cy="471.9" rx="2.5" ry="1.7" fill-opacity="0.83"/><ellipse cx="632.6" cy="470.4" rx="1.8" ry="1.3" fill-opacity="0.83"/><circle cx="631.7" cy="470.9" r="1.9" fill-opacity="0.83"/><ellipse cx="629.9" cy="474.1" rx="2.4" ry="2.1" fill-opacity="0.83"/><circle cx="630.6" cy="471.4" r="2.5" fill-opacity="0.83"/><ellipse cx="598.5" cy="441.5" rx="2.0" ry="1.7" fill-opacity="0.78"/><ellipse cx="598.8" cy="441.7" rx="2.4" ry="2.0" fill-opacity="0.78"/><ellipse cx="597.7" cy="442.5" rx="2.4" ry="1.7" fill-opacity="0.78"/><circle cx="597.7" cy="441.7" r="1.7" fill-opacity="0.78"/><ellipse cx="593.8" cy="442.2" rx="2.0" ry="1.6" fill-opacity="0.78"/><ellipse cx="618.4" cy="478.5" rx="2.0" ry="1.4" fill-opacity="0.55"/><ellipse cx="619.3" cy="479.5" rx="2.7" ry="2.2" fill-opacity="0.55"/><ellipse cx="621.2" cy="478.3" rx="2.2" ry="1.7" fill-opacity="0.55"/><ellipse cx="619.4" cy="478.4" rx="2.1" ry="1.7" fill-opacity="0.55"/><ellipse cx="618.5" cy="478.2" rx="2.9" ry="2.6" fill-opacity="0.55"/><ellipse cx="631.6" cy="534.7" rx="2.8" ry="2.4" fill-opacity="0.50"/><ellipse cx="630.9" cy="533.4" rx="2.5" ry="2.3" fill-opacity="0.50"/><ellipse cx="630.0" cy="534.8" rx="2.3" ry="1.7" fill-opacity="0.50"/><ellipse cx="632.7" cy="532.9" rx="2.6" ry="2.1" fill-opacity="0.50"/><ellipse cx="515.3" cy="579.1" rx="2.5" ry="1.9" fill-opacity="0.65"/><ellipse cx="513.8" cy="582.6" rx="2.7" ry="2.1" fill-opacity="0.65"/><circle cx="516.5" cy="578.3" r="2.3" fill-opacity="0.65"/><circle cx="410.5" cy="448.4" r="1.7" fill-opacity="0.62"/><ellipse cx="411.7" cy="445.9" rx="2.3" ry="1.8" fill-opacity="0.62"/><ellipse cx="410.1" cy="449.9" rx="2.7" ry="2.0" fill-opacity="0.62"/><ellipse cx="410.1" cy="447.7" rx="2.1" ry="1.7" fill-opacity="0.62"/><circle cx="407.2" cy="448.2" r="2.1" fill-opacity="0.62"/><ellipse cx="419.9" cy="569.4" rx="2.8" ry="2.0" fill-opacity="0.56"/><circle cx="418.6" cy="570.7" r="1.7" fill-opacity="0.56"/><ellipse cx="422.2" cy="571.7" rx="2.1" ry="1.6" fill-opacity="0.56"/><ellipse cx="418.7" cy="570.7" rx="2.9" ry="2.5" fill-opacity="0.56"/><circle cx="568.4" cy="560.4" r="2.1" fill-opacity="0.45"/><circle cx="570.8" cy="559.4" r="2.8" fill-opacity="0.45"/><ellipse cx="569.2" cy="559.4" rx="2.5" ry="2.2" fill-opacity="0.45"/><circle cx="571.4" cy="558.6" r="2.6" fill-opacity="0.45"/><circle cx="566.3" cy="560.3" r="2.0" fill-opacity="0.45"/><circle cx="436.7" cy="471.8" r="2.9" fill-opacity="0.46"/><ellipse cx="438.7" cy="470.6" rx="2.1" ry="1.8" fill-opacity="0.46"/><ellipse cx="437.5" cy="471.9" rx="1.9" ry="1.7" fill-opacity="0.46"/><ellipse cx="498.8" cy="531.1" rx="1.8" ry="1.3" fill-opacity="0.59"/><ellipse cx="499.2" cy="531.0" rx="2.4" ry="2.1" fill-opacity="0.59"/><ellipse cx="499.6" cy="530.8" rx="1.9" ry="1.6" fill-opacity="0.59"/><ellipse cx="552.0" cy="463.2" rx="3.0" ry="2.3" fill-opacity="0.63"/><ellipse cx="555.7" cy="464.2" rx="2.7" ry="2.5" fill-opacity="0.63"/><ellipse cx="556.1" cy="463.1" rx="2.7" ry="2.2" fill-opacity="0.63"/><ellipse cx="556.0" cy="463.0" rx="2.2" ry="2.0" fill-opacity="0.63"/><ellipse cx="556.5" cy="571.1" rx="1.7" ry="1.3" fill-opacity="0.57"/><ellipse cx="557.1" cy="572.8" rx="2.0" ry="1.7" fill-opacity="0.57"/><ellipse cx="557.5" cy="569.9" rx="2.7" ry="2.0" fill-opacity="0.57"/><ellipse cx="554.8" cy="569.6" rx="3.0" ry="2.5" fill-opacity="0.57"/><ellipse cx="554.7" cy="569.5" rx="2.0" ry="1.8" fill-opacity="0.57"/><ellipse cx="547.4" cy="593.8" rx="2.1" ry="1.7" fill-opacity="0.44"/><ellipse cx="546.6" cy="591.0" rx="2.2" ry="1.8" fill-opacity="0.44"/><ellipse cx="543.2" cy="593.5" rx="2.2" ry="1.9" fill-opacity="0.44"/><ellipse cx="547.0" cy="593.1" rx="2.0" ry="1.8" fill-opacity="0.44"/><ellipse cx="414.1" cy="546.7" rx="2.5" ry="2.1" fill-opacity="0.48"/><circle cx="411.5" cy="546.8" r="2.8" fill-opacity="0.48"/><ellipse cx="411.8" cy="546.4" rx="1.9" ry="1.5" fill-opacity="0.48"/><circle cx="414.6" cy="544.6" r="1.9" fill-opacity="0.48"/><circle cx="417.7" cy="547.6" r="1.7" fill-opacity="0.48"/><ellipse cx="620.3" cy="444.3" rx="1.7" ry="1.4" fill-opacity="0.84"/><ellipse cx="616.2" cy="445.1" rx="2.7" ry="2.0" fill-opacity="0.84"/><ellipse cx="617.2" cy="444.7" rx="2.5" ry="2.1" fill-opacity="0.84"/><ellipse cx="530.2" cy="585.5" rx="1.8" ry="1.3" fill-opacity="0.46"/><ellipse cx="529.5" cy="585.5" rx="2.2" ry="1.6" fill-opacity="0.46"/><ellipse cx="529.0" cy="585.9" rx="2.0" ry="1.6" fill-opacity="0.46"/><ellipse cx="533.4" cy="585.5" rx="1.9" ry="1.4" fill-opacity="0.46"/><ellipse cx="530.3" cy="585.7" rx="2.5" ry="2.2" fill-opacity="0.46"/><circle cx="655.0" cy="568.5" r="1.7" fill-opacity="0.76"/><ellipse cx="653.9" cy="569.0" rx="2.6" ry="2.0" fill-opacity="0.76"/><ellipse cx="652.1" cy="567.6" rx="2.7" ry="2.0" fill-opacity="0.76"/><ellipse cx="652.9" cy="568.0" rx="2.7" ry="2.3" fill-opacity="0.76"/><circle cx="475.3" cy="600.6" r="2.7" fill-opacity="0.73"/><ellipse cx="474.0" cy="600.4" rx="2.5" ry="2.3" fill-opacity="0.73"/><ellipse cx="479.8" cy="601.1" rx="2.3" ry="1.7" fill-opacity="0.73"/><ellipse cx="478.8" cy="602.3" rx="2.6" ry="2.0" fill-opacity="0.73"/><circle cx="474.6" cy="598.5" r="1.8" fill-opacity="0.73"/><ellipse cx="666.5" cy="486.0" rx="2.3" ry="1.8" fill-opacity="0.42"/><ellipse cx="664.5" cy="485.7" rx="1.9" ry="1.7" fill-opacity="0.42"/><circle cx="667.1" cy="486.4" r="1.8" fill-opacity="0.42"/><ellipse cx="666.4" cy="486.0" rx="2.8" ry="2.3" fill-opacity="0.42"/><ellipse cx="670.5" cy="485.2" rx="2.4" ry="1.9" fill-opacity="0.42"/><circle cx="497.0" cy="603.4" r="2.3" fill-opacity="0.83"/><ellipse cx="496.1" cy="605.6" rx="2.3" ry="2.0" fill-opacity="0.83"/><ellipse cx="497.6" cy="601.7" rx="2.3" ry="2.1" fill-opacity="0.83"/><ellipse cx="536.8" cy="483.7" rx="2.6" ry="1.9" fill-opacity="0.44"/><circle cx="536.0" cy="481.1" r="2.2" fill-opacity="0.44"/><ellipse cx="534.9" cy="483.7" rx="2.1" ry="1.7" fill-opacity="0.44"/><ellipse cx="536.4" cy="482.6" rx="2.3" ry="2.2" fill-opacity="0.44"/><ellipse cx="536.1" cy="482.6" rx="2.0" ry="1.8" fill-opacity="0.44"/><ellipse cx="651.0" cy="491.2" rx="2.9" ry="2.5" fill-opacity="0.47"/><circle cx="647.8" cy="490.1" r="2.4" fill-opacity="0.47"/><circle cx="651.8" cy="491.0" r="2.8" fill-opacity="0.47"/><circle cx="650.4" cy="491.1" r="2.5" fill-opacity="0.47"/><ellipse cx="617.6" cy="468.5" rx="2.8" ry="2.6" fill-opacity="0.51"/><ellipse cx="614.7" cy="468.2" rx="2.9" ry="2.1" fill-opacity="0.51"/><ellipse cx="611.7" cy="468.2" rx="2.2" ry="2.0" fill-opacity="0.51"/><ellipse cx="614.4" cy="470.5" rx="2.5" ry="2.3" fill-opacity="0.51"/></g><g fill="#3a2a1a" fill-opacity=".7" filter="url(#bl05)"><circle cx="410.8" cy="601.8" r="1.0"/><circle cx="408.9" cy="592.2" r="0.7"/><circle cx="408.5" cy="561.7" r="1.1"/><circle cx="409.5" cy="450.9" r="1.3"/><circle cx="409.8" cy="493.7" r="0.8"/><circle cx="409.3" cy="526.3" r="1.3"/><circle cx="409.3" cy="591.6" r="0.8"/><circle cx="409.8" cy="455.3" r="1.0"/><circle cx="409.3" cy="467.1" r="1.2"/><circle cx="409.2" cy="451.3" r="1.0"/><circle cx="408.1" cy="578.4" r="0.7"/><circle cx="409.0" cy="603.1" r="0.7"/><circle cx="408.8" cy="481.8" r="1.2"/><circle cx="409.2" cy="446.7" r="1.2"/><circle cx="410.4" cy="592.7" r="1.0"/><circle cx="410.3" cy="539.1" r="0.6"/><circle cx="409.6" cy="563.1" r="1.1"/><circle cx="410.2" cy="550.4" r="0.8"/><circle cx="409.6" cy="521.4" r="0.6"/><circle cx="410.2" cy="479.8" r="0.8"/><circle cx="408.4" cy="502.7" r="1.1"/><circle cx="409.0" cy="525.8" r="0.6"/><circle cx="409.7" cy="535.9" r="1.1"/><circle cx="410.3" cy="596.7" r="1.0"/><circle cx="409.6" cy="559.9" r="0.6"/><circle cx="410.5" cy="481.1" r="1.0"/><circle cx="409.9" cy="598.8" r="1.2"/><circle cx="409.3" cy="513.3" r="1.3"/><circle cx="410.1" cy="481.1" r="1.2"/><circle cx="409.9" cy="520.8" r="1.3"/><circle cx="410.0" cy="459.1" r="1.2"/><circle cx="409.9" cy="554.0" r="0.7"/><circle cx="408.5" cy="507.5" r="1.1"/><circle cx="408.8" cy="446.2" r="0.8"/><circle cx="408.5" cy="470.5" r="1.2"/><circle cx="409.3" cy="557.8" r="0.8"/><circle cx="411.0" cy="441.7" r="0.7"/><circle cx="408.3" cy="597.1" r="1.1"/><circle cx="410.5" cy="584.7" r="0.7"/><circle cx="410.7" cy="532.8" r="1.1"/></g></g><rect x="407.3" y="442.4" width="260.70000000000005" height="174.10000000000005" fill="none" stroke="#111" stroke-width="1.4"/></g>
<g stroke="#111" fill="none" stroke-linecap="butt">
<g><path d="M262.2 417.1H310.3" stroke-width="1.5"/><path d="M267.4 611.3H315.3" stroke-width="1.5"/><path d="M616.1 417H664" stroke-width="1.5"/><path d="M618.1 608.7H665.6" stroke-width="1.5"/></g>
</g>
<g fill="#1c1c1c" class="tx"><text x="262.2" y="412.6" font-size="13.5">200 µm</text><text x="267.4" y="606.4" font-size="13.5">200 µm</text><text x="615.8" y="412.4" font-size="13.5">200 µm</text><text x="617.6" y="604.6" font-size="13.5">200 µm</text><text transform="translate(23.2,377.8) rotate(-90)" font-size="19.5">Defeated</text><text transform="translate(47.7,398.5) rotate(-90)" font-size="19.5">male wild-type</text><text transform="translate(23.5,579.2) rotate(-90)" font-size="19.5">Defeated</text><text transform="translate(47.6,591.8) rotate(-90)" font-size="19.5">male S1PR3</text><text transform="translate(34.8,480.4) rotate(-90)" font-size="13">GRE-/GRE-</text><text transform="translate(373.3,397.0) rotate(-90)" font-size="19.5">Non-defeated</text><text transform="translate(398.0,398.3) rotate(-90)" font-size="19.5">male S1PR3</text><text transform="translate(388.3,288.4) rotate(-90)" font-size="13">GRE-/GRE-</text><text transform="translate(373.2,579.6) rotate(-90)" font-size="19.5">Defeated</text><text transform="translate(398.0,599.3) rotate(-90)" font-size="19.5">female S1PR3</text><text transform="translate(381.0,480.4) rotate(-90)" font-size="13">GRE-/GRE-</text></g>
<g id="charts" stroke="#111" fill="none"><text x="3.6" y="15.5" font-weight="bold" font-size="18.5">a</text><circle cx="74.8" cy="11.3" r="2.7" stroke="#4cb4ea" class="o"/><text x="81.6" y="14.9">Male No Defeat</text><rect x="71.7" y="23.8" width="6.2" height="6.2" fill="#a5a5a5" class="s"/><rect x="73.0" y="25.1" width="3.5" height="3.5" fill="#4cb4ea" class="s"/><text x="81.6" y="30.5">Male Defeat</text><circle cx="199.3" cy="11.3" r="2.7" stroke="#e2379a" class="o"/><text x="206.10000000000002" y="14.9">Female No Defeat</text><rect x="196.2" y="23.8" width="6.2" height="6.2" fill="#a5a5a5" class="s"/><rect x="197.6" y="25.1" width="3.5" height="3.5" fill="#e2379a" class="s"/><text x="206.10000000000002" y="30.5">Female Defeat</text><path d="M52 31.5V205.6H314.3" stroke-width="1.6" fill="none"/><path d="M44.7 31.5H52" stroke-width="1.6" fill="none"/><text x="44.3" y="36.2" text-anchor="end">200</text><path d="M44.7 89.5H52" stroke-width="1.6" fill="none"/><text x="44.3" y="94.2" text-anchor="end">150</text><path d="M44.7 147.6H52" stroke-width="1.6" fill="none"/><text x="44.3" y="152.3" text-anchor="end">100</text><path d="M44.7 205.6H52" stroke-width="1.6" fill="none"/><text x="44.3" y="210.3" text-anchor="end">50</text><path d="M58.2 210.6H177.5M184.5 210.6H304.3" stroke-width="1.6" fill="none"/><text x="91.2" y="229.8" font-size="13.8">Wild-type</text><text x="211.6" y="229.8" font-size="13.8">S1PR3<tspan font-size="10.1" dx="0.4" dy="-7.4">GRE-/GRE-</tspan></text><text x="62.0" y="190.6">Sex p = 0.0227</text><text transform="translate(15.8,116.3) rotate(-90)" text-anchor="middle">Number of microglia/mm<tspan font-size="10" dx="1.5" dy="-7.5">2</tspan><tspan dy="7.5"> in PL</tspan></text><circle cx="66.1" cy="96.8" r="2.7" stroke="#4cb4ea" class="o"/><circle cx="71.8" cy="102.3" r="2.7" stroke="#4cb4ea" class="o"/><circle cx="77.8" cy="101.4" r="2.7" stroke="#4cb4ea" class="o"/><circle cx="62.9" cy="111.5" r="2.7" stroke="#4cb4ea" class="o"/><circle cx="71.8" cy="112.3" r="2.7" stroke="#4cb4ea" class="o"/><circle cx="80.8" cy="111.0" r="2.7" stroke="#4cb4ea" class="o"/><circle cx="65.5" cy="115.4" r="2.7" stroke="#4cb4ea" class="o"/><circle cx="78.2" cy="115.4" r="2.7" stroke="#4cb4ea" class="o"/><circle cx="65.3" cy="125.0" r="2.7" stroke="#4cb4ea" class="o"/><circle cx="69.0" cy="126.8" r="2.7" stroke="#4cb4ea" class="o"/><circle cx="76.9" cy="125.0" r="2.7" stroke="#4cb4ea" class="o"/><circle cx="71.8" cy="132.0" r="2.7" stroke="#4cb4ea" class="o"/><circle cx="66.1" cy="137.3" r="2.7" stroke="#4cb4ea" class="o"/><circle cx="71.8" cy="141.7" r="2.7" stroke="#4cb4ea" class="o"/><circle cx="77.8" cy="141.2" r="2.7" stroke="#4cb4ea" class="o"/><circle cx="71.8" cy="120.0" r="2.7" stroke="#4cb4ea" class="o"/><circle cx="64.0" cy="121.0" r="2.7" stroke="#4cb4ea" class="o"/><path d="M62.3 120.2H81.5M66.9 116.7H76.9M66.9 123.5H76.9M71.9 116.7V123.5" stroke-width="1.6" fill="none"/><circle cx="101.0" cy="125.0" r="2.7" stroke="#e2379a" class="o"/><circle cx="104.9" cy="130.3" r="2.7" stroke="#e2379a" class="o"/><circle cx="93.1" cy="133.4" r="2.7" stroke="#e2379a" class="o"/><circle cx="97.0" cy="138.6" r="2.7" stroke="#e2379a" class="o"/><circle cx="104.9" cy="143.0" r="2.7" stroke="#e2379a" class="o"/><circle cx="104.8" cy="142.3" r="2.7" stroke="#e2379a" class="o"/><circle cx="101.1" cy="158.7" r="2.7" stroke="#e2379a" class="o"/><path d="M91.2 138.2H110.4M95.8 133.4H105.8M95.8 143.0H105.8M100.8 133.4V143.0" stroke-width="1.6" fill="none"/><rect x="126.9" y="94.7" width="6.2" height="6.2" fill="#a5a5a5" class="s"/><rect x="128.2" y="96.0" width="3.5" height="3.5" fill="#4cb4ea" class="s"/><rect x="122.9" y="107.9" width="6.2" height="6.2" fill="#a5a5a5" class="s"/><rect x="124.2" y="109.2" width="3.5" height="3.5" fill="#4cb4ea" class="s"/><rect x="124.9" y="113.4" width="6.2" height="6.2" fill="#a5a5a5" class="s"/><rect x="126.2" y="114.8" width="3.5" height="3.5" fill="#4cb4ea" class="s"/><rect x="129.9" y="114.7" width="6.2" height="6.2" fill="#a5a5a5" class="s"/><rect x="131.2" y="116.0" width="3.5" height="3.5" fill="#4cb4ea" class="s"/><rect x="122.9" y="124.3" width="6.2" height="6.2" fill="#a5a5a5" class="s"/><rect x="124.2" y="125.7" width="3.5" height="3.5" fill="#4cb4ea" class="s"/><rect x="126.9" y="123.9" width="6.2" height="6.2" fill="#a5a5a5" class="s"/><rect x="128.2" y="125.2" width="3.5" height="3.5" fill="#4cb4ea" class="s"/><rect x="131.9" y="124.9" width="6.2" height="6.2" fill="#a5a5a5" class="s"/><rect x="133.2" y="126.2" width="3.5" height="3.5" fill="#4cb4ea" class="s"/><rect x="122.9" y="146.2" width="6.2" height="6.2" fill="#a5a5a5" class="s"/><rect x="124.2" y="147.6" width="3.5" height="3.5" fill="#4cb4ea" class="s"/><rect x="128.4" y="147.4" width="6.2" height="6.2" fill="#a5a5a5" class="s"/><rect x="129.8" y="148.8" width="3.5" height="3.5" fill="#4cb4ea" class="s"/><rect x="133.9" y="143.9" width="6.2" height="6.2" fill="#a5a5a5" class="s"/><rect x="135.2" y="145.2" width="3.5" height="3.5" fill="#4cb4ea" class="s"/><rect x="127.9" y="156.9" width="6.2" height="6.2" fill="#a5a5a5" class="s"/><rect x="129.2" y="158.2" width="3.5" height="3.5" fill="#4cb4ea" class="s"/><path d="M120.8 129.4H140.0M125.4 125.0H135.4M125.4 134.5H135.4M130.4 125.0V134.5" stroke-width="1.6" fill="none"/><rect x="155.5" y="112.4" width="6.2" height="6.2" fill="#a5a5a5" class="s"/><rect x="156.8" y="113.8" width="3.5" height="3.5" fill="#e2379a" class="s"/><rect x="155.5" y="129.9" width="6.2" height="6.2" fill="#a5a5a5" class="s"/><rect x="156.8" y="131.2" width="3.5" height="3.5" fill="#e2379a" class="s"/><rect x="150.9" y="134.9" width="6.2" height="6.2" fill="#a5a5a5" class="s"/><rect x="152.2" y="136.2" width="3.5" height="3.5" fill="#e2379a" class="s"/><rect x="159.9" y="134.9" width="6.2" height="6.2" fill="#a5a5a5" class="s"/><rect x="161.2" y="136.2" width="3.5" height="3.5" fill="#e2379a" class="s"/><rect x="153.9" y="138.4" width="6.2" height="6.2" fill="#a5a5a5" class="s"/><rect x="155.2" y="139.8" width="3.5" height="3.5" fill="#e2379a" class="s"/><rect x="148.9" y="143.9" width="6.2" height="6.2" fill="#a5a5a5" class="s"/><rect x="150.2" y="145.2" width="3.5" height="3.5" fill="#e2379a" class="s"/><rect x="161.9" y="144.9" width="6.2" height="6.2" fill="#a5a5a5" class="s"/><rect x="163.2" y="146.2" width="3.5" height="3.5" fill="#e2379a" class="s"/><rect x="155.5" y="150.4" width="6.2" height="6.2" fill="#a5a5a5" class="s"/><rect x="156.8" y="151.8" width="3.5" height="3.5" fill="#e2379a" class="s"/><path d="M149.0 140.5H168.2M153.6 136.5H163.6M153.6 144.5H163.6M158.6 136.5V144.5" stroke-width="1.6" fill="none"/><circle cx="207.2" cy="95.9" r="2.7" stroke="#4cb4ea" class="o"/><circle cx="203.1" cy="100.4" r="2.7" stroke="#4cb4ea" class="o"/><circle cx="211.3" cy="104.9" r="2.7" stroke="#4cb4ea" class="o"/><circle cx="202.1" cy="122.9" r="2.7" stroke="#4cb4ea" class="o"/><circle cx="207.6" cy="128.0" r="2.7" stroke="#4cb4ea" class="o"/><circle cx="212.7" cy="126.6" r="2.7" stroke="#4cb4ea" class="o"/><circle cx="207.6" cy="140.9" r="2.7" stroke="#4cb4ea" class="o"/><circle cx="203.5" cy="156.0" r="2.7" stroke="#4cb4ea" class="o"/><circle cx="211.3" cy="151.9" r="2.7" stroke="#4cb4ea" class="o"/><path d="M198.0 125.4H217.2M202.6 118.2H212.6M202.6 132.7H212.6M207.6 118.2V132.7" stroke-width="1.6" fill="none"/><circle cx="236.6" cy="100.4" r="2.7" stroke="#e2379a" class="o"/><circle cx="236.6" cy="115.8" r="2.7" stroke="#e2379a" class="o"/><circle cx="232.1" cy="125.0" r="2.7" stroke="#e2379a" class="o"/><circle cx="240.7" cy="129.0" r="2.7" stroke="#e2379a" class="o"/><circle cx="232.5" cy="147.4" r="2.7" stroke="#e2379a" class="o"/><circle cx="240.3" cy="144.4" r="2.7" stroke="#e2379a" class="o"/><path d="M227.0 127.4H246.2M231.6 119.9H241.6M231.6 134.8H241.6M236.6 119.9V134.8" stroke-width="1.6" fill="none"/><rect x="258.2" y="98.2" width="6.2" height="6.2" fill="#a5a5a5" class="s"/><rect x="259.6" y="99.5" width="3.5" height="3.5" fill="#4cb4ea" class="s"/><rect x="270.3" y="100.0" width="6.2" height="6.2" fill="#a5a5a5" class="s"/><rect x="271.6" y="101.3" width="3.5" height="3.5" fill="#4cb4ea" class="s"/><rect x="266.2" y="107.6" width="6.2" height="6.2" fill="#a5a5a5" class="s"/><rect x="267.6" y="109.0" width="3.5" height="3.5" fill="#4cb4ea" class="s"/><rect x="258.2" y="112.7" width="6.2" height="6.2" fill="#a5a5a5" class="s"/><rect x="259.6" y="114.0" width="3.5" height="3.5" fill="#4cb4ea" class="s"/><rect x="268.3" y="114.7" width="6.2" height="6.2" fill="#a5a5a5" class="s"/><rect x="269.6" y="116.0" width="3.5" height="3.5" fill="#4cb4ea" class="s"/><rect x="256.6" y="115.7" width="6.2" height="6.2" fill="#a5a5a5" class="s"/><rect x="257.9" y="117.0" width="3.5" height="3.5" fill="#4cb4ea" class="s"/><rect x="262.7" y="120.8" width="6.2" height="6.2" fill="#a5a5a5" class="s"/><rect x="264.1" y="122.2" width="3.5" height="3.5" fill="#4cb4ea" class="s"/><rect x="258.6" y="137.2" width="6.2" height="6.2" fill="#a5a5a5" class="s"/><rect x="259.9" y="138.6" width="3.5" height="3.5" fill="#4cb4ea" class="s"/><rect x="265.8" y="138.2" width="6.2" height="6.2" fill="#a5a5a5" class="s"/><rect x="267.1" y="139.6" width="3.5" height="3.5" fill="#4cb4ea" class="s"/><rect x="256.9" y="142.9" width="6.2" height="6.2" fill="#a5a5a5" class="s"/><rect x="258.2" y="144.2" width="3.5" height="3.5" fill="#4cb4ea" class="s"/><rect x="260.9" y="143.4" width="6.2" height="6.2" fill="#a5a5a5" class="s"/><rect x="262.2" y="144.8" width="3.5" height="3.5" fill="#4cb4ea" class="s"/><rect x="265.9" y="143.9" width="6.2" height="6.2" fill="#a5a5a5" class="s"/><rect x="267.2" y="145.2" width="3.5" height="3.5" fill="#4cb4ea" class="s"/><rect x="256.6" y="150.5" width="6.2" height="6.2" fill="#a5a5a5" class="s"/><rect x="257.9" y="151.8" width="3.5" height="3.5" fill="#4cb4ea" class="s"/><rect x="262.9" y="155.9" width="6.2" height="6.2" fill="#a5a5a5" class="s"/><rect x="264.2" y="157.2" width="3.5" height="3.5" fill="#4cb4ea" class="s"/><rect x="268.3" y="155.6" width="6.2" height="6.2" fill="#a5a5a5" class="s"/><rect x="269.6" y="156.9" width="3.5" height="3.5" fill="#4cb4ea" class="s"/><path d="M255.8 133.5H275.0M260.4 129.0H270.4M260.4 138.2H270.4M265.4 129.0V138.2" stroke-width="1.6" fill="none"/><rect x="291.6" y="106.5" width="6.2" height="6.2" fill="#a5a5a5" class="s"/><rect x="292.9" y="107.8" width="3.5" height="3.5" fill="#e2379a" class="s"/><rect x="291.6" y="120.8" width="6.2" height="6.2" fill="#a5a5a5" class="s"/><rect x="292.9" y="122.2" width="3.5" height="3.5" fill="#e2379a" class="s"/><rect x="287.3" y="133.1" width="6.2" height="6.2" fill="#a5a5a5" class="s"/><rect x="288.6" y="134.4" width="3.5" height="3.5" fill="#e2379a" class="s"/><rect x="294.4" y="134.2" width="6.2" height="6.2" fill="#a5a5a5" class="s"/><rect x="295.8" y="135.6" width="3.5" height="3.5" fill="#e2379a" class="s"/><rect x="285.4" y="144.5" width="6.2" height="6.2" fill="#a5a5a5" class="s"/><rect x="286.8" y="145.8" width="3.5" height="3.5" fill="#e2379a" class="s"/><rect x="297.4" y="144.8" width="6.2" height="6.2" fill="#a5a5a5" class="s"/><rect x="298.8" y="146.2" width="3.5" height="3.5" fill="#e2379a" class="s"/><rect x="291.6" y="149.5" width="6.2" height="6.2" fill="#a5a5a5" class="s"/><rect x="292.9" y="150.8" width="3.5" height="3.5" fill="#e2379a" class="s"/><rect x="289.9" y="140.9" width="6.2" height="6.2" fill="#a5a5a5" class="s"/><rect x="291.2" y="142.2" width="3.5" height="3.5" fill="#e2379a" class="s"/><path d="M285.1 138.7H304.3M289.7 135.2H299.7M289.7 141.7H299.7M294.7 135.2V141.7" stroke-width="1.6" fill="none"/><text x="346.5" y="16.0" font-weight="bold" font-size="18.5">b</text><circle cx="427.6" cy="8.6" r="2.7" stroke="#4cb4ea" class="o"/><text x="434.40000000000003" y="12.2">Male No Defeat</text><rect x="424.5" y="21.4" width="6.2" height="6.2" fill="#a5a5a5" class="s"/><rect x="425.9" y="22.8" width="3.5" height="3.5" fill="#4cb4ea" class="s"/><text x="434.40000000000003" y="28.1">Male Defeat</text><circle cx="552.1" cy="8.6" r="2.7" stroke="#e2379a" class="o"/><text x="558.9" y="12.2">Female No Defeat</text><rect x="549.0" y="21.4" width="6.2" height="6.2" fill="#a5a5a5" class="s"/><rect x="550.4" y="22.8" width="3.5" height="3.5" fill="#e2379a" class="s"/><text x="558.9" y="28.1">Female Defeat</text><path d="M407.8 29.8V204.1H669.4" stroke-width="1.6" fill="none"/><path d="M400.40000000000003 29.8H407.8" stroke-width="1.6" fill="none"/><text x="399.2" y="34.5" text-anchor="end">200</text><path d="M400.40000000000003 87.9H407.8" stroke-width="1.6" fill="none"/><text x="399.2" y="92.6" text-anchor="end">150</text><path d="M400.40000000000003 146H407.8" stroke-width="1.6" fill="none"/><text x="399.2" y="150.7" text-anchor="end">100</text><path d="M400.40000000000003 204.1H407.8" stroke-width="1.6" fill="none"/><text x="399.2" y="208.8" text-anchor="end">50</text><path d="M408.7 210.8H533.6M541.8 210.8H666.4" stroke-width="1.6" fill="none"/><text x="440.2" y="229.6" font-size="13.8">Wild-type</text><text x="560.4" y="229.6" font-size="13.8">S1PR3<tspan font-size="10.1" dx="0.4" dy="-7.4">GRE-/GRE-</tspan></text><text x="415.0" y="190.8">Sex p &lt; 0.0001</text><text transform="translate(369.8,116.9) rotate(-90)" text-anchor="middle">Number of microglia/mm<tspan font-size="10" dx="1.5" dy="-7.5">2</tspan><tspan dy="7.5"> in IL</tspan></text><circle cx="421.0" cy="97.4" r="2.7" stroke="#4cb4ea" class="o"/><circle cx="426.9" cy="98.4" r="2.7" stroke="#4cb4ea" class="o"/><circle cx="433.0" cy="97.8" r="2.7" stroke="#4cb4ea" class="o"/><circle cx="418.9" cy="106.6" r="2.7" stroke="#4cb4ea" class="o"/><circle cx="435.2" cy="108.6" r="2.7" stroke="#4cb4ea" class="o"/><circle cx="424.4" cy="112.1" r="2.7" stroke="#4cb4ea" class="o"/><circle cx="431.2" cy="110.0" r="2.7" stroke="#4cb4ea" class="o"/><circle cx="420.9" cy="126.0" r="2.7" stroke="#4cb4ea" class="o"/><circle cx="433.0" cy="124.0" r="2.7" stroke="#4cb4ea" class="o"/><circle cx="426.9" cy="129.5" r="2.7" stroke="#4cb4ea" class="o"/><circle cx="423.0" cy="143.8" r="2.7" stroke="#4cb4ea" class="o"/><circle cx="431.0" cy="139.7" r="2.7" stroke="#4cb4ea" class="o"/><circle cx="427.0" cy="118.0" r="2.7" stroke="#4cb4ea" class="o"/><path d="M417.5 116.2H436.7M422.1 112.7H432.1M422.1 119.9H432.1M427.1 112.7V119.9" stroke-width="1.6" fill="none"/><circle cx="452.0" cy="132.0" r="2.7" stroke="#e2379a" class="o"/><circle cx="460.2" cy="133.0" r="2.7" stroke="#e2379a" class="o"/><circle cx="452.0" cy="155.0" r="2.7" stroke="#e2379a" class="o"/><circle cx="459.8" cy="154.0" r="2.7" stroke="#e2379a" class="o"/><circle cx="456.0" cy="138.0" r="2.7" stroke="#e2379a" class="o"/><path d="M446.5 141.1H465.7M451.1 137.0H461.1M451.1 145.2H461.1M456.1 137.0V145.2" stroke-width="1.6" fill="none"/><rect x="482.2" y="91.2" width="6.2" height="6.2" fill="#a5a5a5" class="s"/><rect x="483.6" y="92.5" width="3.5" height="3.5" fill="#4cb4ea" class="s"/><rect x="482.2" y="100.2" width="6.2" height="6.2" fill="#a5a5a5" class="s"/><rect x="483.6" y="101.5" width="3.5" height="3.5" fill="#4cb4ea" class="s"/><rect x="477.9" y="124.9" width="6.2" height="6.2" fill="#a5a5a5" class="s"/><rect x="479.2" y="126.2" width="3.5" height="3.5" fill="#4cb4ea" class="s"/><rect x="486.4" y="125.9" width="6.2" height="6.2" fill="#a5a5a5" class="s"/><rect x="487.8" y="127.2" width="3.5" height="3.5" fill="#4cb4ea" class="s"/><rect x="477.9" y="130.1" width="6.2" height="6.2" fill="#a5a5a5" class="s"/><rect x="479.2" y="131.4" width="3.5" height="3.5" fill="#4cb4ea" class="s"/><rect x="484.7" y="131.5" width="6.2" height="6.2" fill="#a5a5a5" class="s"/><rect x="486.1" y="132.8" width="3.5" height="3.5" fill="#4cb4ea" class="s"/><rect x="479.6" y="135.6" width="6.2" height="6.2" fill="#a5a5a5" class="s"/><rect x="480.9" y="136.9" width="3.5" height="3.5" fill="#4cb4ea" class="s"/><path d="M475.7 123.8H494.9M480.3 119.9H490.3M480.3 127.4H490.3M485.3 119.9V127.4" stroke-width="1.6" fill="none"/><rect x="511.2" y="96.8" width="6.2" height="6.2" fill="#a5a5a5" class="s"/><rect x="512.5" y="98.2" width="3.5" height="3.5" fill="#e2379a" class="s"/><rect x="511.2" y="106.6" width="6.2" height="6.2" fill="#a5a5a5" class="s"/><rect x="512.5" y="108.0" width="3.5" height="3.5" fill="#e2379a" class="s"/><rect x="511.2" y="122.3" width="6.2" height="6.2" fill="#a5a5a5" class="s"/><rect x="512.5" y="123.7" width="3.5" height="3.5" fill="#e2379a" class="s"/><rect x="505.1" y="147.4" width="6.2" height="6.2" fill="#a5a5a5" class="s"/><rect x="506.4" y="148.8" width="3.5" height="3.5" fill="#e2379a" class="s"/><rect x="516.8" y="148.5" width="6.2" height="6.2" fill="#a5a5a5" class="s"/><rect x="518.1" y="149.8" width="3.5" height="3.5" fill="#e2379a" class="s"/><rect x="511.2" y="152.5" width="6.2" height="6.2" fill="#a5a5a5" class="s"/><rect x="512.5" y="153.8" width="3.5" height="3.5" fill="#e2379a" class="s"/><path d="M504.7 132.1H523.9M509.3 122.3H519.3M509.3 142.2H519.3M514.3 122.3V142.2" stroke-width="1.6" fill="none"/><circle cx="568.6" cy="102.8" r="2.7" stroke="#4cb4ea" class="o"/><circle cx="556.3" cy="109.9" r="2.7" stroke="#4cb4ea" class="o"/><circle cx="562.9" cy="110.5" r="2.7" stroke="#4cb4ea" class="o"/><circle cx="566.6" cy="130.4" r="2.7" stroke="#4cb4ea" class="o"/><circle cx="558.4" cy="135.5" r="2.7" stroke="#4cb4ea" class="o"/><circle cx="558.4" cy="143.6" r="2.7" stroke="#4cb4ea" class="o"/><circle cx="570.7" cy="144.7" r="2.7" stroke="#4cb4ea" class="o"/><circle cx="566.2" cy="147.3" r="2.7" stroke="#4cb4ea" class="o"/><circle cx="558.4" cy="153.9" r="2.7" stroke="#4cb4ea" class="o"/><path d="M552.9 131.4H572.1M557.5 125.3H567.5M557.5 137.5H567.5M562.5 125.3V137.5" stroke-width="1.6" fill="none"/><circle cx="591.5" cy="95.2" r="2.7" stroke="#e2379a" class="o"/><circle cx="588.0" cy="127.3" r="2.7" stroke="#e2379a" class="o"/><circle cx="596.2" cy="131.4" r="2.7" stroke="#e2379a" class="o"/><circle cx="588.0" cy="144.7" r="2.7" stroke="#e2379a" class="o"/><circle cx="595.6" cy="140.2" r="2.7" stroke="#e2379a" class="o"/><circle cx="591.5" cy="122.0" r="2.7" stroke="#e2379a" class="o"/><path d="M581.9 126.9H601.1M586.5 120.1H596.5M586.5 134.0H596.5M591.5 120.1V134.0" stroke-width="1.6" fill="none"/><rect x="613.5" y="55.3" width="6.2" height="6.2" fill="#a5a5a5" class="s"/><rect x="614.9" y="56.6" width="3.5" height="3.5" fill="#4cb4ea" class="s"/><rect x="621.7" y="54.3" width="6.2" height="6.2" fill="#a5a5a5" class="s"/><rect x="623.0" y="55.6" width="3.5" height="3.5" fill="#4cb4ea" class="s"/><rect x="617.6" y="69.0" width="6.2" height="6.2" fill="#a5a5a5" class="s"/><rect x="619.0" y="70.3" width="3.5" height="3.5" fill="#4cb4ea" class="s"/><rect x="617.6" y="78.8" width="6.2" height="6.2" fill="#a5a5a5" class="s"/><rect x="619.0" y="80.2" width="3.5" height="3.5" fill="#4cb4ea" class="s"/><rect x="623.8" y="83.9" width="6.2" height="6.2" fill="#a5a5a5" class="s"/><rect x="625.1" y="85.2" width="3.5" height="3.5" fill="#4cb4ea" class="s"/><rect x="611.5" y="88.4" width="6.2" height="6.2" fill="#a5a5a5" class="s"/><rect x="612.9" y="89.8" width="3.5" height="3.5" fill="#4cb4ea" class="s"/><rect x="618.2" y="89.5" width="6.2" height="6.2" fill="#a5a5a5" class="s"/><rect x="619.5" y="90.8" width="3.5" height="3.5" fill="#4cb4ea" class="s"/><rect x="617.6" y="104.9" width="6.2" height="6.2" fill="#a5a5a5" class="s"/><rect x="619.0" y="106.2" width="3.5" height="3.5" fill="#4cb4ea" class="s"/><rect x="623.8" y="111.3" width="6.2" height="6.2" fill="#a5a5a5" class="s"/><rect x="625.1" y="112.7" width="3.5" height="3.5" fill="#4cb4ea" class="s"/><rect x="608.4" y="115.0" width="6.2" height="6.2" fill="#a5a5a5" class="s"/><rect x="609.8" y="116.3" width="3.5" height="3.5" fill="#4cb4ea" class="s"/><rect x="617.6" y="115.6" width="6.2" height="6.2" fill="#a5a5a5" class="s"/><rect x="619.0" y="117.0" width="3.5" height="3.5" fill="#4cb4ea" class="s"/><rect x="611.5" y="120.1" width="6.2" height="6.2" fill="#a5a5a5" class="s"/><rect x="612.9" y="121.5" width="3.5" height="3.5" fill="#4cb4ea" class="s"/><rect x="623.8" y="119.7" width="6.2" height="6.2" fill="#a5a5a5" class="s"/><rect x="625.1" y="121.0" width="3.5" height="3.5" fill="#4cb4ea" class="s"/><rect x="617.6" y="126.2" width="6.2" height="6.2" fill="#a5a5a5" class="s"/><rect x="619.0" y="127.6" width="3.5" height="3.5" fill="#4cb4ea" class="s"/><rect x="613.9" y="117.9" width="6.2" height="6.2" fill="#a5a5a5" class="s"/><rect x="615.2" y="119.2" width="3.5" height="3.5" fill="#4cb4ea" class="s"/><path d="M611.1 101.7H630.3M615.7 95.6H625.7M615.7 107.9H625.7M620.7 95.6V107.9" stroke-width="1.6" fill="none"/><rect x="646.9" y="109.3" width="6.2" height="6.2" fill="#a5a5a5" class="s"/><rect x="648.2" y="110.7" width="3.5" height="3.5" fill="#e2379a" class="s"/><rect x="642.6" y="124.6" width="6.2" height="6.2" fill="#a5a5a5" class="s"/><rect x="644.0" y="126.0" width="3.5" height="3.5" fill="#e2379a" class="s"/><rect x="650.9" y="128.9" width="6.2" height="6.2" fill="#a5a5a5" class="s"/><rect x="652.2" y="130.2" width="3.5" height="3.5" fill="#e2379a" class="s"/><rect x="642.9" y="141.4" width="6.2" height="6.2" fill="#a5a5a5" class="s"/><rect x="644.2" y="142.8" width="3.5" height="3.5" fill="#e2379a" class="s"/><rect x="651.4" y="143.9" width="6.2" height="6.2" fill="#a5a5a5" class="s"/><rect x="652.8" y="145.2" width="3.5" height="3.5" fill="#e2379a" class="s"/><rect x="641.9" y="146.9" width="6.2" height="6.2" fill="#a5a5a5" class="s"/><rect x="643.2" y="148.2" width="3.5" height="3.5" fill="#e2379a" class="s"/><rect x="647.3" y="151.8" width="6.2" height="6.2" fill="#a5a5a5" class="s"/><rect x="648.6" y="153.2" width="3.5" height="3.5" fill="#e2379a" class="s"/><rect x="646.9" y="164.5" width="6.2" height="6.2" fill="#a5a5a5" class="s"/><rect x="648.2" y="165.8" width="3.5" height="3.5" fill="#e2379a" class="s"/><rect x="648.9" y="139.9" width="6.2" height="6.2" fill="#a5a5a5" class="s"/><rect x="650.2" y="141.2" width="3.5" height="3.5" fill="#e2379a" class="s"/><path d="M640.4 144.3H659.6M645.0 140.2H655.0M645.0 148.8H655.0M650.0 140.2V148.8" stroke-width="1.6" fill="none"/><path d="M484.3 88.6V67H611.5V79.9" stroke-width="1.7" fill="none"/><path d="M561.5 85.8V40.4H619.7V49.6" stroke-width="1.7" fill="none"/><path d="M625.4 67.6H652.8" stroke-width="1.7" fill="none"/><text x="534.0" y="68.4" text-anchor="middle" font-size="15">*</text><text x="590.8" y="42.5" text-anchor="middle" font-size="15">**</text><text x="639.6" y="70.2" text-anchor="middle" font-size="15">***</text><text x="10.0" y="261.6" font-weight="bold" font-size="19.5">c</text><text x="15.4" y="667.4" font-weight="bold" font-size="19.5">d</text><circle cx="77.8" cy="644.6" r="2.7" stroke="#4cb4ea" class="o"/><text x="84.6" y="648.2">Male No Defeat</text><rect x="74.7" y="657.5" width="6.2" height="6.2" fill="#a5a5a5" class="s"/><rect x="76.0" y="658.9" width="3.5" height="3.5" fill="#4cb4ea" class="s"/><text x="84.6" y="664.2">Male Defeat</text><circle cx="201.8" cy="644.6" r="2.7" stroke="#e2379a" class="o"/><text x="208.60000000000002" y="648.2">Female No Defeat</text><rect x="198.7" y="657.5" width="6.2" height="6.2" fill="#a5a5a5" class="s"/><rect x="200.1" y="658.9" width="3.5" height="3.5" fill="#e2379a" class="s"/><text x="208.60000000000002" y="664.2">Female Defeat</text><path d="M67.8 656.1V831.2H329.3" stroke-width="1.6" fill="none"/><path d="M60.3 656.1H67.8" stroke-width="1.6" fill="none"/><text x="58.2" y="660.8" text-anchor="end">500</text><path d="M60.3 691.1H67.8" stroke-width="1.6" fill="none"/><text x="58.2" y="695.8" text-anchor="end">400</text><path d="M60.3 726.1H67.8" stroke-width="1.6" fill="none"/><text x="58.2" y="730.8" text-anchor="end">300</text><path d="M60.3 761.2H67.8" stroke-width="1.6" fill="none"/><text x="58.2" y="765.9" text-anchor="end">200</text><path d="M60.3 796.2H67.8" stroke-width="1.6" fill="none"/><text x="58.2" y="800.9" text-anchor="end">100</text><path d="M60.3 831.2H67.8" stroke-width="1.6" fill="none"/><text x="58.2" y="835.9" text-anchor="end">0</text><path d="M71.6 836.7H196.2M204 836.7H329.3" stroke-width="1.6" fill="none"/><text x="102.4" y="856.2" font-size="13.8">Wild-type</text><text x="223.2" y="856.2" font-size="13.8">S1PR3<tspan font-size="10.1" dx="0.4" dy="-7.4">GRE-/GRE-</tspan></text><text x="74.6" y="707.0">Genotype p &lt; 0.0001</text><text x="74.6" y="723.8">Sex p = 0.0529</text><text transform="translate(28.2,740.6) rotate(-90)" text-anchor="middle">Monocytes/µL</text><circle cx="87.4" cy="740.8" r="2.7" stroke="#4cb4ea" class="o"/><circle cx="83.6" cy="751.4" r="2.7" stroke="#4cb4ea" class="o"/><circle cx="91.6" cy="758.4" r="2.7" stroke="#4cb4ea" class="o"/><circle cx="83.6" cy="769.0" r="2.7" stroke="#4cb4ea" class="o"/><circle cx="91.6" cy="769.0" r="2.7" stroke="#4cb4ea" class="o"/><circle cx="83.6" cy="782.8" r="2.7" stroke="#4cb4ea" class="o"/><circle cx="91.6" cy="786.5" r="2.7" stroke="#4cb4ea" class="o"/><circle cx="87.4" cy="796.6" r="2.7" stroke="#4cb4ea" class="o"/><path d="M77.8 769.0H97.0M82.4 762.7H92.4M82.4 775.7H92.4M87.4 762.7V775.7" stroke-width="1.6" fill="none"/><circle cx="116.2" cy="796.6" r="2.7" stroke="#e2379a" class="o"/><circle cx="110.5" cy="806.6" r="2.7" stroke="#e2379a" class="o"/><circle cx="120.5" cy="803.6" r="2.7" stroke="#e2379a" class="o"/><circle cx="116.2" cy="815.0" r="2.7" stroke="#e2379a" class="o"/><circle cx="110.5" cy="822.9" r="2.7" stroke="#e2379a" class="o"/><circle cx="120.5" cy="823.4" r="2.7" stroke="#e2379a" class="o"/><circle cx="112.5" cy="827.9" r="2.7" stroke="#e2379a" class="o"/><path d="M106.6 812.9H125.8M111.2 807.9H121.2M111.2 817.9H121.2M116.2 807.9V817.9" stroke-width="1.6" fill="none"/><rect x="142.0" y="792.7" width="6.2" height="6.2" fill="#a5a5a5" class="s"/><rect x="143.3" y="794.0" width="3.5" height="3.5" fill="#4cb4ea" class="s"/><rect x="137.4" y="799.9" width="6.2" height="6.2" fill="#a5a5a5" class="s"/><rect x="138.8" y="801.2" width="3.5" height="3.5" fill="#4cb4ea" class="s"/><rect x="146.4" y="800.9" width="6.2" height="6.2" fill="#a5a5a5" class="s"/><rect x="147.8" y="802.2" width="3.5" height="3.5" fill="#4cb4ea" class="s"/><rect x="137.5" y="805.9" width="6.2" height="6.2" fill="#a5a5a5" class="s"/><rect x="138.8" y="807.2" width="3.5" height="3.5" fill="#4cb4ea" class="s"/><rect x="142.0" y="809.3" width="6.2" height="6.2" fill="#a5a5a5" class="s"/><rect x="143.3" y="810.6" width="3.5" height="3.5" fill="#4cb4ea" class="s"/><rect x="146.4" y="807.3" width="6.2" height="6.2" fill="#a5a5a5" class="s"/><rect x="147.8" y="808.6" width="3.5" height="3.5" fill="#4cb4ea" class="s"/><rect x="142.0" y="814.8" width="6.2" height="6.2" fill="#a5a5a5" class="s"/><rect x="143.3" y="816.1" width="3.5" height="3.5" fill="#4cb4ea" class="s"/><rect x="137.9" y="811.9" width="6.2" height="6.2" fill="#a5a5a5" class="s"/><rect x="139.2" y="813.2" width="3.5" height="3.5" fill="#4cb4ea" class="s"/><path d="M135.5 809.1H154.7M140.1 806.6H150.1M140.1 811.6H150.1M145.1 806.6V811.6" stroke-width="1.6" fill="none"/><rect x="171.4" y="751.8" width="6.2" height="6.2" fill="#a5a5a5" class="s"/><rect x="172.8" y="753.1" width="3.5" height="3.5" fill="#e2379a" class="s"/><rect x="171.4" y="760.8" width="6.2" height="6.2" fill="#a5a5a5" class="s"/><rect x="172.8" y="762.1" width="3.5" height="3.5" fill="#e2379a" class="s"/><rect x="167.4" y="765.7" width="6.2" height="6.2" fill="#a5a5a5" class="s"/><rect x="168.8" y="767.0" width="3.5" height="3.5" fill="#e2379a" class="s"/><rect x="175.4" y="769.7" width="6.2" height="6.2" fill="#a5a5a5" class="s"/><rect x="176.8" y="771.0" width="3.5" height="3.5" fill="#e2379a" class="s"/><rect x="165.7" y="779.4" width="6.2" height="6.2" fill="#a5a5a5" class="s"/><rect x="167.1" y="780.8" width="3.5" height="3.5" fill="#e2379a" class="s"/><rect x="176.7" y="782.5" width="6.2" height="6.2" fill="#a5a5a5" class="s"/><rect x="178.1" y="783.9" width="3.5" height="3.5" fill="#e2379a" class="s"/><rect x="171.4" y="785.9" width="6.2" height="6.2" fill="#a5a5a5" class="s"/><rect x="172.8" y="787.2" width="3.5" height="3.5" fill="#e2379a" class="s"/><rect x="171.4" y="774.9" width="6.2" height="6.2" fill="#a5a5a5" class="s"/><rect x="172.8" y="776.2" width="3.5" height="3.5" fill="#e2379a" class="s"/><path d="M164.9 774.1H184.1M169.5 770.6H179.5M169.5 777.7H179.5M174.5 770.6V777.7" stroke-width="1.6" fill="none"/><text x="116.2" y="781.5" text-anchor="middle">¥</text><text x="145.1" y="781.5" text-anchor="middle">¥</text><circle cx="222.5" cy="691.8" r="2.7" stroke="#4cb4ea" class="o"/><circle cx="222.5" cy="712.8" r="2.7" stroke="#4cb4ea" class="o"/><circle cx="222.5" cy="727.3" r="2.7" stroke="#4cb4ea" class="o"/><circle cx="218.3" cy="741.0" r="2.7" stroke="#4cb4ea" class="o"/><circle cx="226.7" cy="741.0" r="2.7" stroke="#4cb4ea" class="o"/><circle cx="218.3" cy="751.0" r="2.7" stroke="#4cb4ea" class="o"/><circle cx="226.7" cy="757.5" r="2.7" stroke="#4cb4ea" class="o"/><circle cx="222.5" cy="768.8" r="2.7" stroke="#4cb4ea" class="o"/><circle cx="222.5" cy="793.0" r="2.7" stroke="#4cb4ea" class="o"/><circle cx="222.5" cy="803.0" r="2.7" stroke="#4cb4ea" class="o"/><path d="M212.9 749.1H232.1M217.5 737.8H227.5M217.5 759.6H227.5M222.5 737.8V759.6" stroke-width="1.6" fill="none"/><circle cx="251.4" cy="705.7" r="2.7" stroke="#e2379a" class="o"/><circle cx="251.4" cy="761.5" r="2.7" stroke="#e2379a" class="o"/><circle cx="246.7" cy="775.9" r="2.7" stroke="#e2379a" class="o"/><circle cx="255.9" cy="775.9" r="2.7" stroke="#e2379a" class="o"/><circle cx="245.4" cy="786.4" r="2.7" stroke="#e2379a" class="o"/><circle cx="257.7" cy="786.4" r="2.7" stroke="#e2379a" class="o"/><circle cx="251.4" cy="793.0" r="2.7" stroke="#e2379a" class="o"/><circle cx="251.4" cy="803.5" r="2.7" stroke="#e2379a" class="o"/><path d="M241.8 773.3H261.0M246.4 763.0H256.4M246.4 784.0H256.4M251.4 763.0V784.0" stroke-width="1.6" fill="none"/><rect x="273.8" y="730.8" width="6.2" height="6.2" fill="#a5a5a5" class="s"/><rect x="275.1" y="732.1" width="3.5" height="3.5" fill="#4cb4ea" class="s"/><rect x="281.7" y="730.8" width="6.2" height="6.2" fill="#a5a5a5" class="s"/><rect x="283.1" y="732.1" width="3.5" height="3.5" fill="#4cb4ea" class="s"/><rect x="277.8" y="744.4" width="6.2" height="6.2" fill="#a5a5a5" class="s"/><rect x="279.1" y="745.8" width="3.5" height="3.5" fill="#4cb4ea" class="s"/><rect x="271.7" y="747.9" width="6.2" height="6.2" fill="#a5a5a5" class="s"/><rect x="273.1" y="749.2" width="3.5" height="3.5" fill="#4cb4ea" class="s"/><rect x="283.8" y="751.8" width="6.2" height="6.2" fill="#a5a5a5" class="s"/><rect x="285.1" y="753.1" width="3.5" height="3.5" fill="#4cb4ea" class="s"/><rect x="277.8" y="755.9" width="6.2" height="6.2" fill="#a5a5a5" class="s"/><rect x="279.1" y="757.2" width="3.5" height="3.5" fill="#4cb4ea" class="s"/><rect x="273.8" y="760.9" width="6.2" height="6.2" fill="#a5a5a5" class="s"/><rect x="275.1" y="762.2" width="3.5" height="3.5" fill="#4cb4ea" class="s"/><rect x="281.7" y="760.9" width="6.2" height="6.2" fill="#a5a5a5" class="s"/><rect x="283.1" y="762.2" width="3.5" height="3.5" fill="#4cb4ea" class="s"/><rect x="281.7" y="772.9" width="6.2" height="6.2" fill="#a5a5a5" class="s"/><rect x="283.1" y="774.2" width="3.5" height="3.5" fill="#4cb4ea" class="s"/><rect x="273.8" y="779.4" width="6.2" height="6.2" fill="#a5a5a5" class="s"/><rect x="275.1" y="780.8" width="3.5" height="3.5" fill="#4cb4ea" class="s"/><rect x="273.8" y="799.9" width="6.2" height="6.2" fill="#a5a5a5" class="s"/><rect x="275.1" y="801.2" width="3.5" height="3.5" fill="#4cb4ea" class="s"/><rect x="281.7" y="799.9" width="6.2" height="6.2" fill="#a5a5a5" class="s"/><rect x="283.1" y="801.2" width="3.5" height="3.5" fill="#4cb4ea" class="s"/><rect x="277.8" y="810.9" width="6.2" height="6.2" fill="#a5a5a5" class="s"/><rect x="279.1" y="812.2" width="3.5" height="3.5" fill="#4cb4ea" class="s"/><path d="M271.3 768.0H290.5M275.9 762.2H285.9M275.9 774.1H285.9M280.9 762.2V774.1" stroke-width="1.6" fill="none"/><rect x="300.9" y="751.8" width="6.2" height="6.2" fill="#a5a5a5" class="s"/><rect x="302.2" y="753.1" width="3.5" height="3.5" fill="#e2379a" class="s"/><rect x="306.7" y="755.2" width="6.2" height="6.2" fill="#a5a5a5" class="s"/><rect x="308.1" y="756.5" width="3.5" height="3.5" fill="#e2379a" class="s"/><rect x="313.2" y="751.8" width="6.2" height="6.2" fill="#a5a5a5" class="s"/><rect x="314.6" y="753.1" width="3.5" height="3.5" fill="#e2379a" class="s"/><rect x="313.2" y="765.7" width="6.2" height="6.2" fill="#a5a5a5" class="s"/><rect x="314.6" y="767.0" width="3.5" height="3.5" fill="#e2379a" class="s"/><rect x="300.9" y="768.9" width="6.2" height="6.2" fill="#a5a5a5" class="s"/><rect x="302.2" y="770.2" width="3.5" height="3.5" fill="#e2379a" class="s"/><rect x="311.4" y="776.7" width="6.2" height="6.2" fill="#a5a5a5" class="s"/><rect x="312.8" y="778.0" width="3.5" height="3.5" fill="#e2379a" class="s"/><rect x="302.7" y="783.3" width="6.2" height="6.2" fill="#a5a5a5" class="s"/><rect x="304.1" y="784.6" width="3.5" height="3.5" fill="#e2379a" class="s"/><rect x="306.7" y="804.3" width="6.2" height="6.2" fill="#a5a5a5" class="s"/><rect x="308.1" y="805.6" width="3.5" height="3.5" fill="#e2379a" class="s"/><rect x="306.7" y="814.1" width="6.2" height="6.2" fill="#a5a5a5" class="s"/><rect x="308.1" y="815.5" width="3.5" height="3.5" fill="#e2379a" class="s"/><path d="M300.2 777.2H319.4M304.8 770.6H314.8M304.8 784.3H314.8M309.8 770.6V784.3" stroke-width="1.6" fill="none"/><text x="352.5" y="664.4" font-weight="bold" font-size="19.5">e</text><circle cx="435.9" cy="643.3" r="2.7" stroke="#4cb4ea" class="o"/><text x="442.7" y="646.9">Male No Defeat</text><rect x="432.8" y="655.8" width="6.2" height="6.2" fill="#a5a5a5" class="s"/><rect x="434.1" y="657.1" width="3.5" height="3.5" fill="#4cb4ea" class="s"/><text x="442.7" y="662.5">Male Defeat</text><circle cx="561.8" cy="643.3" r="2.7" stroke="#e2379a" class="o"/><text x="568.5999999999999" y="646.9">Female No Defeat</text><rect x="558.7" y="655.8" width="6.2" height="6.2" fill="#a5a5a5" class="s"/><rect x="560.0" y="657.1" width="3.5" height="3.5" fill="#e2379a" class="s"/><text x="568.5999999999999" y="662.5">Female Defeat</text><path d="M423.3 657.6V831.2H684" stroke-width="1.6" fill="none"/><path d="M415.3 657.6H423.3" stroke-width="1.6" fill="none"/><text x="414.3" y="662.3" text-anchor="end">2,000</text><path d="M415.3 701.0H423.3" stroke-width="1.6" fill="none"/><text x="414.3" y="705.7" text-anchor="end">1,500</text><path d="M415.3 744.4H423.3" stroke-width="1.6" fill="none"/><text x="414.3" y="749.1" text-anchor="end">1,000</text><path d="M415.3 787.8H423.3" stroke-width="1.6" fill="none"/><text x="414.3" y="792.5" text-anchor="end">500</text><path d="M415.3 831.2H423.3" stroke-width="1.6" fill="none"/><text x="414.3" y="835.9" text-anchor="end">0</text><path d="M424.6 837.0H549.4M557.5 837.0H682.3" stroke-width="1.6" fill="none"/><text x="456.9" y="856.4" font-size="13.8">Wild-type</text><text x="577.0" y="856.4" font-size="13.8">S1PR3<tspan font-size="10.1" dx="0.4" dy="-7.4">GRE-/GRE-</tspan></text><text x="680.9" y="823.7" text-anchor="end">Defeat p = 0.0348</text><text transform="translate(372.0,730.2) rotate(-90)" text-anchor="middle">Neutrophils/µL</text><circle cx="442.7" cy="701.1" r="2.7" stroke="#4cb4ea" class="o"/><circle cx="442.7" cy="713.6" r="2.7" stroke="#4cb4ea" class="o"/><circle cx="442.7" cy="740.9" r="2.7" stroke="#4cb4ea" class="o"/><circle cx="442.7" cy="754.0" r="2.7" stroke="#4cb4ea" class="o"/><circle cx="442.7" cy="781.1" r="2.7" stroke="#4cb4ea" class="o"/><circle cx="436.4" cy="787.4" r="2.7" stroke="#4cb4ea" class="o"/><circle cx="442.7" cy="789.6" r="2.7" stroke="#4cb4ea" class="o"/><circle cx="448.5" cy="787.9" r="2.7" stroke="#4cb4ea" class="o"/><path d="M433.1 757.2H452.3M437.7 744.7H447.7M437.7 769.5H447.7M442.7 744.7V769.5" stroke-width="1.6" fill="none"/><circle cx="471.5" cy="686.5" r="2.7" stroke="#e2379a" class="o"/><circle cx="471.5" cy="730.1" r="2.7" stroke="#e2379a" class="o"/><circle cx="471.5" cy="764.8" r="2.7" stroke="#e2379a" class="o"/><circle cx="471.5" cy="782.3" r="2.7" stroke="#e2379a" class="o"/><circle cx="471.5" cy="796.7" r="2.7" stroke="#e2379a" class="o"/><circle cx="471.5" cy="805.4" r="2.7" stroke="#e2379a" class="o"/><path d="M461.9 760.8H481.1M466.5 742.7H476.5M466.5 779.6H476.5M471.5 742.7V779.6" stroke-width="1.6" fill="none"/><rect x="489.9" y="750.9" width="6.2" height="6.2" fill="#a5a5a5" class="s"/><rect x="491.2" y="752.2" width="3.5" height="3.5" fill="#4cb4ea" class="s"/><rect x="494.4" y="753.4" width="6.2" height="6.2" fill="#a5a5a5" class="s"/><rect x="495.8" y="754.8" width="3.5" height="3.5" fill="#4cb4ea" class="s"/><rect x="501.3" y="745.9" width="6.2" height="6.2" fill="#a5a5a5" class="s"/><rect x="502.6" y="747.2" width="3.5" height="3.5" fill="#4cb4ea" class="s"/><rect x="501.3" y="759.7" width="6.2" height="6.2" fill="#a5a5a5" class="s"/><rect x="502.6" y="761.0" width="3.5" height="3.5" fill="#4cb4ea" class="s"/><rect x="491.4" y="811.1" width="6.2" height="6.2" fill="#a5a5a5" class="s"/><rect x="492.8" y="812.5" width="3.5" height="3.5" fill="#4cb4ea" class="s"/><rect x="497.3" y="811.9" width="6.2" height="6.2" fill="#a5a5a5" class="s"/><rect x="498.6" y="813.2" width="3.5" height="3.5" fill="#4cb4ea" class="s"/><rect x="503.1" y="805.6" width="6.2" height="6.2" fill="#a5a5a5" class="s"/><rect x="504.4" y="807.0" width="3.5" height="3.5" fill="#4cb4ea" class="s"/><rect x="497.3" y="822.9" width="6.2" height="6.2" fill="#a5a5a5" class="s"/><rect x="498.6" y="824.2" width="3.5" height="3.5" fill="#4cb4ea" class="s"/><path d="M490.8 786.1H510.0M495.4 775.8H505.4M495.4 796.2H505.4M500.4 775.8V796.2" stroke-width="1.6" fill="none"/><rect x="526.1" y="714.4" width="6.2" height="6.2" fill="#a5a5a5" class="s"/><rect x="527.5" y="715.8" width="3.5" height="3.5" fill="#e2379a" class="s"/><rect x="519.9" y="764.4" width="6.2" height="6.2" fill="#a5a5a5" class="s"/><rect x="521.2" y="765.8" width="3.5" height="3.5" fill="#e2379a" class="s"/><rect x="532.0" y="764.4" width="6.2" height="6.2" fill="#a5a5a5" class="s"/><rect x="533.4" y="765.8" width="3.5" height="3.5" fill="#e2379a" class="s"/><rect x="526.1" y="767.9" width="6.2" height="6.2" fill="#a5a5a5" class="s"/><rect x="527.5" y="769.2" width="3.5" height="3.5" fill="#e2379a" class="s"/><rect x="521.9" y="781.1" width="6.2" height="6.2" fill="#a5a5a5" class="s"/><rect x="523.2" y="782.5" width="3.5" height="3.5" fill="#e2379a" class="s"/><rect x="530.1" y="785.7" width="6.2" height="6.2" fill="#a5a5a5" class="s"/><rect x="531.5" y="787.0" width="3.5" height="3.5" fill="#e2379a" class="s"/><rect x="526.1" y="802.2" width="6.2" height="6.2" fill="#a5a5a5" class="s"/><rect x="527.5" y="803.5" width="3.5" height="3.5" fill="#e2379a" class="s"/><path d="M519.6 771.3H538.8M524.2 762.6H534.2M524.2 780.7H534.2M529.2 762.6V780.7" stroke-width="1.6" fill="none"/><circle cx="577.5" cy="730.2" r="2.7" stroke="#4cb4ea" class="o"/><circle cx="572.0" cy="738.3" r="2.7" stroke="#4cb4ea" class="o"/><circle cx="582.5" cy="738.3" r="2.7" stroke="#4cb4ea" class="o"/><circle cx="573.0" cy="742.4" r="2.7" stroke="#4cb4ea" class="o"/><circle cx="583.7" cy="741.8" r="2.7" stroke="#4cb4ea" class="o"/><circle cx="577.5" cy="745.0" r="2.7" stroke="#4cb4ea" class="o"/><circle cx="577.5" cy="804.5" r="2.7" stroke="#4cb4ea" class="o"/><path d="M567.9 748.3H587.1M572.5 741.0H582.5M572.5 755.0H582.5M577.5 741.0V755.0" stroke-width="1.6" fill="none"/><circle cx="606.7" cy="738.9" r="2.7" stroke="#e2379a" class="o"/><circle cx="600.0" cy="763.5" r="2.7" stroke="#e2379a" class="o"/><circle cx="606.7" cy="764.8" r="2.7" stroke="#e2379a" class="o"/><circle cx="612.0" cy="762.0" r="2.7" stroke="#e2379a" class="o"/><circle cx="602.6" cy="773.4" r="2.7" stroke="#e2379a" class="o"/><circle cx="610.7" cy="773.4" r="2.7" stroke="#e2379a" class="o"/><circle cx="602.6" cy="784.8" r="2.7" stroke="#e2379a" class="o"/><circle cx="610.2" cy="787.5" r="2.7" stroke="#e2379a" class="o"/><circle cx="606.7" cy="803.1" r="2.7" stroke="#e2379a" class="o"/><path d="M597.1 771.5H616.3M601.7 766.1H611.7M601.7 778.0H611.7M606.7 766.1V778.0" stroke-width="1.6" fill="none"/><rect x="631.9" y="685.8" width="6.2" height="6.2" fill="#a5a5a5" class="s"/><rect x="633.2" y="687.1" width="3.5" height="3.5" fill="#4cb4ea" class="s"/><rect x="625.9" y="706.9" width="6.2" height="6.2" fill="#a5a5a5" class="s"/><rect x="627.2" y="708.2" width="3.5" height="3.5" fill="#4cb4ea" class="s"/><rect x="631.9" y="709.6" width="6.2" height="6.2" fill="#a5a5a5" class="s"/><rect x="633.2" y="711.0" width="3.5" height="3.5" fill="#4cb4ea" class="s"/><rect x="637.9" y="709.6" width="6.2" height="6.2" fill="#a5a5a5" class="s"/><rect x="639.2" y="711.0" width="3.5" height="3.5" fill="#4cb4ea" class="s"/><rect x="631.9" y="719.6" width="6.2" height="6.2" fill="#a5a5a5" class="s"/><rect x="633.2" y="721.0" width="3.5" height="3.5" fill="#4cb4ea" class="s"/><rect x="631.9" y="731.2" width="6.2" height="6.2" fill="#a5a5a5" class="s"/><rect x="633.2" y="732.5" width="3.5" height="3.5" fill="#4cb4ea" class="s"/><rect x="631.9" y="754.9" width="6.2" height="6.2" fill="#a5a5a5" class="s"/><rect x="633.2" y="756.2" width="3.5" height="3.5" fill="#4cb4ea" class="s"/><rect x="625.9" y="770.3" width="6.2" height="6.2" fill="#a5a5a5" class="s"/><rect x="627.2" y="771.6" width="3.5" height="3.5" fill="#4cb4ea" class="s"/><rect x="631.9" y="774.9" width="6.2" height="6.2" fill="#a5a5a5" class="s"/><rect x="633.2" y="776.2" width="3.5" height="3.5" fill="#4cb4ea" class="s"/><rect x="637.9" y="773.6" width="6.2" height="6.2" fill="#a5a5a5" class="s"/><rect x="639.2" y="775.0" width="3.5" height="3.5" fill="#4cb4ea" class="s"/><rect x="628.7" y="779.8" width="6.2" height="6.2" fill="#a5a5a5" class="s"/><rect x="630.0" y="781.1" width="3.5" height="3.5" fill="#4cb4ea" class="s"/><rect x="635.2" y="783.8" width="6.2" height="6.2" fill="#a5a5a5" class="s"/><rect x="636.5" y="785.1" width="3.5" height="3.5" fill="#4cb4ea" class="s"/><rect x="631.9" y="800.0" width="6.2" height="6.2" fill="#a5a5a5" class="s"/><rect x="633.2" y="801.4" width="3.5" height="3.5" fill="#4cb4ea" class="s"/><path d="M625.4 754.5H644.6M630.0 746.4H640.0M630.0 763.2H640.0M635.0 746.4V763.2" stroke-width="1.6" fill="none"/><rect x="657.6" y="754.1" width="6.2" height="6.2" fill="#a5a5a5" class="s"/><rect x="659.0" y="755.5" width="3.5" height="3.5" fill="#e2379a" class="s"/><rect x="664.9" y="756.3" width="6.2" height="6.2" fill="#a5a5a5" class="s"/><rect x="666.2" y="757.6" width="3.5" height="3.5" fill="#e2379a" class="s"/><rect x="664.9" y="764.9" width="6.2" height="6.2" fill="#a5a5a5" class="s"/><rect x="666.2" y="766.2" width="3.5" height="3.5" fill="#e2379a" class="s"/><rect x="657.6" y="772.9" width="6.2" height="6.2" fill="#a5a5a5" class="s"/><rect x="659.0" y="774.2" width="3.5" height="3.5" fill="#e2379a" class="s"/><rect x="664.9" y="776.9" width="6.2" height="6.2" fill="#a5a5a5" class="s"/><rect x="666.2" y="778.2" width="3.5" height="3.5" fill="#e2379a" class="s"/><rect x="657.6" y="780.6" width="6.2" height="6.2" fill="#a5a5a5" class="s"/><rect x="659.0" y="782.0" width="3.5" height="3.5" fill="#e2379a" class="s"/><rect x="664.9" y="789.8" width="6.2" height="6.2" fill="#a5a5a5" class="s"/><rect x="666.2" y="791.1" width="3.5" height="3.5" fill="#e2379a" class="s"/><rect x="657.6" y="796.0" width="6.2" height="6.2" fill="#a5a5a5" class="s"/><rect x="659.0" y="797.4" width="3.5" height="3.5" fill="#e2379a" class="s"/><path d="M655.1 778.8H674.3M659.7 774.0H669.7M659.7 783.7H669.7M664.7 774.0V783.7" stroke-width="1.6" fill="none"/><path d="M500.7 744V697.8H577.5V711.3" stroke-width="1.7" fill="none"/><text x="538.3" y="699.6" text-anchor="middle" font-size="15">*</text><text x="6.7" y="895.1" font-weight="bold" font-size="19.5">f</text><circle cx="81.6" cy="887.6" r="2.7" stroke="#4cb4ea" class="o"/><text x="88.39999999999999" y="891.2">Male No Defeat</text><rect x="78.5" y="899.5" width="6.2" height="6.2" fill="#a5a5a5" class="s"/><rect x="79.8" y="900.9" width="3.5" height="3.5" fill="#4cb4ea" class="s"/><text x="88.39999999999999" y="906.2">Male Defeat</text><circle cx="206.8" cy="887.6" r="2.7" stroke="#e2379a" class="o"/><text x="213.60000000000002" y="891.2">Female No Defeat</text><rect x="203.7" y="899.5" width="6.2" height="6.2" fill="#a5a5a5" class="s"/><rect x="205.1" y="900.9" width="3.5" height="3.5" fill="#e2379a" class="s"/><text x="213.60000000000002" y="906.2">Female Defeat</text><path d="M70.3 893.4V1068H331" stroke-width="1.6" fill="none"/><path d="M62.599999999999994 893.4H70.3" stroke-width="1.6" fill="none"/><text x="59.2" y="898.1" text-anchor="end">8,000</text><path d="M62.599999999999994 937.0H70.3" stroke-width="1.6" fill="none"/><text x="59.2" y="941.7" text-anchor="end">6,000</text><path d="M62.599999999999994 980.7H70.3" stroke-width="1.6" fill="none"/><text x="59.2" y="985.4" text-anchor="end">4,000</text><path d="M62.599999999999994 1024.3H70.3" stroke-width="1.6" fill="none"/><text x="59.2" y="1029.0" text-anchor="end">2,000</text><path d="M62.599999999999994 1068.0H70.3" stroke-width="1.6" fill="none"/><text x="59.2" y="1072.7" text-anchor="end">0</text><path d="M72.8 1072.2H196.9M205.4 1072.2H331" stroke-width="1.6" fill="none"/><text x="104.5" y="1091.2" font-size="13.8">Wild-type</text><text x="225.0" y="1091.2" font-size="13.8">S1PR3<tspan font-size="10.1" dx="0.4" dy="-7.4">GRE-/GRE-</tspan></text><text x="79.8" y="929.7">Sex p = 0.0327</text><text transform="translate(14.9,963.2) rotate(-90)" text-anchor="middle">Lymphocytes/µL</text><circle cx="89.6" cy="947.0" r="2.7" stroke="#4cb4ea" class="o"/><circle cx="89.6" cy="959.6" r="2.7" stroke="#4cb4ea" class="o"/><circle cx="83.6" cy="977.3" r="2.7" stroke="#4cb4ea" class="o"/><circle cx="89.6" cy="977.7" r="2.7" stroke="#4cb4ea" class="o"/><circle cx="95.9" cy="977.7" r="2.7" stroke="#4cb4ea" class="o"/><circle cx="89.6" cy="982.0" r="2.7" stroke="#4cb4ea" class="o"/><circle cx="89.6" cy="1004.8" r="2.7" stroke="#4cb4ea" class="o"/><circle cx="85.4" cy="1015.3" r="2.7" stroke="#4cb4ea" class="o"/><circle cx="93.7" cy="1014.6" r="2.7" stroke="#4cb4ea" class="o"/><path d="M80.0 985.2H99.2M84.6 976.4H94.6M84.6 994.0H94.6M89.6 976.4V994.0" stroke-width="1.6" fill="none"/><circle cx="118.8" cy="982.2" r="2.7" stroke="#e2379a" class="o"/><circle cx="118.8" cy="1002.8" r="2.7" stroke="#e2379a" class="o"/><circle cx="118.8" cy="1012.8" r="2.7" stroke="#e2379a" class="o"/><circle cx="114.2" cy="1024.0" r="2.7" stroke="#e2379a" class="o"/><circle cx="123.0" cy="1026.6" r="2.7" stroke="#e2379a" class="o"/><circle cx="126.8" cy="1026.6" r="2.7" stroke="#e2379a" class="o"/><circle cx="114.2" cy="1036.2" r="2.7" stroke="#e2379a" class="o"/><circle cx="121.0" cy="1027.5" r="2.7" stroke="#e2379a" class="o"/><path d="M109.2 1016.1H128.4M113.8 1009.5H123.8M113.8 1022.9H123.8M118.8 1009.5V1022.9" stroke-width="1.6" fill="none"/><rect x="145.0" y="943.9" width="6.2" height="6.2" fill="#a5a5a5" class="s"/><rect x="146.3" y="945.2" width="3.5" height="3.5" fill="#4cb4ea" class="s"/><rect x="145.0" y="960.8" width="6.2" height="6.2" fill="#a5a5a5" class="s"/><rect x="146.3" y="962.1" width="3.5" height="3.5" fill="#4cb4ea" class="s"/><rect x="140.5" y="990.4" width="6.2" height="6.2" fill="#a5a5a5" class="s"/><rect x="141.8" y="991.8" width="3.5" height="3.5" fill="#4cb4ea" class="s"/><rect x="148.8" y="996.7" width="6.2" height="6.2" fill="#a5a5a5" class="s"/><rect x="150.2" y="998.0" width="3.5" height="3.5" fill="#4cb4ea" class="s"/><rect x="145.0" y="1004.9" width="6.2" height="6.2" fill="#a5a5a5" class="s"/><rect x="146.3" y="1006.2" width="3.5" height="3.5" fill="#4cb4ea" class="s"/><rect x="138.8" y="1033.6" width="6.2" height="6.2" fill="#a5a5a5" class="s"/><rect x="140.2" y="1035.0" width="3.5" height="3.5" fill="#4cb4ea" class="s"/><rect x="150.6" y="1033.6" width="6.2" height="6.2" fill="#a5a5a5" class="s"/><rect x="151.9" y="1035.0" width="3.5" height="3.5" fill="#4cb4ea" class="s"/><rect x="145.0" y="1041.9" width="6.2" height="6.2" fill="#a5a5a5" class="s"/><rect x="146.3" y="1043.2" width="3.5" height="3.5" fill="#4cb4ea" class="s"/><rect x="145.0" y="1052.9" width="6.2" height="6.2" fill="#a5a5a5" class="s"/><rect x="146.3" y="1054.2" width="3.5" height="3.5" fill="#4cb4ea" class="s"/><path d="M138.5 1009.8H157.7M143.1 997.7H153.1M143.1 1022.3H153.1M148.1 997.7V1022.3" stroke-width="1.6" fill="none"/><rect x="167.6" y="964.3" width="6.2" height="6.2" fill="#a5a5a5" class="s"/><rect x="168.9" y="965.6" width="3.5" height="3.5" fill="#e2379a" class="s"/><rect x="179.6" y="964.3" width="6.2" height="6.2" fill="#a5a5a5" class="s"/><rect x="180.9" y="965.6" width="3.5" height="3.5" fill="#e2379a" class="s"/><rect x="173.7" y="970.2" width="6.2" height="6.2" fill="#a5a5a5" class="s"/><rect x="175.1" y="971.5" width="3.5" height="3.5" fill="#e2379a" class="s"/><rect x="173.7" y="983.9" width="6.2" height="6.2" fill="#a5a5a5" class="s"/><rect x="175.1" y="985.2" width="3.5" height="3.5" fill="#e2379a" class="s"/><rect x="176.9" y="990.9" width="6.2" height="6.2" fill="#a5a5a5" class="s"/><rect x="178.2" y="992.2" width="3.5" height="3.5" fill="#e2379a" class="s"/><rect x="167.6" y="997.2" width="6.2" height="6.2" fill="#a5a5a5" class="s"/><rect x="168.9" y="998.5" width="3.5" height="3.5" fill="#e2379a" class="s"/><rect x="173.7" y="1004.4" width="6.2" height="6.2" fill="#a5a5a5" class="s"/><rect x="175.1" y="1005.8" width="3.5" height="3.5" fill="#e2379a" class="s"/><rect x="179.6" y="1003.9" width="6.2" height="6.2" fill="#a5a5a5" class="s"/><rect x="180.9" y="1005.2" width="3.5" height="3.5" fill="#e2379a" class="s"/><path d="M167.2 988.0H186.4M171.8 982.1H181.8M171.8 993.6H181.8M176.8 982.1V993.6" stroke-width="1.6" fill="none"/><circle cx="221.5" cy="947.4" r="2.7" stroke="#4cb4ea" class="o"/><circle cx="229.5" cy="946.6" r="2.7" stroke="#4cb4ea" class="o"/><circle cx="219.3" cy="954.6" r="2.7" stroke="#4cb4ea" class="o"/><circle cx="231.6" cy="954.0" r="2.7" stroke="#4cb4ea" class="o"/><circle cx="225.5" cy="959.4" r="2.7" stroke="#4cb4ea" class="o"/><circle cx="221.5" cy="970.0" r="2.7" stroke="#4cb4ea" class="o"/><circle cx="229.5" cy="968.7" r="2.7" stroke="#4cb4ea" class="o"/><circle cx="225.5" cy="1009.3" r="2.7" stroke="#4cb4ea" class="o"/><circle cx="221.5" cy="1020.3" r="2.7" stroke="#4cb4ea" class="o"/><circle cx="229.5" cy="1018.2" r="2.7" stroke="#4cb4ea" class="o"/><path d="M215.9 975.4H235.1M220.5 965.5H230.5M220.5 984.2H230.5M225.5 965.5V984.2" stroke-width="1.6" fill="none"/><circle cx="254.3" cy="958.6" r="2.7" stroke="#e2379a" class="o"/><circle cx="254.3" cy="985.6" r="2.7" stroke="#e2379a" class="o"/><circle cx="258.8" cy="987.4" r="2.7" stroke="#e2379a" class="o"/><circle cx="249.5" cy="994.0" r="2.7" stroke="#e2379a" class="o"/><circle cx="254.3" cy="998.0" r="2.7" stroke="#e2379a" class="o"/><circle cx="260.0" cy="1000.0" r="2.7" stroke="#e2379a" class="o"/><circle cx="254.3" cy="1006.1" r="2.7" stroke="#e2379a" class="o"/><circle cx="250.3" cy="1039.5" r="2.7" stroke="#e2379a" class="o"/><circle cx="258.3" cy="1035.5" r="2.7" stroke="#e2379a" class="o"/><path d="M244.7 1001.6H263.9M249.3 993.3H259.3M249.3 1009.6H259.3M254.3 993.3V1009.6" stroke-width="1.6" fill="none"/><rect x="276.6" y="935.4" width="6.2" height="6.2" fill="#a5a5a5" class="s"/><rect x="277.9" y="936.8" width="3.5" height="3.5" fill="#4cb4ea" class="s"/><rect x="284.6" y="935.4" width="6.2" height="6.2" fill="#a5a5a5" class="s"/><rect x="285.9" y="936.8" width="3.5" height="3.5" fill="#4cb4ea" class="s"/><rect x="280.3" y="953.6" width="6.2" height="6.2" fill="#a5a5a5" class="s"/><rect x="281.6" y="955.0" width="3.5" height="3.5" fill="#4cb4ea" class="s"/><rect x="276.6" y="963.0" width="6.2" height="6.2" fill="#a5a5a5" class="s"/><rect x="277.9" y="964.4" width="3.5" height="3.5" fill="#4cb4ea" class="s"/><rect x="284.6" y="963.0" width="6.2" height="6.2" fill="#a5a5a5" class="s"/><rect x="285.9" y="964.4" width="3.5" height="3.5" fill="#4cb4ea" class="s"/><rect x="274.4" y="973.7" width="6.2" height="6.2" fill="#a5a5a5" class="s"/><rect x="275.8" y="975.0" width="3.5" height="3.5" fill="#4cb4ea" class="s"/><rect x="286.5" y="977.1" width="6.2" height="6.2" fill="#a5a5a5" class="s"/><rect x="287.9" y="978.5" width="3.5" height="3.5" fill="#4cb4ea" class="s"/><rect x="280.3" y="984.9" width="6.2" height="6.2" fill="#a5a5a5" class="s"/><rect x="281.6" y="986.2" width="3.5" height="3.5" fill="#4cb4ea" class="s"/><rect x="284.6" y="1008.4" width="6.2" height="6.2" fill="#a5a5a5" class="s"/><rect x="285.9" y="1009.8" width="3.5" height="3.5" fill="#4cb4ea" class="s"/><rect x="280.3" y="1019.1" width="6.2" height="6.2" fill="#a5a5a5" class="s"/><rect x="281.6" y="1020.5" width="3.5" height="3.5" fill="#4cb4ea" class="s"/><rect x="276.6" y="1027.9" width="6.2" height="6.2" fill="#a5a5a5" class="s"/><rect x="277.9" y="1029.2" width="3.5" height="3.5" fill="#4cb4ea" class="s"/><rect x="288.3" y="1027.9" width="6.2" height="6.2" fill="#a5a5a5" class="s"/><rect x="289.6" y="1029.2" width="3.5" height="3.5" fill="#4cb4ea" class="s"/><rect x="284.6" y="1034.3" width="6.2" height="6.2" fill="#a5a5a5" class="s"/><rect x="285.9" y="1035.7" width="3.5" height="3.5" fill="#4cb4ea" class="s"/><rect x="276.6" y="1037.8" width="6.2" height="6.2" fill="#a5a5a5" class="s"/><rect x="277.9" y="1039.2" width="3.5" height="3.5" fill="#4cb4ea" class="s"/><path d="M273.8 992.0H293.0M278.4 984.2H288.4M278.4 1000.0H288.4M283.4 984.2V1000.0" stroke-width="1.6" fill="none"/><rect x="305.2" y="979.5" width="6.2" height="6.2" fill="#a5a5a5" class="s"/><rect x="306.6" y="980.9" width="3.5" height="3.5" fill="#e2379a" class="s"/><rect x="314.0" y="985.1" width="6.2" height="6.2" fill="#a5a5a5" class="s"/><rect x="315.4" y="986.5" width="3.5" height="3.5" fill="#e2379a" class="s"/><rect x="303.3" y="996.9" width="6.2" height="6.2" fill="#a5a5a5" class="s"/><rect x="304.6" y="998.2" width="3.5" height="3.5" fill="#e2379a" class="s"/><rect x="315.8" y="1002.5" width="6.2" height="6.2" fill="#a5a5a5" class="s"/><rect x="317.1" y="1003.9" width="3.5" height="3.5" fill="#e2379a" class="s"/><rect x="309.7" y="1006.9" width="6.2" height="6.2" fill="#a5a5a5" class="s"/><rect x="311.1" y="1008.2" width="3.5" height="3.5" fill="#e2379a" class="s"/><rect x="305.2" y="1019.1" width="6.2" height="6.2" fill="#a5a5a5" class="s"/><rect x="306.6" y="1020.5" width="3.5" height="3.5" fill="#e2379a" class="s"/><rect x="313.2" y="1021.7" width="6.2" height="6.2" fill="#a5a5a5" class="s"/><rect x="314.6" y="1023.0" width="3.5" height="3.5" fill="#e2379a" class="s"/><rect x="311.9" y="1025.8" width="6.2" height="6.2" fill="#a5a5a5" class="s"/><rect x="313.2" y="1027.2" width="3.5" height="3.5" fill="#e2379a" class="s"/><rect x="309.7" y="1035.9" width="6.2" height="6.2" fill="#a5a5a5" class="s"/><rect x="311.1" y="1037.2" width="3.5" height="3.5" fill="#e2379a" class="s"/><path d="M303.2 1012.8H322.4M307.8 1007.0H317.8M307.8 1018.2H317.8M312.8 1007.0V1018.2" stroke-width="1.6" fill="none"/><text x="356.7" y="893.2" font-weight="bold" font-size="19.5">g</text><circle cx="435.1" cy="887.1" r="2.7" stroke="#4cb4ea" class="o"/><text x="441.90000000000003" y="890.7">Male No Defeat</text><rect x="432.0" y="899.5" width="6.2" height="6.2" fill="#a5a5a5" class="s"/><rect x="433.4" y="900.9" width="3.5" height="3.5" fill="#4cb4ea" class="s"/><text x="441.90000000000003" y="906.2">Male Defeat</text><circle cx="560.8" cy="887.1" r="2.7" stroke="#e2379a" class="o"/><text x="567.6" y="890.7">Female No Defeat</text><rect x="557.7" y="899.5" width="6.2" height="6.2" fill="#a5a5a5" class="s"/><rect x="559.1" y="900.9" width="3.5" height="3.5" fill="#e2379a" class="s"/><text x="567.6" y="906.2">Female Defeat</text><path d="M421.6 894.5V1068H684" stroke-width="1.6" fill="none"/><path d="M414.0 894.5H421.6" stroke-width="1.6" fill="none"/><text x="410.8" y="899.2" text-anchor="end">1.0</text><path d="M414.0 929.2H421.6" stroke-width="1.6" fill="none"/><text x="410.8" y="933.9" text-anchor="end">0.8</text><path d="M414.0 963.9H421.6" stroke-width="1.6" fill="none"/><text x="410.8" y="968.6" text-anchor="end">0.6</text><path d="M414.0 998.6H421.6" stroke-width="1.6" fill="none"/><text x="410.8" y="1003.3" text-anchor="end">0.4</text><path d="M414.0 1033.3H421.6" stroke-width="1.6" fill="none"/><text x="410.8" y="1038.0" text-anchor="end">0.2</text><path d="M414.0 1068.0H421.6" stroke-width="1.6" fill="none"/><text x="410.8" y="1072.7" text-anchor="end">0</text><path d="M423.8 1072.2H549.4M557.5 1072.2H684" stroke-width="1.6" fill="none"/><text x="456.9" y="1091.2" font-size="13.8">Wild-type</text><text x="577.0" y="1091.2" font-size="13.8">S1PR3<tspan font-size="10.1" dx="0.4" dy="-7.4">GRE-/GRE-</tspan></text><text transform="translate(382.6,981.5) rotate(-90)" text-anchor="middle">Neutrophil to lymphocyte ratio</text><circle cx="440.9" cy="1003.5" r="2.7" stroke="#4cb4ea" class="o"/><circle cx="434.6" cy="1021.0" r="2.7" stroke="#4cb4ea" class="o"/><circle cx="440.9" cy="1023.5" r="2.7" stroke="#4cb4ea" class="o"/><circle cx="446.4" cy="1021.0" r="2.7" stroke="#4cb4ea" class="o"/><circle cx="434.6" cy="1038.0" r="2.7" stroke="#4cb4ea" class="o"/><circle cx="440.9" cy="1034.0" r="2.7" stroke="#4cb4ea" class="o"/><circle cx="446.4" cy="1036.7" r="2.7" stroke="#4cb4ea" class="o"/><circle cx="440.5" cy="1045.0" r="2.7" stroke="#4cb4ea" class="o"/><circle cx="446.4" cy="1044.2" r="2.7" stroke="#4cb4ea" class="o"/><path d="M431.3 1028.6H450.5M435.9 1024.1H445.9M435.9 1033.6H445.9M440.9 1024.1V1033.6" stroke-width="1.6" fill="none"/><circle cx="469.3" cy="929.8" r="2.7" stroke="#e2379a" class="o"/><circle cx="469.3" cy="994.0" r="2.7" stroke="#e2379a" class="o"/><circle cx="465.3" cy="1014.6" r="2.7" stroke="#e2379a" class="o"/><circle cx="473.6" cy="1014.1" r="2.7" stroke="#e2379a" class="o"/><circle cx="469.3" cy="1032.4" r="2.7" stroke="#e2379a" class="o"/><circle cx="469.3" cy="1042.2" r="2.7" stroke="#e2379a" class="o"/><path d="M459.7 1004.8H478.9M464.3 988.2H474.3M464.3 1021.1H474.3M469.3 988.2V1021.1" stroke-width="1.6" fill="none"/><rect x="491.3" y="1016.5" width="6.2" height="6.2" fill="#a5a5a5" class="s"/><rect x="492.6" y="1017.9" width="3.5" height="3.5" fill="#4cb4ea" class="s"/><rect x="499.3" y="1017.0" width="6.2" height="6.2" fill="#a5a5a5" class="s"/><rect x="500.6" y="1018.4" width="3.5" height="3.5" fill="#4cb4ea" class="s"/><rect x="491.3" y="1031.7" width="6.2" height="6.2" fill="#a5a5a5" class="s"/><rect x="492.6" y="1033.0" width="3.5" height="3.5" fill="#4cb4ea" class="s"/><rect x="499.3" y="1031.7" width="6.2" height="6.2" fill="#a5a5a5" class="s"/><rect x="500.6" y="1033.0" width="3.5" height="3.5" fill="#4cb4ea" class="s"/><rect x="490.5" y="1040.3" width="6.2" height="6.2" fill="#a5a5a5" class="s"/><rect x="491.9" y="1041.7" width="3.5" height="3.5" fill="#4cb4ea" class="s"/><rect x="499.9" y="1041.8" width="6.2" height="6.2" fill="#a5a5a5" class="s"/><rect x="501.2" y="1043.2" width="3.5" height="3.5" fill="#4cb4ea" class="s"/><rect x="495.6" y="1034.9" width="6.2" height="6.2" fill="#a5a5a5" class="s"/><rect x="496.9" y="1036.2" width="3.5" height="3.5" fill="#4cb4ea" class="s"/><rect x="495.6" y="1057.9" width="6.2" height="6.2" fill="#a5a5a5" class="s"/><rect x="496.9" y="1059.2" width="3.5" height="3.5" fill="#4cb4ea" class="s"/><path d="M489.1 1036.7H508.3M493.7 1032.4H503.7M493.7 1041.7H503.7M498.7 1032.4V1041.7" stroke-width="1.6" fill="none"/><rect x="523.9" y="1012.5" width="6.2" height="6.2" fill="#a5a5a5" class="s"/><rect x="525.2" y="1013.9" width="3.5" height="3.5" fill="#e2379a" class="s"/><rect x="518.5" y="1021.7" width="6.2" height="6.2" fill="#a5a5a5" class="s"/><rect x="519.9" y="1023.0" width="3.5" height="3.5" fill="#e2379a" class="s"/><rect x="530.1" y="1023.3" width="6.2" height="6.2" fill="#a5a5a5" class="s"/><rect x="531.5" y="1024.7" width="3.5" height="3.5" fill="#e2379a" class="s"/><rect x="520.4" y="1036.8" width="6.2" height="6.2" fill="#a5a5a5" class="s"/><rect x="521.8" y="1038.2" width="3.5" height="3.5" fill="#e2379a" class="s"/><rect x="528.5" y="1037.3" width="6.2" height="6.2" fill="#a5a5a5" class="s"/><rect x="529.9" y="1038.7" width="3.5" height="3.5" fill="#e2379a" class="s"/><rect x="523.9" y="1050.8" width="6.2" height="6.2" fill="#a5a5a5" class="s"/><rect x="525.2" y="1052.2" width="3.5" height="3.5" fill="#e2379a" class="s"/><path d="M517.4 1032.9H536.6M522.0 1028.3H532.0M522.0 1037.7H532.0M527.0 1028.3V1037.7" stroke-width="1.6" fill="none"/><circle cx="569.7" cy="1027.0" r="2.7" stroke="#4cb4ea" class="o"/><circle cx="575.6" cy="1029.0" r="2.7" stroke="#4cb4ea" class="o"/><circle cx="581.8" cy="1029.0" r="2.7" stroke="#4cb4ea" class="o"/><circle cx="571.6" cy="1033.5" r="2.7" stroke="#4cb4ea" class="o"/><circle cx="578.0" cy="1036.0" r="2.7" stroke="#4cb4ea" class="o"/><circle cx="579.7" cy="1043.1" r="2.7" stroke="#4cb4ea" class="o"/><circle cx="571.6" cy="1047.2" r="2.7" stroke="#4cb4ea" class="o"/><path d="M566.0 1035.0H585.2M570.6 1032.3H580.6M570.6 1038.3H580.6M575.6 1032.3V1038.3" stroke-width="1.6" fill="none"/><circle cx="604.8" cy="989.1" r="2.7" stroke="#e2379a" class="o"/><circle cx="604.8" cy="1018.7" r="2.7" stroke="#e2379a" class="o"/><circle cx="598.6" cy="1023.7" r="2.7" stroke="#e2379a" class="o"/><circle cx="610.7" cy="1023.7" r="2.7" stroke="#e2379a" class="o"/><circle cx="598.6" cy="1035.0" r="2.7" stroke="#e2379a" class="o"/><circle cx="604.8" cy="1030.0" r="2.7" stroke="#e2379a" class="o"/><circle cx="610.7" cy="1040.4" r="2.7" stroke="#e2379a" class="o"/><circle cx="604.8" cy="1041.8" r="2.7" stroke="#e2379a" class="o"/><path d="M595.2 1026.1H614.4M599.8 1021.0H609.8M599.8 1031.0H609.8M604.8 1021.0V1031.0" stroke-width="1.6" fill="none"/><rect x="630.6" y="977.9" width="6.2" height="6.2" fill="#a5a5a5" class="s"/><rect x="632.0" y="979.2" width="3.5" height="3.5" fill="#4cb4ea" class="s"/><rect x="630.6" y="991.4" width="6.2" height="6.2" fill="#a5a5a5" class="s"/><rect x="632.0" y="992.8" width="3.5" height="3.5" fill="#4cb4ea" class="s"/><rect x="634.6" y="998.2" width="6.2" height="6.2" fill="#a5a5a5" class="s"/><rect x="636.0" y="999.5" width="3.5" height="3.5" fill="#4cb4ea" class="s"/><rect x="626.5" y="1003.6" width="6.2" height="6.2" fill="#a5a5a5" class="s"/><rect x="627.9" y="1005.0" width="3.5" height="3.5" fill="#4cb4ea" class="s"/><rect x="634.6" y="1007.6" width="6.2" height="6.2" fill="#a5a5a5" class="s"/><rect x="636.0" y="1009.0" width="3.5" height="3.5" fill="#4cb4ea" class="s"/><rect x="630.6" y="1010.3" width="6.2" height="6.2" fill="#a5a5a5" class="s"/><rect x="632.0" y="1011.6" width="3.5" height="3.5" fill="#4cb4ea" class="s"/><rect x="634.6" y="1021.7" width="6.2" height="6.2" fill="#a5a5a5" class="s"/><rect x="636.0" y="1023.0" width="3.5" height="3.5" fill="#4cb4ea" class="s"/><rect x="626.5" y="1027.3" width="6.2" height="6.2" fill="#a5a5a5" class="s"/><rect x="627.9" y="1028.7" width="3.5" height="3.5" fill="#4cb4ea" class="s"/><path d="M624.1 1010.2H643.3M628.7 1005.9H638.7M628.7 1015.3H638.7M633.7 1005.9V1015.3" stroke-width="1.6" fill="none"/><rect x="655.7" y="994.9" width="6.2" height="6.2" fill="#a5a5a5" class="s"/><rect x="657.0" y="996.2" width="3.5" height="3.5" fill="#e2379a" class="s"/><rect x="663.8" y="1000.9" width="6.2" height="6.2" fill="#a5a5a5" class="s"/><rect x="665.1" y="1002.2" width="3.5" height="3.5" fill="#e2379a" class="s"/><rect x="653.5" y="1012.5" width="6.2" height="6.2" fill="#a5a5a5" class="s"/><rect x="654.9" y="1013.9" width="3.5" height="3.5" fill="#e2379a" class="s"/><rect x="662.2" y="1015.2" width="6.2" height="6.2" fill="#a5a5a5" class="s"/><rect x="663.5" y="1016.5" width="3.5" height="3.5" fill="#e2379a" class="s"/><rect x="659.5" y="1021.4" width="6.2" height="6.2" fill="#a5a5a5" class="s"/><rect x="660.9" y="1022.8" width="3.5" height="3.5" fill="#e2379a" class="s"/><rect x="653.5" y="1037.9" width="6.2" height="6.2" fill="#a5a5a5" class="s"/><rect x="654.9" y="1039.2" width="3.5" height="3.5" fill="#e2379a" class="s"/><rect x="659.5" y="1041.4" width="6.2" height="6.2" fill="#a5a5a5" class="s"/><rect x="660.9" y="1042.8" width="3.5" height="3.5" fill="#e2379a" class="s"/><rect x="665.7" y="1040.6" width="6.2" height="6.2" fill="#a5a5a5" class="s"/><rect x="667.0" y="1042.0" width="3.5" height="3.5" fill="#e2379a" class="s"/><path d="M653.0 1024.2H672.2M657.6 1018.3H667.6M657.6 1030.2H667.6M662.6 1018.3V1030.2" stroke-width="1.6" fill="none"/><path d="M498.7 1011.6V973.5H627.7V984.5" stroke-width="1.7" fill="none"/><path d="M574.3 1007.5V960H636.9V972.9" stroke-width="1.7" fill="none"/><text x="556.2" y="974.2" text-anchor="middle" font-size="15">*</text><text x="603.2" y="961.5" text-anchor="middle" font-size="15">*</text></g>
</svg>
</body></html>
